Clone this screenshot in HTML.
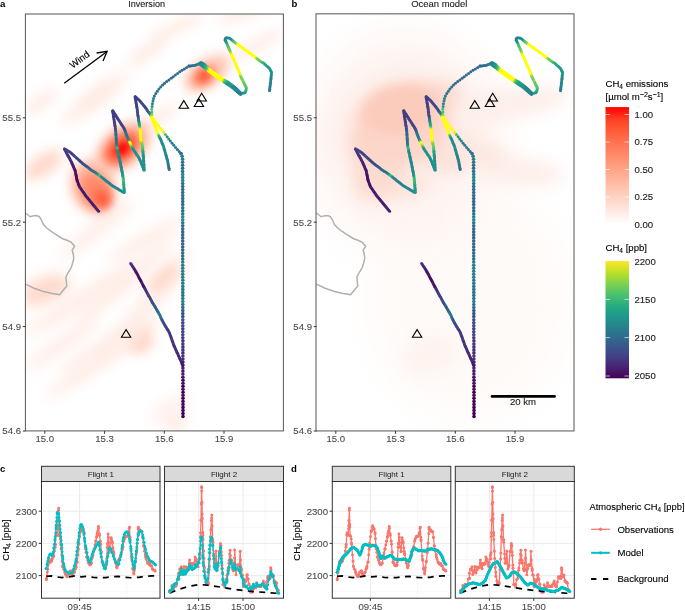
<!DOCTYPE html>
<html><head><meta charset="utf-8"><style>
html,body{margin:0;padding:0;background:#fff;width:685px;height:610px;overflow:hidden}
svg{display:block;will-change:transform}
text{font-family:"Liberation Sans",sans-serif}
</style></head><body>
<svg width="685" height="610" viewBox="0 0 685 610" font-family="Liberation Sans, sans-serif">
<defs><filter id="bl3" x="-100%" y="-100%" width="300%" height="300%"><feGaussianBlur stdDeviation="3"/></filter><filter id="bl4" x="-100%" y="-100%" width="300%" height="300%"><feGaussianBlur stdDeviation="4"/></filter><filter id="bl5" x="-100%" y="-100%" width="300%" height="300%"><feGaussianBlur stdDeviation="5"/></filter><filter id="bl6" x="-100%" y="-100%" width="300%" height="300%"><feGaussianBlur stdDeviation="6"/></filter><filter id="bl7" x="-100%" y="-100%" width="300%" height="300%"><feGaussianBlur stdDeviation="7"/></filter><filter id="bl8" x="-100%" y="-100%" width="300%" height="300%"><feGaussianBlur stdDeviation="8"/></filter><filter id="bl10" x="-100%" y="-100%" width="300%" height="300%"><feGaussianBlur stdDeviation="10"/></filter><filter id="bl12" x="-100%" y="-100%" width="300%" height="300%"><feGaussianBlur stdDeviation="12"/></filter><filter id="bl18" x="-100%" y="-100%" width="300%" height="300%"><feGaussianBlur stdDeviation="18"/></filter><filter id="bl20" x="-100%" y="-100%" width="300%" height="300%"><feGaussianBlur stdDeviation="20"/></filter></defs>
<defs>
<clipPath id="cpa"><rect x="25.5" y="14.5" width="258" height="416"/></clipPath>
<clipPath id="cpb"><rect x="316.5" y="14.5" width="258" height="416"/></clipPath>
<g id="trk"><circle cx="98.6" cy="211.3" r="1.50" fill="#481c6e"/><circle cx="97.8" cy="210.3" r="1.50" fill="#482979"/><circle cx="96.9" cy="209.3" r="1.50" fill="#482173"/><circle cx="96.1" cy="208.3" r="1.50" fill="#482878"/><circle cx="95.3" cy="207.3" r="1.50" fill="#472c7a"/><circle cx="94.5" cy="206.3" r="1.50" fill="#482374"/><circle cx="93.6" cy="205.3" r="1.50" fill="#482173"/><circle cx="92.8" cy="204.3" r="1.50" fill="#48186a"/><circle cx="92.0" cy="203.3" r="1.50" fill="#481c6e"/><circle cx="91.2" cy="202.3" r="1.50" fill="#482071"/><circle cx="90.3" cy="201.3" r="1.50" fill="#482374"/><circle cx="89.5" cy="200.3" r="1.50" fill="#482576"/><circle cx="88.7" cy="199.3" r="1.50" fill="#481c6e"/><circle cx="87.9" cy="198.2" r="1.50" fill="#481668"/><circle cx="87.0" cy="197.2" r="1.50" fill="#481a6c"/><circle cx="86.2" cy="196.2" r="1.50" fill="#482576"/><circle cx="85.4" cy="195.2" r="1.50" fill="#481769"/><circle cx="84.7" cy="194.1" r="1.50" fill="#481b6d"/><circle cx="83.9" cy="193.1" r="1.50" fill="#482475"/><circle cx="83.2" cy="192.0" r="1.50" fill="#471063"/><circle cx="82.5" cy="190.9" r="1.50" fill="#481c6e"/><circle cx="81.7" cy="189.9" r="1.50" fill="#482374"/><circle cx="81.0" cy="188.8" r="1.50" fill="#471365"/><circle cx="80.2" cy="187.7" r="1.50" fill="#48186a"/><circle cx="79.5" cy="186.7" r="1.50" fill="#481f70"/><circle cx="79.0" cy="185.4" r="1.50" fill="#470d60"/><circle cx="78.5" cy="184.2" r="1.50" fill="#471365"/><circle cx="78.1" cy="183.0" r="1.50" fill="#481668"/><circle cx="77.6" cy="181.8" r="1.50" fill="#471164"/><circle cx="77.1" cy="180.6" r="1.50" fill="#460b5e"/><circle cx="76.9" cy="179.3" r="1.50" fill="#46075a"/><circle cx="76.6" cy="178.1" r="1.50" fill="#470e61"/><circle cx="76.4" cy="176.8" r="1.50" fill="#470d60"/><circle cx="76.1" cy="175.5" r="1.50" fill="#471164"/><circle cx="75.9" cy="174.2" r="1.50" fill="#471063"/><circle cx="75.6" cy="172.9" r="1.50" fill="#481b6d"/><circle cx="75.4" cy="171.7" r="1.50" fill="#481b6d"/><circle cx="75.1" cy="170.4" r="1.50" fill="#471365"/><circle cx="74.6" cy="169.2" r="1.50" fill="#481b6d"/><circle cx="74.0" cy="168.0" r="1.50" fill="#481769"/><circle cx="73.5" cy="166.8" r="1.50" fill="#481c6e"/><circle cx="73.0" cy="165.6" r="1.50" fill="#481c6e"/><circle cx="72.5" cy="164.4" r="1.50" fill="#482475"/><circle cx="72.0" cy="163.2" r="1.50" fill="#482071"/><circle cx="71.5" cy="162.0" r="1.50" fill="#482475"/><circle cx="70.9" cy="160.9" r="1.50" fill="#472a7a"/><circle cx="70.2" cy="159.8" r="1.50" fill="#482677"/><circle cx="69.6" cy="158.6" r="1.50" fill="#46337f"/><circle cx="69.0" cy="157.5" r="1.50" fill="#482677"/><circle cx="68.4" cy="156.3" r="1.50" fill="#463480"/><circle cx="67.8" cy="155.2" r="1.50" fill="#472f7d"/><circle cx="67.1" cy="154.0" r="1.50" fill="#46327e"/><circle cx="66.5" cy="152.9" r="1.50" fill="#453882"/><circle cx="65.9" cy="151.8" r="1.50" fill="#453882"/><circle cx="65.3" cy="150.6" r="1.50" fill="#453882"/><circle cx="64.7" cy="149.5" r="1.50" fill="#46337f"/><circle cx="64.5" cy="148.8" r="1.50" fill="#453781"/><circle cx="65.6" cy="149.4" r="1.50" fill="#414287"/><circle cx="66.7" cy="150.1" r="1.50" fill="#424086"/><circle cx="67.8" cy="150.8" r="1.50" fill="#404588"/><circle cx="68.9" cy="151.5" r="1.50" fill="#3e4a89"/><circle cx="70.0" cy="152.1" r="1.50" fill="#404688"/><circle cx="71.0" cy="153.0" r="1.50" fill="#443b84"/><circle cx="72.0" cy="153.8" r="1.50" fill="#424086"/><circle cx="73.0" cy="154.7" r="1.50" fill="#404688"/><circle cx="73.9" cy="155.6" r="1.50" fill="#424086"/><circle cx="74.9" cy="156.4" r="1.50" fill="#3d4e8a"/><circle cx="75.9" cy="157.3" r="1.50" fill="#3d4e8a"/><circle cx="76.8" cy="158.2" r="1.50" fill="#3d4d8a"/><circle cx="77.8" cy="159.1" r="1.50" fill="#404688"/><circle cx="78.8" cy="159.9" r="1.50" fill="#3d4d8a"/><circle cx="79.7" cy="160.8" r="1.50" fill="#424186"/><circle cx="80.7" cy="161.7" r="1.50" fill="#404588"/><circle cx="81.7" cy="162.5" r="1.50" fill="#3f4889"/><circle cx="82.6" cy="163.4" r="1.50" fill="#3d4e8a"/><circle cx="83.7" cy="164.2" r="1.50" fill="#3d4d8a"/><circle cx="84.7" cy="165.0" r="1.50" fill="#3e4a89"/><circle cx="85.7" cy="165.8" r="1.50" fill="#3b528b"/><circle cx="86.8" cy="166.5" r="1.50" fill="#39558c"/><circle cx="87.8" cy="167.3" r="1.50" fill="#38598c"/><circle cx="88.8" cy="168.1" r="1.50" fill="#375b8d"/><circle cx="89.9" cy="168.9" r="1.50" fill="#33628d"/><circle cx="90.9" cy="169.7" r="1.50" fill="#31668e"/><circle cx="92.0" cy="170.5" r="1.50" fill="#2e6f8e"/><circle cx="93.0" cy="171.2" r="1.50" fill="#2c718e"/><circle cx="94.2" cy="171.8" r="1.50" fill="#2d718e"/><circle cx="95.3" cy="172.5" r="1.50" fill="#2c738e"/><circle cx="96.4" cy="173.2" r="1.50" fill="#297b8e"/><circle cx="97.5" cy="173.9" r="1.50" fill="#238a8d"/><circle cx="98.5" cy="174.7" r="1.50" fill="#1fa187"/><circle cx="99.5" cy="175.5" r="1.50" fill="#3fbc73"/><circle cx="100.5" cy="176.3" r="1.50" fill="#2db27d"/><circle cx="101.5" cy="177.1" r="1.50" fill="#238a8d"/><circle cx="102.6" cy="177.9" r="1.50" fill="#23898e"/><circle cx="103.6" cy="178.8" r="1.50" fill="#26818e"/><circle cx="104.6" cy="179.6" r="1.50" fill="#25838e"/><circle cx="105.6" cy="180.4" r="1.50" fill="#23888e"/><circle cx="106.6" cy="181.2" r="1.50" fill="#24878e"/><circle cx="107.7" cy="182.0" r="1.50" fill="#277f8e"/><circle cx="108.7" cy="182.8" r="1.50" fill="#24868e"/><circle cx="109.7" cy="183.6" r="1.50" fill="#277e8e"/><circle cx="110.7" cy="184.4" r="1.50" fill="#26828e"/><circle cx="111.7" cy="185.2" r="1.50" fill="#23898e"/><circle cx="112.8" cy="185.9" r="1.50" fill="#25838e"/><circle cx="113.9" cy="186.6" r="1.50" fill="#24878e"/><circle cx="115.0" cy="187.3" r="1.50" fill="#238a8d"/><circle cx="116.2" cy="187.9" r="1.50" fill="#228d8d"/><circle cx="117.3" cy="188.6" r="1.50" fill="#228d8d"/><circle cx="118.4" cy="189.3" r="1.50" fill="#25838e"/><circle cx="119.5" cy="190.0" r="1.50" fill="#238a8d"/><circle cx="120.6" cy="190.6" r="1.50" fill="#228c8d"/><circle cx="121.7" cy="191.3" r="1.50" fill="#24878e"/><circle cx="122.8" cy="192.0" r="1.50" fill="#21908d"/><circle cx="124.0" cy="192.6" r="1.50" fill="#20928c"/><circle cx="124.3" cy="192.1" r="1.50" fill="#1f978b"/><circle cx="124.2" cy="190.8" r="1.50" fill="#1e9d89"/><circle cx="124.1" cy="189.5" r="1.50" fill="#1f958b"/><circle cx="124.0" cy="188.2" r="1.50" fill="#1e9c89"/><circle cx="123.9" cy="186.9" r="1.50" fill="#21a685"/><circle cx="123.8" cy="185.6" r="1.50" fill="#1fa287"/><circle cx="123.7" cy="184.3" r="1.50" fill="#22a884"/><circle cx="123.6" cy="183.0" r="1.50" fill="#2cb17e"/><circle cx="123.5" cy="181.7" r="1.50" fill="#29af7f"/><circle cx="123.4" cy="180.5" r="1.50" fill="#3dbc74"/><circle cx="123.3" cy="179.2" r="1.50" fill="#48c16e"/><circle cx="123.2" cy="177.9" r="1.50" fill="#34b679"/><circle cx="122.9" cy="176.6" r="1.50" fill="#28ae80"/><circle cx="122.7" cy="175.3" r="1.50" fill="#20a386"/><circle cx="122.5" cy="174.0" r="1.50" fill="#1f978b"/><circle cx="122.3" cy="172.7" r="1.50" fill="#228b8d"/><circle cx="122.0" cy="171.5" r="1.50" fill="#23888e"/><circle cx="121.8" cy="170.2" r="1.50" fill="#21918c"/><circle cx="121.5" cy="168.9" r="1.50" fill="#21908d"/><circle cx="121.3" cy="167.6" r="1.50" fill="#25838e"/><circle cx="121.0" cy="166.4" r="1.50" fill="#25858e"/><circle cx="120.8" cy="165.1" r="1.50" fill="#23888e"/><circle cx="120.5" cy="163.8" r="1.50" fill="#238a8d"/><circle cx="120.2" cy="162.5" r="1.50" fill="#26818e"/><circle cx="120.0" cy="161.3" r="1.50" fill="#23898e"/><circle cx="119.7" cy="160.0" r="1.50" fill="#228c8d"/><circle cx="119.4" cy="158.7" r="1.50" fill="#238a8d"/><circle cx="119.1" cy="157.4" r="1.50" fill="#25858e"/><circle cx="118.9" cy="156.2" r="1.50" fill="#25848e"/><circle cx="118.6" cy="154.9" r="1.50" fill="#23898e"/><circle cx="118.3" cy="153.6" r="1.50" fill="#20928c"/><circle cx="118.0" cy="152.4" r="1.50" fill="#24878e"/><circle cx="117.7" cy="151.1" r="1.50" fill="#23888e"/><circle cx="117.5" cy="149.8" r="1.50" fill="#20928c"/><circle cx="117.2" cy="148.6" r="1.50" fill="#23a983"/><circle cx="116.9" cy="147.3" r="1.50" fill="#4ec36b"/><circle cx="116.7" cy="146.0" r="1.50" fill="#21a585"/><circle cx="116.6" cy="144.7" r="1.50" fill="#228b8d"/><circle cx="116.5" cy="143.4" r="1.50" fill="#297a8e"/><circle cx="116.4" cy="142.1" r="1.50" fill="#2b758e"/><circle cx="116.3" cy="140.8" r="1.50" fill="#2d708e"/><circle cx="116.2" cy="139.5" r="1.50" fill="#2c718e"/><circle cx="116.2" cy="138.2" r="1.50" fill="#2c738e"/><circle cx="116.1" cy="136.9" r="1.50" fill="#2a778e"/><circle cx="116.0" cy="135.6" r="1.50" fill="#2a778e"/><circle cx="115.9" cy="134.3" r="1.50" fill="#2f6b8e"/><circle cx="115.9" cy="133.0" r="1.50" fill="#31668e"/><circle cx="115.8" cy="131.7" r="1.50" fill="#2e6f8e"/><circle cx="115.6" cy="130.4" r="1.50" fill="#32648e"/><circle cx="115.4" cy="129.1" r="1.50" fill="#3c4f8a"/><circle cx="115.3" cy="127.9" r="1.50" fill="#3f4889"/><circle cx="115.1" cy="126.6" r="1.50" fill="#3e4989"/><circle cx="114.9" cy="125.3" r="1.50" fill="#404588"/><circle cx="114.7" cy="124.0" r="1.50" fill="#3f4889"/><circle cx="114.5" cy="122.7" r="1.50" fill="#443983"/><circle cx="114.3" cy="121.4" r="1.50" fill="#433d84"/><circle cx="114.1" cy="120.1" r="1.50" fill="#433d84"/><circle cx="113.9" cy="118.9" r="1.50" fill="#443983"/><circle cx="113.7" cy="117.6" r="1.50" fill="#3f4788"/><circle cx="113.5" cy="116.3" r="1.50" fill="#453781"/><circle cx="113.3" cy="115.0" r="1.50" fill="#414287"/><circle cx="113.1" cy="113.7" r="1.50" fill="#453781"/><circle cx="112.9" cy="112.4" r="1.50" fill="#443b84"/><circle cx="112.7" cy="111.1" r="1.50" fill="#433d84"/><circle cx="112.8" cy="110.7" r="1.50" fill="#453882"/><circle cx="113.5" cy="111.8" r="1.50" fill="#423f85"/><circle cx="114.2" cy="112.9" r="1.50" fill="#424086"/><circle cx="114.9" cy="114.0" r="1.50" fill="#433d84"/><circle cx="115.6" cy="115.1" r="1.50" fill="#404588"/><circle cx="116.3" cy="116.2" r="1.50" fill="#443b84"/><circle cx="117.0" cy="117.3" r="1.50" fill="#433d84"/><circle cx="117.6" cy="118.4" r="1.50" fill="#424086"/><circle cx="118.3" cy="119.5" r="1.50" fill="#424186"/><circle cx="119.0" cy="120.6" r="1.50" fill="#423f85"/><circle cx="119.8" cy="121.7" r="1.50" fill="#3d4d8a"/><circle cx="120.5" cy="122.8" r="1.50" fill="#3e4c8a"/><circle cx="121.2" cy="123.9" r="1.50" fill="#423f85"/><circle cx="121.9" cy="125.0" r="1.50" fill="#404588"/><circle cx="122.6" cy="126.1" r="1.50" fill="#414287"/><circle cx="123.3" cy="127.1" r="1.50" fill="#3f4788"/><circle cx="124.0" cy="128.2" r="1.50" fill="#404588"/><circle cx="124.6" cy="129.4" r="1.50" fill="#3d4d8a"/><circle cx="125.0" cy="130.6" r="1.50" fill="#355e8d"/><circle cx="125.4" cy="131.8" r="1.50" fill="#355f8d"/><circle cx="125.9" cy="133.1" r="1.50" fill="#2f6c8e"/><circle cx="126.3" cy="134.3" r="1.50" fill="#2b748e"/><circle cx="126.7" cy="135.5" r="1.50" fill="#287c8e"/><circle cx="127.2" cy="136.7" r="1.50" fill="#2c718e"/><circle cx="127.7" cy="137.9" r="1.50" fill="#287c8e"/><circle cx="128.2" cy="139.1" r="1.50" fill="#277f8e"/><circle cx="128.7" cy="140.3" r="1.50" fill="#228d8d"/><circle cx="129.3" cy="141.5" r="1.50" fill="#54c568"/><circle cx="129.9" cy="142.6" r="1.50" fill="#ffff00"/><circle cx="130.5" cy="143.8" r="1.50" fill="#ffff00"/><circle cx="131.0" cy="145.0" r="1.50" fill="#c5e021"/><circle cx="131.6" cy="146.2" r="1.50" fill="#7ad151"/><circle cx="132.2" cy="147.3" r="1.50" fill="#3aba76"/><circle cx="132.7" cy="148.5" r="1.50" fill="#1f978b"/><circle cx="133.4" cy="149.6" r="1.50" fill="#1f978b"/><circle cx="134.1" cy="150.7" r="1.50" fill="#1f968b"/><circle cx="134.9" cy="151.8" r="1.50" fill="#218f8d"/><circle cx="135.6" cy="152.8" r="1.50" fill="#20928c"/><circle cx="136.3" cy="153.9" r="1.50" fill="#23898e"/><circle cx="137.0" cy="155.0" r="1.50" fill="#1f978b"/><circle cx="137.8" cy="156.1" r="1.50" fill="#1f948c"/><circle cx="138.5" cy="157.1" r="1.50" fill="#20928c"/><circle cx="139.2" cy="158.2" r="1.50" fill="#1f948c"/><circle cx="139.7" cy="159.4" r="1.50" fill="#228c8d"/><circle cx="140.2" cy="160.6" r="1.50" fill="#218f8d"/><circle cx="140.7" cy="161.8" r="1.50" fill="#218e8d"/><circle cx="141.2" cy="163.0" r="1.50" fill="#20938c"/><circle cx="141.7" cy="164.3" r="1.50" fill="#228d8d"/><circle cx="142.2" cy="165.5" r="1.50" fill="#1f998a"/><circle cx="142.6" cy="166.7" r="1.50" fill="#20928c"/><circle cx="143.1" cy="167.9" r="1.50" fill="#20938c"/><circle cx="143.6" cy="169.1" r="1.50" fill="#218f8d"/><circle cx="144.1" cy="170.3" r="1.50" fill="#1f978b"/><circle cx="144.1" cy="169.4" r="1.50" fill="#1f998a"/><circle cx="144.1" cy="168.1" r="1.50" fill="#1f958b"/><circle cx="144.0" cy="166.8" r="1.50" fill="#218f8d"/><circle cx="143.9" cy="165.5" r="1.50" fill="#1f968b"/><circle cx="143.9" cy="164.2" r="1.50" fill="#228c8d"/><circle cx="143.8" cy="162.9" r="1.50" fill="#1f958b"/><circle cx="143.7" cy="161.6" r="1.50" fill="#20928c"/><circle cx="143.6" cy="160.4" r="1.50" fill="#228d8d"/><circle cx="143.5" cy="159.1" r="1.50" fill="#21918c"/><circle cx="143.5" cy="157.8" r="1.50" fill="#20928c"/><circle cx="143.3" cy="156.5" r="1.50" fill="#218e8d"/><circle cx="143.2" cy="155.2" r="1.50" fill="#1f9a8a"/><circle cx="143.1" cy="153.9" r="1.50" fill="#1f968b"/><circle cx="143.0" cy="152.6" r="1.50" fill="#1fa188"/><circle cx="142.9" cy="151.3" r="1.50" fill="#22a884"/><circle cx="142.8" cy="150.0" r="1.50" fill="#24aa83"/><circle cx="142.7" cy="148.7" r="1.50" fill="#3fbc73"/><circle cx="142.6" cy="147.4" r="1.50" fill="#50c46a"/><circle cx="142.4" cy="146.1" r="1.50" fill="#6ccd5a"/><circle cx="142.1" cy="144.8" r="1.50" fill="#6ccd5a"/><circle cx="141.8" cy="143.6" r="1.50" fill="#70cf57"/><circle cx="141.6" cy="142.3" r="1.50" fill="#89d548"/><circle cx="141.3" cy="141.0" r="1.50" fill="#cae11f"/><circle cx="141.0" cy="139.8" r="1.50" fill="#ffff00"/><circle cx="140.9" cy="138.5" r="1.50" fill="#ffff00"/><circle cx="140.8" cy="137.2" r="1.50" fill="#ffff00"/><circle cx="140.7" cy="135.9" r="1.50" fill="#ffff00"/><circle cx="140.6" cy="134.6" r="1.50" fill="#ffff00"/><circle cx="140.5" cy="133.3" r="1.50" fill="#ffff00"/><circle cx="140.4" cy="132.0" r="1.50" fill="#ffff00"/><circle cx="140.3" cy="130.7" r="1.50" fill="#ffff00"/><circle cx="140.2" cy="129.4" r="1.50" fill="#ffff00"/><circle cx="140.0" cy="128.1" r="1.50" fill="#f6e620"/><circle cx="139.8" cy="126.8" r="1.50" fill="#7cd250"/><circle cx="139.5" cy="125.6" r="1.50" fill="#2fb47c"/><circle cx="139.3" cy="124.3" r="1.50" fill="#28ae80"/><circle cx="139.1" cy="123.0" r="1.50" fill="#1e9d89"/><circle cx="138.9" cy="121.7" r="1.50" fill="#20928c"/><circle cx="138.7" cy="120.4" r="1.50" fill="#27808e"/><circle cx="138.5" cy="119.1" r="1.50" fill="#2d708e"/><circle cx="138.3" cy="117.9" r="1.50" fill="#2e6d8e"/><circle cx="138.1" cy="116.6" r="1.50" fill="#3b518b"/><circle cx="137.9" cy="115.3" r="1.50" fill="#3f4889"/><circle cx="137.7" cy="114.0" r="1.50" fill="#3b528b"/><circle cx="137.6" cy="112.7" r="1.50" fill="#3e4989"/><circle cx="137.4" cy="111.4" r="1.50" fill="#3f4788"/><circle cx="137.3" cy="110.1" r="1.50" fill="#3d4e8a"/><circle cx="137.1" cy="108.8" r="1.50" fill="#424186"/><circle cx="136.9" cy="107.5" r="1.50" fill="#3e4989"/><circle cx="136.7" cy="106.3" r="1.50" fill="#404588"/><circle cx="136.5" cy="105.0" r="1.50" fill="#423f85"/><circle cx="136.3" cy="103.7" r="1.50" fill="#443983"/><circle cx="136.0" cy="102.4" r="1.50" fill="#443b84"/><circle cx="135.8" cy="101.1" r="1.50" fill="#3f4889"/><circle cx="135.6" cy="99.8" r="1.50" fill="#433e85"/><circle cx="135.4" cy="98.6" r="1.50" fill="#453882"/><circle cx="135.2" cy="97.3" r="1.50" fill="#443a83"/><circle cx="135.2" cy="96.5" r="1.50" fill="#404588"/><circle cx="136.2" cy="97.4" r="1.50" fill="#443983"/><circle cx="137.1" cy="98.3" r="1.50" fill="#404588"/><circle cx="138.1" cy="99.2" r="1.50" fill="#443a83"/><circle cx="139.0" cy="100.1" r="1.50" fill="#3e4a89"/><circle cx="140.0" cy="101.0" r="1.50" fill="#414487"/><circle cx="140.8" cy="102.0" r="1.50" fill="#443b84"/><circle cx="141.6" cy="103.0" r="1.50" fill="#3d4d8a"/><circle cx="142.5" cy="104.0" r="1.50" fill="#414487"/><circle cx="143.3" cy="105.0" r="1.50" fill="#3e4c8a"/><circle cx="144.1" cy="106.0" r="1.50" fill="#3f4889"/><circle cx="145.0" cy="107.0" r="1.50" fill="#414287"/><circle cx="145.7" cy="108.0" r="1.50" fill="#3f4788"/><circle cx="146.5" cy="109.1" r="1.50" fill="#3d4d8a"/><circle cx="147.2" cy="110.1" r="1.50" fill="#3b518b"/><circle cx="147.9" cy="111.2" r="1.50" fill="#3a548c"/><circle cx="148.7" cy="112.3" r="1.50" fill="#375b8d"/><circle cx="149.5" cy="113.3" r="1.50" fill="#2c738e"/><circle cx="150.3" cy="114.3" r="1.50" fill="#2c718e"/><circle cx="150.8" cy="115.5" r="1.50" fill="#44bf70"/><circle cx="151.4" cy="116.7" r="1.50" fill="#ffff00"/><circle cx="151.8" cy="117.9" r="1.50" fill="#ffff00"/><circle cx="152.3" cy="119.1" r="1.50" fill="#ffff00"/><circle cx="152.8" cy="120.3" r="1.50" fill="#ffff00"/><circle cx="153.2" cy="121.6" r="1.50" fill="#ffff00"/><circle cx="153.7" cy="122.8" r="1.50" fill="#ffff00"/><circle cx="154.2" cy="124.0" r="1.50" fill="#ffff00"/><circle cx="154.6" cy="125.2" r="1.50" fill="#ffff00"/><circle cx="155.1" cy="126.4" r="1.50" fill="#ffff00"/><circle cx="155.6" cy="127.6" r="1.50" fill="#ffff00"/><circle cx="156.0" cy="128.8" r="1.50" fill="#ffff00"/><circle cx="156.5" cy="130.1" r="1.50" fill="#ffff00"/><circle cx="157.0" cy="131.3" r="1.50" fill="#ffff00"/><circle cx="157.4" cy="132.5" r="1.50" fill="#ffff00"/><circle cx="157.9" cy="133.7" r="1.50" fill="#ffff00"/><circle cx="158.4" cy="134.9" r="1.50" fill="#a8db34"/><circle cx="159.0" cy="136.1" r="1.50" fill="#3aba76"/><circle cx="159.6" cy="137.2" r="1.50" fill="#22a785"/><circle cx="160.2" cy="138.4" r="1.50" fill="#1f968b"/><circle cx="160.7" cy="139.6" r="1.50" fill="#21908d"/><circle cx="161.2" cy="140.8" r="1.50" fill="#23898e"/><circle cx="161.7" cy="142.0" r="1.50" fill="#1f978b"/><circle cx="162.2" cy="143.2" r="1.50" fill="#238a8d"/><circle cx="162.7" cy="144.4" r="1.50" fill="#218f8d"/><circle cx="163.2" cy="145.6" r="1.50" fill="#21918c"/><circle cx="163.6" cy="146.8" r="1.50" fill="#1f958b"/><circle cx="164.0" cy="148.0" r="1.50" fill="#20938c"/><circle cx="164.3" cy="149.3" r="1.50" fill="#218f8d"/><circle cx="164.7" cy="150.5" r="1.50" fill="#228b8d"/><circle cx="165.0" cy="151.8" r="1.50" fill="#21918c"/><circle cx="165.4" cy="153.0" r="1.50" fill="#21908d"/><circle cx="165.7" cy="154.3" r="1.50" fill="#218f8d"/><circle cx="166.1" cy="155.6" r="1.50" fill="#228c8d"/><circle cx="166.4" cy="156.8" r="1.50" fill="#26828e"/><circle cx="166.8" cy="158.1" r="1.50" fill="#25838e"/><circle cx="167.2" cy="159.3" r="1.50" fill="#25858e"/><circle cx="167.5" cy="160.6" r="1.50" fill="#25848e"/><circle cx="167.8" cy="161.8" r="1.50" fill="#24878e"/><circle cx="168.0" cy="163.1" r="1.50" fill="#287c8e"/><circle cx="168.2" cy="164.4" r="1.50" fill="#27808e"/><circle cx="168.5" cy="165.7" r="1.50" fill="#29798e"/><circle cx="168.7" cy="166.9" r="1.50" fill="#287c8e"/><circle cx="169.0" cy="168.2" r="1.50" fill="#2c718e"/><circle cx="169.2" cy="169.5" r="1.50" fill="#2c728e"/><circle cx="183.0" cy="416.5" r="1.80" fill="#440154"/><circle cx="183.0" cy="413.5" r="1.80" fill="#440154"/><circle cx="183.0" cy="410.4" r="1.80" fill="#460b5e"/><circle cx="183.0" cy="407.4" r="1.80" fill="#440154"/><circle cx="183.0" cy="404.4" r="1.80" fill="#470d60"/><circle cx="183.0" cy="401.4" r="1.80" fill="#450559"/><circle cx="183.0" cy="398.3" r="1.80" fill="#440154"/><circle cx="183.0" cy="395.3" r="1.80" fill="#470d60"/><circle cx="183.0" cy="392.3" r="1.80" fill="#440154"/><circle cx="183.0" cy="389.3" r="1.80" fill="#471063"/><circle cx="183.0" cy="386.2" r="1.80" fill="#440154"/><circle cx="183.0" cy="383.2" r="1.80" fill="#471365"/><circle cx="183.0" cy="380.2" r="1.80" fill="#460a5d"/><circle cx="182.9" cy="377.2" r="1.80" fill="#471164"/><circle cx="182.9" cy="374.1" r="1.80" fill="#482071"/><circle cx="182.9" cy="371.1" r="1.80" fill="#481a6c"/><circle cx="182.9" cy="368.1" r="1.80" fill="#482071"/><circle cx="182.9" cy="365.0" r="1.80" fill="#482576"/><circle cx="182.9" cy="362.0" r="1.80" fill="#481c6e"/><circle cx="182.9" cy="359.0" r="1.80" fill="#472f7d"/><circle cx="182.9" cy="356.0" r="1.80" fill="#463480"/><circle cx="182.9" cy="352.9" r="1.80" fill="#472a7a"/><circle cx="182.9" cy="349.9" r="1.80" fill="#453581"/><circle cx="182.9" cy="346.9" r="1.80" fill="#46337f"/><circle cx="182.9" cy="343.9" r="1.80" fill="#433e85"/><circle cx="182.9" cy="340.8" r="1.80" fill="#46337f"/><circle cx="182.8" cy="337.8" r="1.80" fill="#433e85"/><circle cx="182.8" cy="334.8" r="1.80" fill="#404588"/><circle cx="182.8" cy="331.8" r="1.80" fill="#404688"/><circle cx="182.8" cy="328.7" r="1.80" fill="#433e85"/><circle cx="182.8" cy="325.7" r="1.80" fill="#3c4f8a"/><circle cx="182.8" cy="322.7" r="1.80" fill="#3e4989"/><circle cx="182.8" cy="319.7" r="1.80" fill="#38588c"/><circle cx="182.8" cy="316.6" r="1.80" fill="#39568c"/><circle cx="182.8" cy="313.6" r="1.80" fill="#3a548c"/><circle cx="182.8" cy="310.6" r="1.80" fill="#33628d"/><circle cx="182.8" cy="307.5" r="1.80" fill="#2e6d8e"/><circle cx="182.8" cy="304.5" r="1.80" fill="#2a768e"/><circle cx="182.8" cy="301.5" r="1.80" fill="#25838e"/><circle cx="182.8" cy="298.5" r="1.80" fill="#29798e"/><circle cx="182.8" cy="295.4" r="1.80" fill="#29798e"/><circle cx="182.8" cy="292.4" r="1.80" fill="#2a788e"/><circle cx="182.8" cy="289.4" r="1.80" fill="#277e8e"/><circle cx="182.8" cy="286.4" r="1.80" fill="#297b8e"/><circle cx="182.8" cy="283.3" r="1.80" fill="#287c8e"/><circle cx="182.8" cy="280.3" r="1.80" fill="#277f8e"/><circle cx="182.7" cy="277.3" r="1.80" fill="#277e8e"/><circle cx="182.7" cy="274.3" r="1.80" fill="#297b8e"/><circle cx="182.7" cy="271.2" r="1.80" fill="#25838e"/><circle cx="182.7" cy="268.2" r="1.80" fill="#277f8e"/><circle cx="182.7" cy="265.2" r="1.80" fill="#277e8e"/><circle cx="182.7" cy="262.1" r="1.80" fill="#26818e"/><circle cx="182.7" cy="259.1" r="1.80" fill="#2c718e"/><circle cx="182.7" cy="256.1" r="1.80" fill="#2c738e"/><circle cx="182.7" cy="253.1" r="1.80" fill="#2e6f8e"/><circle cx="182.7" cy="250.0" r="1.80" fill="#32658e"/><circle cx="182.7" cy="247.0" r="1.80" fill="#33628d"/><circle cx="182.7" cy="244.0" r="1.80" fill="#31678e"/><circle cx="182.7" cy="241.0" r="1.80" fill="#355f8d"/><circle cx="182.7" cy="237.9" r="1.80" fill="#31678e"/><circle cx="182.7" cy="234.9" r="1.80" fill="#2f6b8e"/><circle cx="182.7" cy="231.9" r="1.80" fill="#31668e"/><circle cx="182.7" cy="228.9" r="1.80" fill="#2d718e"/><circle cx="182.7" cy="225.8" r="1.80" fill="#2e6e8e"/><circle cx="182.7" cy="222.8" r="1.80" fill="#2a778e"/><circle cx="182.7" cy="219.8" r="1.80" fill="#238a8d"/><circle cx="182.7" cy="216.7" r="1.80" fill="#24878e"/><circle cx="182.7" cy="213.7" r="1.80" fill="#29798e"/><circle cx="182.7" cy="210.7" r="1.80" fill="#30698e"/><circle cx="182.7" cy="207.7" r="1.80" fill="#2c728e"/><circle cx="182.7" cy="204.6" r="1.80" fill="#2e6d8e"/><circle cx="182.7" cy="201.6" r="1.80" fill="#31688e"/><circle cx="182.7" cy="198.6" r="1.80" fill="#2f6b8e"/><circle cx="182.7" cy="195.6" r="1.80" fill="#2c718e"/><circle cx="182.7" cy="192.5" r="1.80" fill="#2d718e"/><circle cx="182.7" cy="189.5" r="1.80" fill="#2f6c8e"/><circle cx="182.7" cy="186.5" r="1.80" fill="#306a8e"/><circle cx="182.7" cy="183.5" r="1.80" fill="#2c718e"/><circle cx="182.7" cy="180.4" r="1.80" fill="#24878e"/><circle cx="182.7" cy="177.4" r="1.80" fill="#23898e"/><circle cx="182.7" cy="174.4" r="1.80" fill="#23888e"/><circle cx="182.6" cy="171.4" r="1.80" fill="#2a788e"/><circle cx="182.6" cy="168.3" r="1.80" fill="#306a8e"/><circle cx="182.6" cy="165.3" r="1.80" fill="#2d708e"/><circle cx="182.6" cy="162.3" r="1.80" fill="#2a768e"/><circle cx="182.6" cy="159.2" r="1.80" fill="#297b8e"/><circle cx="182.1" cy="156.3" r="1.80" fill="#297a8e"/><circle cx="181.0" cy="153.5" r="1.80" fill="#297a8e"/><circle cx="181.0" cy="153.5" r="1.50" fill="#2d708e"/><circle cx="179.2" cy="151.5" r="1.50" fill="#2d718e"/><circle cx="177.4" cy="149.4" r="1.50" fill="#2a778e"/><circle cx="175.6" cy="147.4" r="1.50" fill="#287c8e"/><circle cx="173.8" cy="145.3" r="1.50" fill="#26818e"/><circle cx="172.1" cy="143.2" r="1.50" fill="#287c8e"/><circle cx="170.4" cy="141.1" r="1.50" fill="#24878e"/><circle cx="168.7" cy="138.9" r="1.50" fill="#21908d"/><circle cx="167.1" cy="136.8" r="1.50" fill="#1f948c"/><circle cx="165.4" cy="134.6" r="1.50" fill="#40bd72"/><circle cx="163.7" cy="132.5" r="1.50" fill="#f1e51d"/><circle cx="162.1" cy="130.3" r="1.50" fill="#ffff00"/><circle cx="160.4" cy="128.2" r="1.50" fill="#ffff00"/><circle cx="158.7" cy="126.0" r="1.50" fill="#ffff00"/><circle cx="157.1" cy="123.9" r="1.50" fill="#ffff00"/><circle cx="155.4" cy="121.7" r="1.50" fill="#ffff00"/><circle cx="153.7" cy="119.6" r="1.50" fill="#ffff00"/><circle cx="152.3" cy="117.3" r="1.50" fill="#ffff00"/><circle cx="152.0" cy="114.6" r="1.50" fill="#8ed645"/><circle cx="151.8" cy="111.9" r="1.50" fill="#44bf70"/><circle cx="151.7" cy="109.2" r="1.50" fill="#48c16e"/><circle cx="152.1" cy="106.5" r="1.50" fill="#1e9c89"/><circle cx="152.4" cy="103.8" r="1.50" fill="#26828e"/><circle cx="153.0" cy="101.1" r="1.50" fill="#277f8e"/><circle cx="153.5" cy="98.4" r="1.50" fill="#26828e"/><circle cx="154.4" cy="95.9" r="1.50" fill="#29798e"/><circle cx="155.8" cy="93.6" r="1.50" fill="#2c738e"/><circle cx="157.3" cy="91.2" r="1.50" fill="#2c728e"/><circle cx="158.9" cy="89.1" r="1.50" fill="#2a788e"/><circle cx="160.7" cy="87.1" r="1.50" fill="#2b758e"/><circle cx="162.5" cy="85.1" r="1.50" fill="#306a8e"/><circle cx="164.5" cy="83.2" r="1.50" fill="#306a8e"/><circle cx="166.7" cy="81.6" r="1.50" fill="#2f6c8e"/><circle cx="168.9" cy="80.0" r="1.50" fill="#30698e"/><circle cx="171.1" cy="78.3" r="1.50" fill="#2e6d8e"/><circle cx="173.2" cy="76.7" r="1.50" fill="#31688e"/><circle cx="175.4" cy="75.0" r="1.50" fill="#2e6d8e"/><circle cx="177.6" cy="73.4" r="1.50" fill="#2c728e"/><circle cx="179.8" cy="71.8" r="1.50" fill="#2d718e"/><circle cx="182.0" cy="70.3" r="1.50" fill="#31668e"/><circle cx="184.4" cy="68.9" r="1.50" fill="#31688e"/><circle cx="186.7" cy="67.4" r="1.50" fill="#2f6b8e"/><circle cx="189.0" cy="66.0" r="1.50" fill="#2e6e8e"/><circle cx="189.0" cy="66.0" r="1.50" fill="#306a8e"/><circle cx="190.4" cy="65.9" r="1.50" fill="#306a8e"/><circle cx="191.8" cy="65.7" r="1.50" fill="#2e6d8e"/><circle cx="193.2" cy="65.6" r="1.50" fill="#2e6d8e"/><circle cx="194.6" cy="65.5" r="1.50" fill="#2a778e"/><circle cx="195.9" cy="65.1" r="1.50" fill="#2a778e"/><circle cx="197.2" cy="64.5" r="1.50" fill="#2a778e"/><circle cx="198.4" cy="63.9" r="1.50" fill="#277f8e"/><circle cx="199.7" cy="63.3" r="1.50" fill="#27808e"/><circle cx="200.9" cy="62.6" r="1.50" fill="#25838e"/><circle cx="202.2" cy="63.1" r="1.50" fill="#25858e"/><circle cx="203.4" cy="63.8" r="1.50" fill="#228c8d"/><circle cx="204.6" cy="64.5" r="1.50" fill="#1f988b"/><circle cx="205.5" cy="65.5" r="1.50" fill="#22a884"/><circle cx="206.5" cy="66.5" r="1.50" fill="#3bbb75"/><circle cx="207.5" cy="67.5" r="1.50" fill="#5ec962"/><circle cx="208.5" cy="68.5" r="1.50" fill="#cae11f"/><circle cx="209.5" cy="69.5" r="1.50" fill="#ffff00"/><circle cx="210.6" cy="70.3" r="1.50" fill="#ffff00"/><circle cx="211.7" cy="71.1" r="1.50" fill="#ffff00"/><circle cx="212.9" cy="71.9" r="1.50" fill="#ffff00"/><circle cx="214.0" cy="72.7" r="1.50" fill="#ffff00"/><circle cx="215.2" cy="73.5" r="1.50" fill="#ffff00"/><circle cx="216.3" cy="74.3" r="1.50" fill="#ffff00"/><circle cx="217.5" cy="75.1" r="1.50" fill="#ffff00"/><circle cx="218.6" cy="75.9" r="1.50" fill="#ffff00"/><circle cx="219.8" cy="76.7" r="1.50" fill="#ffff00"/><circle cx="220.9" cy="77.5" r="1.50" fill="#ffff00"/><circle cx="222.1" cy="78.3" r="1.50" fill="#ffff00"/><circle cx="223.2" cy="79.2" r="1.50" fill="#ffff00"/><circle cx="224.3" cy="80.0" r="1.50" fill="#9bd93c"/><circle cx="225.5" cy="80.8" r="1.50" fill="#44bf70"/><circle cx="226.7" cy="81.5" r="1.50" fill="#32b67a"/><circle cx="228.0" cy="82.1" r="1.50" fill="#20a386"/><circle cx="229.1" cy="82.9" r="1.50" fill="#1fa088"/><circle cx="230.2" cy="83.8" r="1.50" fill="#1fa287"/><circle cx="231.4" cy="84.6" r="1.50" fill="#1e9c89"/><circle cx="232.5" cy="85.4" r="1.50" fill="#1f978b"/><circle cx="233.6" cy="86.3" r="1.50" fill="#238a8d"/><circle cx="234.7" cy="87.2" r="1.50" fill="#23888e"/><circle cx="235.7" cy="88.1" r="1.50" fill="#25838e"/><circle cx="236.8" cy="89.1" r="1.50" fill="#26828e"/><circle cx="237.8" cy="90.0" r="1.50" fill="#26818e"/><circle cx="238.8" cy="90.9" r="1.50" fill="#228b8d"/><circle cx="239.8" cy="91.9" r="1.50" fill="#238a8d"/><circle cx="240.8" cy="92.9" r="1.50" fill="#27808e"/><circle cx="242.1" cy="93.2" r="1.50" fill="#25858e"/><circle cx="243.5" cy="93.0" r="1.50" fill="#1f988b"/><circle cx="244.8" cy="92.8" r="1.50" fill="#1e9b8a"/><circle cx="245.5" cy="91.7" r="1.50" fill="#1fa287"/><circle cx="245.9" cy="90.4" r="1.50" fill="#27ad81"/><circle cx="246.2" cy="89.0" r="1.50" fill="#32b67a"/><circle cx="246.3" cy="87.7" r="1.50" fill="#48c16e"/><circle cx="245.7" cy="86.4" r="1.50" fill="#52c569"/><circle cx="245.1" cy="85.2" r="1.50" fill="#52c569"/><circle cx="244.4" cy="83.9" r="1.50" fill="#63cb5f"/><circle cx="243.8" cy="82.6" r="1.50" fill="#54c568"/><circle cx="243.2" cy="81.4" r="1.50" fill="#70cf57"/><circle cx="242.6" cy="80.1" r="1.50" fill="#8ed645"/><circle cx="241.9" cy="78.9" r="1.50" fill="#6ece58"/><circle cx="241.3" cy="77.6" r="1.50" fill="#7ad151"/><circle cx="240.7" cy="76.4" r="1.50" fill="#7fd34e"/><circle cx="240.2" cy="75.1" r="1.50" fill="#a5db36"/><circle cx="239.8" cy="73.7" r="1.50" fill="#fde725"/><circle cx="239.3" cy="72.4" r="1.50" fill="#ffff00"/><circle cx="238.8" cy="71.1" r="1.50" fill="#ffff00"/><circle cx="238.2" cy="69.8" r="1.50" fill="#ffff00"/><circle cx="237.7" cy="68.5" r="1.50" fill="#ffff00"/><circle cx="237.1" cy="67.3" r="1.50" fill="#ffff00"/><circle cx="236.5" cy="66.0" r="1.50" fill="#ffff00"/><circle cx="236.0" cy="64.7" r="1.50" fill="#ffff00"/><circle cx="235.4" cy="63.4" r="1.50" fill="#ffff00"/><circle cx="234.8" cy="62.1" r="1.50" fill="#ffff00"/><circle cx="234.3" cy="60.8" r="1.50" fill="#ffff00"/><circle cx="233.7" cy="59.6" r="1.50" fill="#ffff00"/><circle cx="233.2" cy="58.3" r="1.50" fill="#ffff00"/><circle cx="232.6" cy="57.0" r="1.50" fill="#ffff00"/><circle cx="232.0" cy="55.7" r="1.50" fill="#ffff00"/><circle cx="231.5" cy="54.4" r="1.50" fill="#ffff00"/><circle cx="230.9" cy="53.1" r="1.50" fill="#f4e61e"/><circle cx="230.4" cy="51.8" r="1.50" fill="#aadc32"/><circle cx="229.8" cy="50.6" r="1.50" fill="#86d549"/><circle cx="229.3" cy="49.3" r="1.50" fill="#58c765"/><circle cx="228.8" cy="47.9" r="1.50" fill="#69cd5b"/><circle cx="228.2" cy="46.7" r="1.50" fill="#4ac16d"/><circle cx="227.6" cy="45.4" r="1.50" fill="#48c16e"/><circle cx="227.1" cy="44.1" r="1.50" fill="#44bf70"/><circle cx="226.5" cy="42.8" r="1.50" fill="#24aa83"/><circle cx="225.8" cy="41.6" r="1.50" fill="#21918c"/><circle cx="225.2" cy="40.3" r="1.50" fill="#23898e"/><circle cx="225.1" cy="39.1" r="1.50" fill="#26818e"/><circle cx="225.8" cy="37.9" r="1.50" fill="#25858e"/><circle cx="227.0" cy="37.7" r="1.50" fill="#25848e"/><circle cx="228.4" cy="37.9" r="1.50" fill="#25838e"/><circle cx="229.7" cy="38.3" r="1.50" fill="#228d8d"/><circle cx="230.8" cy="39.1" r="1.50" fill="#1f968b"/><circle cx="231.9" cy="40.0" r="1.50" fill="#1f9a8a"/><circle cx="233.0" cy="40.9" r="1.50" fill="#25ab82"/><circle cx="234.0" cy="41.8" r="1.50" fill="#52c569"/><circle cx="235.1" cy="42.7" r="1.50" fill="#60ca60"/><circle cx="236.2" cy="43.6" r="1.50" fill="#7ad151"/><circle cx="237.4" cy="44.3" r="1.50" fill="#fde725"/><circle cx="238.6" cy="45.1" r="1.50" fill="#ffff00"/><circle cx="239.7" cy="45.9" r="1.50" fill="#ffff00"/><circle cx="240.9" cy="46.7" r="1.50" fill="#ffff00"/><circle cx="242.0" cy="47.5" r="1.50" fill="#ffff00"/><circle cx="243.2" cy="48.3" r="1.50" fill="#ffff00"/><circle cx="244.3" cy="49.2" r="1.50" fill="#ffff00"/><circle cx="245.4" cy="50.0" r="1.50" fill="#ffff00"/><circle cx="246.6" cy="50.8" r="1.50" fill="#ffff00"/><circle cx="247.7" cy="51.6" r="1.50" fill="#ffff00"/><circle cx="248.8" cy="52.4" r="1.50" fill="#ffff00"/><circle cx="250.0" cy="53.3" r="1.50" fill="#ffff00"/><circle cx="251.1" cy="54.1" r="1.50" fill="#ffff00"/><circle cx="252.2" cy="54.9" r="1.50" fill="#ffff00"/><circle cx="253.3" cy="55.8" r="1.50" fill="#ffff00"/><circle cx="254.5" cy="56.6" r="1.50" fill="#ffff00"/><circle cx="255.6" cy="57.4" r="1.50" fill="#ffff00"/><circle cx="256.7" cy="58.3" r="1.50" fill="#a8db34"/><circle cx="257.8" cy="59.2" r="1.50" fill="#73d056"/><circle cx="258.9" cy="60.1" r="1.50" fill="#6ccd5a"/><circle cx="260.0" cy="61.0" r="1.50" fill="#63cb5f"/><circle cx="261.2" cy="61.7" r="1.50" fill="#5ac864"/><circle cx="262.4" cy="62.4" r="1.50" fill="#3bbb75"/><circle cx="263.6" cy="63.1" r="1.50" fill="#31b57b"/><circle cx="264.6" cy="64.0" r="1.50" fill="#25ac82"/><circle cx="265.7" cy="65.0" r="1.50" fill="#22a884"/><circle cx="266.7" cy="65.9" r="1.50" fill="#22a884"/><circle cx="267.8" cy="66.8" r="1.50" fill="#1fa088"/><circle cx="268.8" cy="67.8" r="1.50" fill="#1f988b"/><circle cx="269.7" cy="68.8" r="1.50" fill="#1f998a"/><circle cx="270.4" cy="70.1" r="1.50" fill="#1e9b8a"/><circle cx="271.0" cy="71.3" r="1.50" fill="#21908d"/><circle cx="271.5" cy="72.6" r="1.50" fill="#1f958b"/><circle cx="271.4" cy="74.0" r="1.50" fill="#21918c"/><circle cx="271.2" cy="75.4" r="1.50" fill="#218e8d"/><circle cx="271.1" cy="76.8" r="1.50" fill="#218f8d"/><circle cx="271.0" cy="78.2" r="1.50" fill="#26818e"/><circle cx="270.9" cy="79.6" r="1.50" fill="#26818e"/><circle cx="270.7" cy="81.0" r="1.50" fill="#238a8d"/><circle cx="270.5" cy="82.4" r="1.50" fill="#238a8d"/><circle cx="270.4" cy="83.7" r="1.50" fill="#277e8e"/><circle cx="270.2" cy="85.1" r="1.50" fill="#23888e"/><circle cx="270.0" cy="86.5" r="1.50" fill="#287d8e"/><circle cx="269.8" cy="87.9" r="1.50" fill="#277f8e"/><circle cx="269.7" cy="89.3" r="1.50" fill="#277f8e"/><circle cx="269.5" cy="90.7" r="1.50" fill="#26828e"/><circle cx="200.5" cy="64.8" r="1.50" fill="#26828e"/><circle cx="201.7" cy="65.6" r="1.50" fill="#218f8d"/><circle cx="202.9" cy="66.4" r="1.50" fill="#228d8d"/><circle cx="204.0" cy="67.2" r="1.50" fill="#20938c"/><circle cx="205.2" cy="68.1" r="1.50" fill="#23a983"/><circle cx="206.3" cy="69.0" r="1.50" fill="#37b878"/><circle cx="207.4" cy="69.9" r="1.50" fill="#73d056"/><circle cx="208.4" cy="70.9" r="1.50" fill="#f6e620"/><circle cx="209.5" cy="71.8" r="1.50" fill="#ffff00"/><circle cx="210.6" cy="72.6" r="1.50" fill="#ffff00"/><circle cx="211.8" cy="73.4" r="1.50" fill="#ffff00"/><circle cx="213.0" cy="74.3" r="1.50" fill="#ffff00"/><circle cx="214.1" cy="75.1" r="1.50" fill="#ffff00"/><circle cx="215.3" cy="75.9" r="1.50" fill="#ffff00"/><circle cx="216.5" cy="76.7" r="1.50" fill="#ffff00"/><circle cx="217.7" cy="77.5" r="1.50" fill="#ffff00"/><circle cx="218.8" cy="78.3" r="1.50" fill="#ffff00"/><circle cx="220.0" cy="79.1" r="1.50" fill="#ffff00"/><circle cx="221.2" cy="79.9" r="1.50" fill="#ffff00"/><circle cx="222.3" cy="80.8" r="1.50" fill="#ffff00"/><circle cx="223.5" cy="81.6" r="1.50" fill="#a2da37"/><circle cx="224.7" cy="82.4" r="1.50" fill="#3aba76"/><circle cx="225.9" cy="83.2" r="1.50" fill="#27ad81"/><circle cx="227.1" cy="83.9" r="1.50" fill="#1e9c89"/><circle cx="228.3" cy="84.7" r="1.50" fill="#1e9d89"/><circle cx="229.4" cy="85.5" r="1.50" fill="#1f968b"/><circle cx="230.6" cy="86.3" r="1.50" fill="#21918c"/><circle cx="231.8" cy="87.2" r="1.50" fill="#20928c"/><circle cx="233.0" cy="88.0" r="1.50" fill="#228c8d"/><circle cx="234.0" cy="88.9" r="1.50" fill="#228b8d"/><circle cx="235.1" cy="89.9" r="1.50" fill="#25858e"/><circle cx="236.1" cy="90.8" r="1.50" fill="#228d8d"/><circle cx="237.2" cy="91.8" r="1.50" fill="#26828e"/><circle cx="238.3" cy="92.7" r="1.50" fill="#228b8d"/><circle cx="239.4" cy="93.6" r="1.50" fill="#26828e"/><circle cx="240.5" cy="94.5" r="1.50" fill="#277f8e"/><circle cx="130.7" cy="263.5" r="1.50" fill="#453882"/><circle cx="131.4" cy="264.6" r="1.50" fill="#463480"/><circle cx="132.1" cy="265.7" r="1.50" fill="#463480"/><circle cx="132.9" cy="266.8" r="1.50" fill="#482173"/><circle cx="133.6" cy="267.9" r="1.50" fill="#472a7a"/><circle cx="134.3" cy="268.9" r="1.50" fill="#482878"/><circle cx="135.0" cy="270.0" r="1.50" fill="#481a6c"/><circle cx="135.6" cy="271.2" r="1.50" fill="#481b6d"/><circle cx="136.3" cy="272.3" r="1.50" fill="#481c6e"/><circle cx="136.9" cy="273.5" r="1.50" fill="#471164"/><circle cx="137.5" cy="274.6" r="1.50" fill="#481c6e"/><circle cx="138.1" cy="275.8" r="1.50" fill="#481769"/><circle cx="138.7" cy="276.9" r="1.50" fill="#48186a"/><circle cx="139.3" cy="278.1" r="1.50" fill="#470d60"/><circle cx="140.0" cy="279.2" r="1.50" fill="#470d60"/><circle cx="140.6" cy="280.4" r="1.50" fill="#46075a"/><circle cx="141.2" cy="281.5" r="1.50" fill="#470d60"/><circle cx="141.8" cy="282.7" r="1.50" fill="#48186a"/><circle cx="142.4" cy="283.9" r="1.50" fill="#482071"/><circle cx="143.0" cy="285.0" r="1.50" fill="#471164"/><circle cx="143.6" cy="286.2" r="1.50" fill="#471365"/><circle cx="144.2" cy="287.3" r="1.50" fill="#481769"/><circle cx="144.8" cy="288.5" r="1.50" fill="#482475"/><circle cx="145.4" cy="289.6" r="1.50" fill="#472f7d"/><circle cx="146.0" cy="290.8" r="1.50" fill="#472a7a"/><circle cx="146.6" cy="291.9" r="1.50" fill="#463480"/><circle cx="147.3" cy="293.1" r="1.50" fill="#443a83"/><circle cx="147.9" cy="294.2" r="1.50" fill="#404588"/><circle cx="148.5" cy="295.4" r="1.50" fill="#443a83"/><circle cx="149.1" cy="296.5" r="1.50" fill="#443a83"/><circle cx="149.8" cy="297.6" r="1.50" fill="#404688"/><circle cx="150.4" cy="298.8" r="1.50" fill="#404588"/><circle cx="151.0" cy="299.9" r="1.50" fill="#404688"/><circle cx="151.7" cy="301.1" r="1.50" fill="#3b518b"/><circle cx="152.3" cy="302.2" r="1.50" fill="#3b518b"/><circle cx="152.9" cy="303.3" r="1.50" fill="#3e4989"/><circle cx="153.6" cy="304.5" r="1.50" fill="#3a538b"/><circle cx="154.3" cy="305.6" r="1.50" fill="#375a8c"/><circle cx="155.0" cy="306.7" r="1.50" fill="#355f8d"/><circle cx="155.6" cy="307.8" r="1.50" fill="#3b528b"/><circle cx="156.3" cy="308.9" r="1.50" fill="#33628d"/><circle cx="157.0" cy="310.0" r="1.50" fill="#38588c"/><circle cx="157.6" cy="311.2" r="1.50" fill="#30698e"/><circle cx="158.3" cy="312.3" r="1.50" fill="#2e6e8e"/><circle cx="158.9" cy="313.5" r="1.50" fill="#29798e"/><circle cx="159.5" cy="314.6" r="1.50" fill="#297b8e"/><circle cx="160.1" cy="315.8" r="1.50" fill="#2b748e"/><circle cx="160.6" cy="317.0" r="1.50" fill="#2b758e"/><circle cx="161.2" cy="318.2" r="1.50" fill="#31688e"/><circle cx="161.7" cy="319.4" r="1.50" fill="#30698e"/><circle cx="162.3" cy="320.5" r="1.50" fill="#3a548c"/><circle cx="162.9" cy="321.7" r="1.50" fill="#3a538b"/><circle cx="163.5" cy="322.8" r="1.50" fill="#3b528b"/><circle cx="164.1" cy="324.0" r="1.50" fill="#414287"/><circle cx="164.8" cy="325.1" r="1.50" fill="#404688"/><circle cx="165.5" cy="326.2" r="1.50" fill="#404688"/><circle cx="166.2" cy="327.3" r="1.50" fill="#404688"/><circle cx="166.8" cy="328.4" r="1.50" fill="#3f4788"/><circle cx="167.5" cy="329.5" r="1.50" fill="#433e85"/><circle cx="168.2" cy="330.6" r="1.50" fill="#453882"/><circle cx="168.9" cy="331.8" r="1.50" fill="#443983"/><circle cx="169.5" cy="332.9" r="1.50" fill="#443b84"/><circle cx="169.9" cy="334.1" r="1.50" fill="#463480"/><circle cx="170.4" cy="335.4" r="1.50" fill="#423f85"/><circle cx="170.8" cy="336.6" r="1.50" fill="#46327e"/><circle cx="171.2" cy="337.8" r="1.50" fill="#46327e"/><circle cx="171.7" cy="339.1" r="1.50" fill="#424086"/><circle cx="172.1" cy="340.3" r="1.50" fill="#433e85"/><circle cx="172.5" cy="341.5" r="1.50" fill="#46327e"/><circle cx="173.0" cy="342.7" r="1.50" fill="#46337f"/><circle cx="173.4" cy="344.0" r="1.50" fill="#443b84"/><circle cx="173.9" cy="345.2" r="1.50" fill="#453781"/><circle cx="174.4" cy="346.4" r="1.50" fill="#472f7d"/><circle cx="174.9" cy="347.6" r="1.50" fill="#46327e"/><circle cx="175.4" cy="348.8" r="1.50" fill="#453882"/><circle cx="176.0" cy="350.0" r="1.50" fill="#482677"/><circle cx="176.5" cy="351.2" r="1.50" fill="#453882"/><circle cx="177.0" cy="352.4" r="1.50" fill="#472f7d"/><circle cx="177.6" cy="353.5" r="1.50" fill="#482677"/><circle cx="178.1" cy="354.7" r="1.50" fill="#46327e"/><circle cx="178.6" cy="355.9" r="1.50" fill="#482374"/><circle cx="179.2" cy="357.1" r="1.50" fill="#482878"/><circle cx="179.7" cy="358.3" r="1.50" fill="#482979"/><circle cx="180.2" cy="359.5" r="1.50" fill="#482173"/><circle cx="180.8" cy="360.7" r="1.50" fill="#472d7b"/><circle cx="181.3" cy="361.9" r="1.50" fill="#482979"/><circle cx="181.8" cy="363.1" r="1.50" fill="#481c6e"/><circle cx="182.3" cy="364.3" r="1.50" fill="#481a6c"/><circle cx="182.8" cy="365.5" r="1.50" fill="#481467"/></g>
</defs>
<g clip-path="url(#cpa)">
<g><ellipse cx="95.0" cy="98.0" rx="42.0" ry="9.0" transform="rotate(-38.2 95.0 98.0)" fill="#ffece5" fill-opacity="1.00" filter="url(#bl7)"/><ellipse cx="97.0" cy="97.0" rx="18.6" ry="6.0" transform="rotate(-36.3 97.0 97.0)" fill="#ffece5" fill-opacity="1.00" filter="url(#bl5)"/><ellipse cx="148.0" cy="51.0" rx="25.0" ry="7.0" transform="rotate(-36.9 148.0 51.0)" fill="#ffece5" fill-opacity="1.00" filter="url(#bl6)"/><ellipse cx="41.5" cy="101.5" rx="20.1" ry="7.0" transform="rotate(-34.9 41.5 101.5)" fill="#ffece5" fill-opacity="1.00" filter="url(#bl6)"/><ellipse cx="177.5" cy="27.0" rx="30.4" ry="6.0" transform="rotate(-25.3 177.5 27.0)" fill="#ffece5" fill-opacity="1.00" filter="url(#bl6)"/><ellipse cx="249.5" cy="11.0" rx="36.2" ry="6.0" transform="rotate(-17.7 249.5 11.0)" fill="#ffece5" fill-opacity="1.00" filter="url(#bl6)"/><ellipse cx="43.5" cy="165.0" rx="22.6" ry="10.0" transform="rotate(-35.1 43.5 165.0)" fill="#ffd9cb" fill-opacity="1.00" filter="url(#bl6)"/><ellipse cx="45.0" cy="290.0" rx="26.9" ry="13.0" transform="rotate(-21.8 45.0 290.0)" fill="#ffd9cb" fill-opacity="1.00" filter="url(#bl7)"/><ellipse cx="82.0" cy="299.0" rx="68.0" ry="8.0" transform="rotate(-33.0 82.0 299.0)" fill="#ffece5" fill-opacity="1.00" filter="url(#bl7)"/><ellipse cx="139.5" cy="315.0" rx="67.6" ry="8.0" transform="rotate(-47.7 139.5 315.0)" fill="#ffece5" fill-opacity="1.00" filter="url(#bl7)"/><ellipse cx="139.0" cy="334.0" rx="24.8" ry="7.0" transform="rotate(-40.1 139.0 334.0)" fill="#ffece5" fill-opacity="1.00" filter="url(#bl6)"/><ellipse cx="141.0" cy="342.0" rx="14.0" ry="12.0" transform="rotate(-45.0 141.0 342.0)" fill="#ffd9cb" fill-opacity="1.00" filter="url(#bl6)"/><ellipse cx="176.0" cy="422.0" rx="12.0" ry="10.0" transform="rotate(-30.0 176.0 422.0)" fill="#ffece5" fill-opacity="1.00" filter="url(#bl6)"/><ellipse cx="202.0" cy="300.0" rx="18.0" ry="26.0" transform="rotate(-30.0 202.0 300.0)" fill="#ffffff" fill-opacity="1.00" filter="url(#bl8)"/><ellipse cx="165.0" cy="276.0" rx="33.2" ry="8.0" transform="rotate(-46.2 165.0 276.0)" fill="#ffece5" fill-opacity="1.00" filter="url(#bl7)"/><ellipse cx="164.0" cy="278.0" rx="18.4" ry="7.5" transform="rotate(-40.6 164.0 278.0)" fill="#ffd9cb" fill-opacity="1.00" filter="url(#bl6)"/><ellipse cx="88.0" cy="370.0" rx="50.5" ry="7.0" transform="rotate(-33.7 88.0 370.0)" fill="#ffece5" fill-opacity="1.00" filter="url(#bl7)"/><ellipse cx="146.5" cy="240.0" rx="44.3" ry="7.0" transform="rotate(-29.7 146.5 240.0)" fill="#ffece5" fill-opacity="1.00" filter="url(#bl7)"/><ellipse cx="62.5" cy="344.0" rx="45.6" ry="7.0" transform="rotate(-34.7 62.5 344.0)" fill="#ffece5" fill-opacity="1.00" filter="url(#bl7)"/><ellipse cx="112.5" cy="386.0" rx="60.5" ry="7.0" transform="rotate(-29.7 112.5 386.0)" fill="#ffffff" fill-opacity="1.00" filter="url(#bl7)"/><ellipse cx="97.5" cy="229.0" rx="47.4" ry="7.0" transform="rotate(-37.7 97.5 229.0)" fill="#ffece5" fill-opacity="1.00" filter="url(#bl7)"/><ellipse cx="157.5" cy="118.5" rx="25.1" ry="6.0" transform="rotate(-35.3 157.5 118.5)" fill="#ffece5" fill-opacity="1.00" filter="url(#bl6)"/><ellipse cx="234.0" cy="145.0" rx="59.9" ry="6.0" transform="rotate(-33.4 234.0 145.0)" fill="#ffffff" fill-opacity="1.00" filter="url(#bl7)"/><ellipse cx="239.5" cy="270.0" rx="53.7" ry="6.0" transform="rotate(-34.0 239.5 270.0)" fill="#ffffff" fill-opacity="1.00" filter="url(#bl7)"/><ellipse cx="257.0" cy="45.0" rx="30.9" ry="6.0" transform="rotate(-29.1 257.0 45.0)" fill="#ffece5" fill-opacity="1.00" filter="url(#bl6)"/><ellipse cx="125.0" cy="281.5" rx="67.0" ry="8.0" transform="rotate(-40.5 125.0 281.5)" fill="#ffece5" fill-opacity="1.00" filter="url(#bl7)"/><ellipse cx="104.0" cy="347.5" rx="53.6" ry="7.0" transform="rotate(-30.9 104.0 347.5)" fill="#ffece5" fill-opacity="1.00" filter="url(#bl7)"/><ellipse cx="170.0" cy="407.5" rx="23.6" ry="6.0" transform="rotate(-32.0 170.0 407.5)" fill="#ffece5" fill-opacity="1.00" filter="url(#bl7)"/><ellipse cx="237.0" cy="265.0" rx="58.6" ry="7.0" transform="rotate(-36.7 237.0 265.0)" fill="#ffffff" fill-opacity="1.00" filter="url(#bl7)"/><ellipse cx="237.0" cy="205.0" rx="58.6" ry="7.0" transform="rotate(-36.7 237.0 205.0)" fill="#ffffff" fill-opacity="1.00" filter="url(#bl7)"/><ellipse cx="93.0" cy="187.0" rx="27.0" ry="21.0" transform="rotate(70.0 93.0 187.0)" fill="#ffb299" fill-opacity="1.00" filter="url(#bl6)"/><ellipse cx="96.0" cy="191.0" rx="18.0" ry="14.0" transform="rotate(60.0 96.0 191.0)" fill="#ff8969" fill-opacity="1.00" filter="url(#bl5)"/><ellipse cx="102.0" cy="199.0" rx="9.0" ry="7.0" transform="rotate(55.0 102.0 199.0)" fill="#ff5b3a" fill-opacity="1.00" filter="url(#bl4)"/><ellipse cx="123.0" cy="147.0" rx="31.0" ry="19.0" transform="rotate(-40.0 123.0 147.0)" fill="#ffb299" fill-opacity="1.00" filter="url(#bl6)"/><ellipse cx="122.0" cy="148.0" rx="19.0" ry="12.0" transform="rotate(-40.0 122.0 148.0)" fill="#ff5b3a" fill-opacity="1.00" filter="url(#bl4)"/><ellipse cx="122.3" cy="148.7" rx="8.0" ry="5.0" transform="rotate(-40.0 122.3 148.7)" fill="#ff0000" fill-opacity="1.00" filter="url(#bl3)"/><ellipse cx="207.0" cy="73.0" rx="26.0" ry="13.0" transform="rotate(-35.0 207.0 73.0)" fill="#ffc6b2" fill-opacity="1.00" filter="url(#bl6)"/><ellipse cx="204.0" cy="76.0" rx="13.0" ry="9.0" transform="rotate(-35.0 204.0 76.0)" fill="#ff8969" fill-opacity="1.00" filter="url(#bl4)"/><ellipse cx="204.0" cy="76.0" rx="6.0" ry="5.0" transform="rotate(-35.0 204.0 76.0)" fill="#ff5b3a" fill-opacity="1.00" filter="url(#bl3)"/></g>
<polyline points="25.0,212.8 27.5,214.5 30.1,216.7 33.0,215.9 35.6,215.6 38.0,216.0 39.5,216.9 41.5,220.0 43.4,224.5 47.0,228.3 51.2,231.5 56.0,234.6 62.1,238.5 67.0,240.3 71.4,242.4 74.6,246.3 72.2,250.2 73.2,254.0 73.8,258.0 72.8,262.5 71.4,267.3 68.5,272.0 66.0,276.7 66.2,281.0 66.8,286.0 63.0,290.5 59.7,294.6 52.0,293.4 43.4,291.5 34.0,288.2 26.2,284.4 25.0,283.8" fill="none" stroke="#b0b0b0" stroke-width="1.5"/>
<use href="#trk"/>
<path d="M183.8 100.6L179.1 108.3L188.5 108.3Z" fill="none" stroke="#000" stroke-width="1.1" stroke-linejoin="miter"/><path d="M198.9 98.8L194.2 106.5L203.6 106.5Z" fill="none" stroke="#000" stroke-width="1.1" stroke-linejoin="miter"/><path d="M201.7 93.3L197.0 101.0L206.4 101.0Z" fill="none" stroke="#000" stroke-width="1.1" stroke-linejoin="miter"/><path d="M126.1 329.6L121.4 337.3L130.8 337.3Z" fill="none" stroke="#000" stroke-width="1.1" stroke-linejoin="miter"/>
<line x1="64.2" y1="83.3" x2="107.1" y2="51.4" stroke="#000" stroke-width="1.3"/>
<polyline points="96.6,53 107.1,51.4 103,61" fill="none" stroke="#000" stroke-width="1.3"/>
<text x="0" y="0" transform="translate(81.6,62.2) rotate(-36.6)" text-anchor="middle" font-size="9.6" fill="#000" stroke="#000" stroke-width="0.12">Wind</text>
</g>
<rect x="25.4" y="14.0" width="258" height="416.9" fill="none" stroke="#555" stroke-width="1"/>
<line x1="22.8" y1="117.8" x2="25.5" y2="117.8" stroke="#333" stroke-width="1"/><text x="21.0" y="121.1" text-anchor="end" font-size="9.6" fill="#4d4d4d" stroke="#4d4d4d" stroke-width="0.12">55.5</text><line x1="22.8" y1="222.2" x2="25.5" y2="222.2" stroke="#333" stroke-width="1"/><text x="21.0" y="225.5" text-anchor="end" font-size="9.6" fill="#4d4d4d" stroke="#4d4d4d" stroke-width="0.12">55.2</text><line x1="22.8" y1="326.6" x2="25.5" y2="326.6" stroke="#333" stroke-width="1"/><text x="21.0" y="329.9" text-anchor="end" font-size="9.6" fill="#4d4d4d" stroke="#4d4d4d" stroke-width="0.12">54.9</text><line x1="22.8" y1="431.0" x2="25.5" y2="431.0" stroke="#333" stroke-width="1"/><text x="21.0" y="434.3" text-anchor="end" font-size="9.6" fill="#4d4d4d" stroke="#4d4d4d" stroke-width="0.12">54.6</text><line x1="44.8" y1="431" x2="44.8" y2="433.7" stroke="#333" stroke-width="1"/><text x="44.8" y="442.3" text-anchor="middle" font-size="9.6" fill="#4d4d4d" stroke="#4d4d4d" stroke-width="0.12">15.0</text><line x1="104.6" y1="431" x2="104.6" y2="433.7" stroke="#333" stroke-width="1"/><text x="104.6" y="442.3" text-anchor="middle" font-size="9.6" fill="#4d4d4d" stroke="#4d4d4d" stroke-width="0.12">15.3</text><line x1="164.3" y1="431" x2="164.3" y2="433.7" stroke="#333" stroke-width="1"/><text x="164.3" y="442.3" text-anchor="middle" font-size="9.6" fill="#4d4d4d" stroke="#4d4d4d" stroke-width="0.12">15.6</text><line x1="224.0" y1="431" x2="224.0" y2="433.7" stroke="#333" stroke-width="1"/><text x="224.0" y="442.3" text-anchor="middle" font-size="9.6" fill="#4d4d4d" stroke="#4d4d4d" stroke-width="0.12">15.9</text>
<g clip-path="url(#cpb)">
<g><ellipse cx="470.0" cy="300.0" rx="100.0" ry="120.0" transform="rotate(0.0 470.0 300.0)" fill="#fefaf8" fill-opacity="1.00" filter="url(#bl20)"/><ellipse cx="405.0" cy="140.0" rx="100.0" ry="110.0" transform="rotate(0.0 405.0 140.0)" fill="#fef5f2" fill-opacity="1.00" filter="url(#bl18)"/><ellipse cx="405.0" cy="130.0" rx="72.0" ry="62.0" transform="rotate(-15.0 405.0 130.0)" fill="#fdede8" fill-opacity="1.00" filter="url(#bl12)"/><ellipse cx="500.0" cy="105.0" rx="70.0" ry="16.0" transform="rotate(-8.0 500.0 105.0)" fill="#fdefea" fill-opacity="1.00" filter="url(#bl8)"/><ellipse cx="520.0" cy="172.0" rx="45.0" ry="14.0" transform="rotate(5.0 520.0 172.0)" fill="#fdefea" fill-opacity="1.00" filter="url(#bl8)"/><ellipse cx="470.0" cy="150.0" rx="40.0" ry="14.0" transform="rotate(15.0 470.0 150.0)" fill="#fde8e1" fill-opacity="1.00" filter="url(#bl8)"/><ellipse cx="392.0" cy="188.0" rx="38.0" ry="14.0" transform="rotate(-10.0 392.0 188.0)" fill="#fde5dd" fill-opacity="1.00" filter="url(#bl8)"/><ellipse cx="378.0" cy="172.0" rx="26.0" ry="22.0" transform="rotate(-30.0 378.0 172.0)" fill="#fcdcd0" fill-opacity="1.00" filter="url(#bl7)"/><ellipse cx="430.0" cy="355.0" rx="30.0" ry="20.0" transform="rotate(-20.0 430.0 355.0)" fill="#fef3ef" fill-opacity="1.00" filter="url(#bl10)"/><ellipse cx="368.0" cy="150.0" rx="18.0" ry="20.0" transform="rotate(-30.0 368.0 150.0)" fill="#fcdcd0" fill-opacity="1.00" filter="url(#bl7)"/><ellipse cx="440.0" cy="155.0" rx="28.0" ry="14.0" transform="rotate(30.0 440.0 155.0)" fill="#fde3da" fill-opacity="1.00" filter="url(#bl7)"/><ellipse cx="430.0" cy="100.0" rx="32.0" ry="17.0" transform="rotate(-15.0 430.0 100.0)" fill="#fcdcd1" fill-opacity="1.00" filter="url(#bl7)"/><ellipse cx="402.0" cy="125.0" rx="50.0" ry="40.0" transform="rotate(-20.0 402.0 125.0)" fill="#fcd6c9" fill-opacity="1.00" filter="url(#bl7)"/><ellipse cx="400.0" cy="110.0" rx="38.0" ry="24.0" transform="rotate(-10.0 400.0 110.0)" fill="#fbcbbb" fill-opacity="1.00" filter="url(#bl6)"/></g>
<g transform="translate(291,0)">
<polyline points="25.0,212.8 27.5,214.5 30.1,216.7 33.0,215.9 35.6,215.6 38.0,216.0 39.5,216.9 41.5,220.0 43.4,224.5 47.0,228.3 51.2,231.5 56.0,234.6 62.1,238.5 67.0,240.3 71.4,242.4 74.6,246.3 72.2,250.2 73.2,254.0 73.8,258.0 72.8,262.5 71.4,267.3 68.5,272.0 66.0,276.7 66.2,281.0 66.8,286.0 63.0,290.5 59.7,294.6 52.0,293.4 43.4,291.5 34.0,288.2 26.2,284.4 25.0,283.8" fill="none" stroke="#b0b0b0" stroke-width="1.5"/>
<use href="#trk"/>
<path d="M183.8 100.6L179.1 108.3L188.5 108.3Z" fill="none" stroke="#000" stroke-width="1.1" stroke-linejoin="miter"/><path d="M198.9 98.8L194.2 106.5L203.6 106.5Z" fill="none" stroke="#000" stroke-width="1.1" stroke-linejoin="miter"/><path d="M201.7 93.3L197.0 101.0L206.4 101.0Z" fill="none" stroke="#000" stroke-width="1.1" stroke-linejoin="miter"/><path d="M126.1 329.6L121.4 337.3L130.8 337.3Z" fill="none" stroke="#000" stroke-width="1.1" stroke-linejoin="miter"/>
</g>
<line x1="492" y1="396.4" x2="554.6" y2="396.4" stroke="#000" stroke-width="2.6" stroke-linecap="round"/>
<text x="523" y="405" text-anchor="middle" font-size="9.6" fill="#1a1a1a" stroke="#1a1a1a" stroke-width="0.12">20 km</text>
</g>
<rect x="316.0" y="13.85" width="258" height="417.1" fill="none" stroke="#555" stroke-width="1"/>
<line x1="313.8" y1="117.8" x2="316.5" y2="117.8" stroke="#333" stroke-width="1"/><text x="312.0" y="121.1" text-anchor="end" font-size="9.6" fill="#4d4d4d" stroke="#4d4d4d" stroke-width="0.12">55.5</text><line x1="313.8" y1="222.2" x2="316.5" y2="222.2" stroke="#333" stroke-width="1"/><text x="312.0" y="225.5" text-anchor="end" font-size="9.6" fill="#4d4d4d" stroke="#4d4d4d" stroke-width="0.12">55.2</text><line x1="313.8" y1="326.6" x2="316.5" y2="326.6" stroke="#333" stroke-width="1"/><text x="312.0" y="329.9" text-anchor="end" font-size="9.6" fill="#4d4d4d" stroke="#4d4d4d" stroke-width="0.12">54.9</text><line x1="313.8" y1="431.0" x2="316.5" y2="431.0" stroke="#333" stroke-width="1"/><text x="312.0" y="434.3" text-anchor="end" font-size="9.6" fill="#4d4d4d" stroke="#4d4d4d" stroke-width="0.12">54.6</text><line x1="335.8" y1="431" x2="335.8" y2="433.7" stroke="#333" stroke-width="1"/><text x="335.8" y="442.3" text-anchor="middle" font-size="9.6" fill="#4d4d4d" stroke="#4d4d4d" stroke-width="0.12">15.0</text><line x1="395.6" y1="431" x2="395.6" y2="433.7" stroke="#333" stroke-width="1"/><text x="395.6" y="442.3" text-anchor="middle" font-size="9.6" fill="#4d4d4d" stroke="#4d4d4d" stroke-width="0.12">15.3</text><line x1="455.3" y1="431" x2="455.3" y2="433.7" stroke="#333" stroke-width="1"/><text x="455.3" y="442.3" text-anchor="middle" font-size="9.6" fill="#4d4d4d" stroke="#4d4d4d" stroke-width="0.12">15.6</text><line x1="515.0" y1="431" x2="515.0" y2="433.7" stroke="#333" stroke-width="1"/><text x="515.0" y="442.3" text-anchor="middle" font-size="9.6" fill="#4d4d4d" stroke="#4d4d4d" stroke-width="0.12">15.9</text>
<text x="146.6" y="7.2" text-anchor="middle" font-size="9.8" fill="#1a1a1a" textLength="36.8" lengthAdjust="spacingAndGlyphs" stroke="#1a1a1a" stroke-width="0.12">Inversion</text>
<text x="439.3" y="7.2" text-anchor="middle" font-size="9.8" fill="#1a1a1a" textLength="56.2" lengthAdjust="spacingAndGlyphs" stroke="#1a1a1a" stroke-width="0.12">Ocean model</text>
<text x="0" y="7" font-size="9.6" font-weight="bold">a</text>
<text x="291.5" y="7" font-size="9.6" font-weight="bold">b</text>
<text x="0" y="472" font-size="9.6" font-weight="bold">c</text>
<text x="291" y="471.5" font-size="9.6" font-weight="bold">d</text>
<defs><linearGradient id="gred" x1="0" y1="1" x2="0" y2="0">
<stop offset="0.00" stop-color="#ffffff"/>
<stop offset="0.10" stop-color="#ffece5"/>
<stop offset="0.20" stop-color="#ffd9cb"/>
<stop offset="0.30" stop-color="#ffc6b2"/>
<stop offset="0.40" stop-color="#ffb299"/>
<stop offset="0.50" stop-color="#ff9e81"/>
<stop offset="0.60" stop-color="#ff8969"/>
<stop offset="0.70" stop-color="#ff7352"/>
<stop offset="0.80" stop-color="#ff5b3a"/>
<stop offset="0.90" stop-color="#ff3e22"/>
<stop offset="1.00" stop-color="#ff0000"/>
</linearGradient><linearGradient id="gvir" x1="0" y1="1" x2="0" y2="0">
<stop offset="0.00" stop-color="#440154"/>
<stop offset="0.10" stop-color="#482475"/>
<stop offset="0.20" stop-color="#414487"/>
<stop offset="0.30" stop-color="#355f8d"/>
<stop offset="0.40" stop-color="#2a788e"/>
<stop offset="0.50" stop-color="#21918c"/>
<stop offset="0.60" stop-color="#22a884"/>
<stop offset="0.70" stop-color="#44bf70"/>
<stop offset="0.80" stop-color="#7ad151"/>
<stop offset="0.90" stop-color="#bddf26"/>
<stop offset="1.00" stop-color="#fde725"/>
</linearGradient></defs>
<text x="605.5" y="86.9" font-size="9.6" fill="#000" stroke="#000" stroke-width="0.12">CH<tspan font-size="6.5" dy="2">4</tspan><tspan dy="-2"> emissions</tspan></text>
<text x="605.5" y="99.8" font-size="9.6" fill="#000" stroke="#000" stroke-width="0.12">[µmol m<tspan font-size="7" dy="-2.8">−2</tspan><tspan dy="2.8">s</tspan><tspan font-size="7" dy="-2.8">−1</tspan><tspan dy="2.8">]</tspan></text>
<rect x="605.5" y="107.1" width="23.5" height="117.4" fill="url(#gred)"/>
<line x1="605.5" y1="114.5" x2="610" y2="114.5" stroke="#fff" stroke-opacity="0.8" stroke-width="0.8"/>
<line x1="624.5" y1="114.5" x2="629" y2="114.5" stroke="#fff" stroke-opacity="0.8" stroke-width="0.8"/>
<text x="634.4" y="117.8" font-size="9.6" fill="#1a1a1a" stroke="#1a1a1a" stroke-width="0.12">1.00</text>
<line x1="605.5" y1="142.0" x2="610" y2="142.0" stroke="#fff" stroke-opacity="0.8" stroke-width="0.8"/>
<line x1="624.5" y1="142.0" x2="629" y2="142.0" stroke="#fff" stroke-opacity="0.8" stroke-width="0.8"/>
<text x="634.4" y="145.3" font-size="9.6" fill="#1a1a1a" stroke="#1a1a1a" stroke-width="0.12">0.75</text>
<line x1="605.5" y1="169.5" x2="610" y2="169.5" stroke="#fff" stroke-opacity="0.8" stroke-width="0.8"/>
<line x1="624.5" y1="169.5" x2="629" y2="169.5" stroke="#fff" stroke-opacity="0.8" stroke-width="0.8"/>
<text x="634.4" y="172.8" font-size="9.6" fill="#1a1a1a" stroke="#1a1a1a" stroke-width="0.12">0.50</text>
<line x1="605.5" y1="197.0" x2="610" y2="197.0" stroke="#fff" stroke-opacity="0.8" stroke-width="0.8"/>
<line x1="624.5" y1="197.0" x2="629" y2="197.0" stroke="#fff" stroke-opacity="0.8" stroke-width="0.8"/>
<text x="634.4" y="200.3" font-size="9.6" fill="#1a1a1a" stroke="#1a1a1a" stroke-width="0.12">0.25</text>
<line x1="605.5" y1="224.5" x2="610" y2="224.5" stroke="#fff" stroke-opacity="0.8" stroke-width="0.8"/>
<line x1="624.5" y1="224.5" x2="629" y2="224.5" stroke="#fff" stroke-opacity="0.8" stroke-width="0.8"/>
<text x="634.4" y="227.8" font-size="9.6" fill="#1a1a1a" stroke="#1a1a1a" stroke-width="0.12">0.00</text>
<text x="605.5" y="251" font-size="9.6" fill="#000" stroke="#000" stroke-width="0.12">CH<tspan font-size="6.5" dy="2">4</tspan><tspan dy="-2"> [ppb]</tspan></text>
<rect x="605.5" y="261" width="23.5" height="117.3" fill="url(#gvir)"/>
<text x="634.4" y="264.5" font-size="9.6" fill="#1a1a1a" stroke="#1a1a1a" stroke-width="0.12">2200</text>
<line x1="605.5" y1="299.4" x2="610" y2="299.4" stroke="#fff" stroke-opacity="0.8" stroke-width="0.8"/>
<line x1="624.5" y1="299.4" x2="629" y2="299.4" stroke="#fff" stroke-opacity="0.8" stroke-width="0.8"/>
<text x="634.4" y="302.7" font-size="9.6" fill="#1a1a1a" stroke="#1a1a1a" stroke-width="0.12">2150</text>
<line x1="605.5" y1="337.6" x2="610" y2="337.6" stroke="#fff" stroke-opacity="0.8" stroke-width="0.8"/>
<line x1="624.5" y1="337.6" x2="629" y2="337.6" stroke="#fff" stroke-opacity="0.8" stroke-width="0.8"/>
<text x="634.4" y="340.9" font-size="9.6" fill="#1a1a1a" stroke="#1a1a1a" stroke-width="0.12">2100</text>
<line x1="605.5" y1="376.0" x2="610" y2="376.0" stroke="#fff" stroke-opacity="0.8" stroke-width="0.8"/>
<line x1="624.5" y1="376.0" x2="629" y2="376.0" stroke="#fff" stroke-opacity="0.8" stroke-width="0.8"/>
<text x="634.4" y="379.3" font-size="9.6" fill="#1a1a1a" stroke="#1a1a1a" stroke-width="0.12">2050</text>
<rect x="41.5" y="481.5" width="118.5" height="116.7" fill="#fff"/><line x1="41.5" x2="160.0" y1="591.7" y2="591.7" stroke="#f2f2f2" stroke-width="0.6"/><line x1="41.5" x2="160.0" y1="559.5" y2="559.5" stroke="#f2f2f2" stroke-width="0.6"/><line x1="41.5" x2="160.0" y1="527.3" y2="527.3" stroke="#f2f2f2" stroke-width="0.6"/><line x1="41.5" x2="160.0" y1="495.1" y2="495.1" stroke="#f2f2f2" stroke-width="0.6"/><line x1="126.8" x2="126.8" y1="481.5" y2="598.2" stroke="#f2f2f2" stroke-width="0.6"/><line x1="41.5" x2="160.0" y1="575.6" y2="575.6" stroke="#ebebeb" stroke-width="1"/><line x1="41.5" x2="160.0" y1="543.4" y2="543.4" stroke="#ebebeb" stroke-width="1"/><line x1="41.5" x2="160.0" y1="511.2" y2="511.2" stroke="#ebebeb" stroke-width="1"/><line x1="79.6" x2="79.6" y1="481.5" y2="598.2" stroke="#ebebeb" stroke-width="1"/><rect x="164.5" y="481.5" width="119.0" height="116.7" fill="#fff"/><line x1="164.5" x2="283.5" y1="591.7" y2="591.7" stroke="#f2f2f2" stroke-width="0.6"/><line x1="164.5" x2="283.5" y1="559.5" y2="559.5" stroke="#f2f2f2" stroke-width="0.6"/><line x1="164.5" x2="283.5" y1="527.3" y2="527.3" stroke="#f2f2f2" stroke-width="0.6"/><line x1="164.5" x2="283.5" y1="495.1" y2="495.1" stroke="#f2f2f2" stroke-width="0.6"/><line x1="176.4" x2="176.4" y1="481.5" y2="598.2" stroke="#f2f2f2" stroke-width="0.6"/><line x1="220.8" x2="220.8" y1="481.5" y2="598.2" stroke="#f2f2f2" stroke-width="0.6"/><line x1="265.2" x2="265.2" y1="481.5" y2="598.2" stroke="#f2f2f2" stroke-width="0.6"/><line x1="164.5" x2="283.5" y1="575.6" y2="575.6" stroke="#ebebeb" stroke-width="1"/><line x1="164.5" x2="283.5" y1="543.4" y2="543.4" stroke="#ebebeb" stroke-width="1"/><line x1="164.5" x2="283.5" y1="511.2" y2="511.2" stroke="#ebebeb" stroke-width="1"/><line x1="198.6" x2="198.6" y1="481.5" y2="598.2" stroke="#ebebeb" stroke-width="1"/><line x1="243.0" x2="243.0" y1="481.5" y2="598.2" stroke="#ebebeb" stroke-width="1"/><clipPath id="cl0"><rect x="41.5" y="481.5" width="242.0" height="116.7"/></clipPath><g clip-path="url(#cl0)"><polyline points="46.4,579.7 46.4,578.9 47.3,572.1 47.8,569.3 48.2,565.1 48.6,562.0 49.1,560.9 50.0,562.4 50.8,562.0 50.9,559.6 51.8,560.9 52.3,559.0 52.7,557.4 53.6,556.4 53.7,556.0 54.5,551.1 55.2,547.2 55.4,544.4 55.9,534.7 56.3,532.8 57.2,535.0 57.4,535.4 57.9,525.8 58.1,520.4 58.6,508.1 59.0,526.9 59.2,535.4 59.9,536.4 60.4,539.0 60.8,544.4 61.1,548.7 61.7,554.9 62.6,566.4 62.6,566.4 63.5,569.1 64.4,570.1 64.8,572.3 65.3,573.9 66.2,575.6 67.0,576.7 67.1,576.8 68.0,575.2 68.9,572.2 69.2,572.3 69.8,571.9 70.7,570.6 70.7,571.5 71.6,573.9 72.2,576.0 72.5,575.8 73.4,573.3 74.3,572.1 74.4,572.3 75.2,569.2 75.9,567.8 76.1,566.1 77.0,562.6 77.3,562.0 77.9,554.9 78.8,543.1 78.8,544.2 79.7,536.8 80.3,531.7 80.6,531.3 81.5,527.4 81.8,525.8 82.4,527.2 83.2,529.5 83.3,529.0 84.2,532.8 84.3,534.0 85.1,545.5 85.4,548.7 86.0,552.2 86.9,556.9 86.9,557.5 87.8,560.3 88.4,562.0 88.7,563.6 89.6,564.4 89.9,564.9 90.5,564.6 91.3,563.4 91.4,563.1 92.3,558.1 92.8,556.0 93.2,552.9 94.1,549.3 94.3,548.7 95.0,545.0 95.8,541.3 95.9,541.0 96.8,535.9 97.2,533.2 97.7,530.9 98.4,526.5 98.6,528.2 99.5,535.5 100.4,541.2 100.7,544.3 101.3,552.0 102.2,562.3 102.2,562.0 103.1,563.2 104.0,565.3 104.4,565.7 104.9,565.4 105.8,565.8 106.3,565.0 106.7,558.7 107.3,547.3 107.6,543.4 108.1,534.0 108.5,537.4 109.2,547.3 109.4,546.7 110.3,551.2 110.3,551.7 111.2,539.2 111.3,537.7 112.1,541.5 112.5,542.8 113.0,547.9 113.7,554.7 113.9,553.5 114.8,559.1 115.4,562.0 115.7,563.6 116.6,566.9 116.9,568.0 117.5,565.4 118.4,560.4 118.4,560.6 119.3,558.6 120.2,557.0 120.6,556.1 121.1,554.3 122.0,550.6 122.8,547.3 122.9,546.8 123.8,541.2 124.3,539.1 124.7,538.5 125.6,536.6 125.8,536.2 126.5,536.5 127.4,536.3 128.0,535.5 128.3,534.0 129.2,528.6 129.5,527.3 130.1,537.5 130.2,539.9 131.0,550.9 131.4,556.1 131.9,560.6 132.8,568.2 132.9,569.4 133.7,573.0 133.9,573.9 134.6,567.7 135.4,562.0 135.5,561.5 136.4,552.7 136.9,548.7 137.3,543.2 138.2,529.0 138.3,527.3 139.1,529.6 139.8,531.0 140.0,530.0 140.9,531.5 141.8,532.1 142.0,531.8 142.7,537.4 143.5,545.8 143.6,546.1 144.5,551.2 145.4,554.6 145.7,557.6 146.3,559.4 147.2,562.0 147.9,563.5 148.1,562.8 149.0,564.4 149.9,563.5 150.2,565.0 150.8,566.0 151.7,565.9 152.4,568.7 152.6,569.4 153.5,569.9 154.4,570.4 155.0,571.0" fill="none" stroke="#F8766D" stroke-width="1.30" stroke-linejoin="round"/><circle cx="46.4" cy="579.7" r="1.45" fill="#F8766D"/><circle cx="46.4" cy="578.9" r="1.45" fill="#F8766D"/><circle cx="47.3" cy="572.1" r="1.45" fill="#F8766D"/><circle cx="47.8" cy="569.3" r="1.45" fill="#F8766D"/><circle cx="48.2" cy="565.1" r="1.45" fill="#F8766D"/><circle cx="48.6" cy="562.0" r="1.45" fill="#F8766D"/><circle cx="49.1" cy="560.9" r="1.45" fill="#F8766D"/><circle cx="50.0" cy="562.4" r="1.45" fill="#F8766D"/><circle cx="50.8" cy="562.0" r="1.45" fill="#F8766D"/><circle cx="50.9" cy="559.6" r="1.45" fill="#F8766D"/><circle cx="51.8" cy="560.9" r="1.45" fill="#F8766D"/><circle cx="52.3" cy="559.0" r="1.45" fill="#F8766D"/><circle cx="52.7" cy="557.4" r="1.45" fill="#F8766D"/><circle cx="53.6" cy="556.4" r="1.45" fill="#F8766D"/><circle cx="53.7" cy="556.0" r="1.45" fill="#F8766D"/><circle cx="54.5" cy="551.1" r="1.45" fill="#F8766D"/><circle cx="55.2" cy="547.2" r="1.45" fill="#F8766D"/><circle cx="55.4" cy="544.4" r="1.45" fill="#F8766D"/><circle cx="55.9" cy="534.7" r="1.45" fill="#F8766D"/><circle cx="56.3" cy="532.8" r="1.45" fill="#F8766D"/><circle cx="57.2" cy="535.0" r="1.45" fill="#F8766D"/><circle cx="57.4" cy="535.4" r="1.45" fill="#F8766D"/><circle cx="57.9" cy="525.8" r="1.45" fill="#F8766D"/><circle cx="58.1" cy="520.4" r="1.45" fill="#F8766D"/><circle cx="58.6" cy="508.1" r="1.45" fill="#F8766D"/><circle cx="59.0" cy="526.9" r="1.45" fill="#F8766D"/><circle cx="59.2" cy="535.4" r="1.45" fill="#F8766D"/><circle cx="59.9" cy="536.4" r="1.45" fill="#F8766D"/><circle cx="60.4" cy="539.0" r="1.45" fill="#F8766D"/><circle cx="60.8" cy="544.4" r="1.45" fill="#F8766D"/><circle cx="61.1" cy="548.7" r="1.45" fill="#F8766D"/><circle cx="61.7" cy="554.9" r="1.45" fill="#F8766D"/><circle cx="62.6" cy="566.4" r="1.45" fill="#F8766D"/><circle cx="62.6" cy="566.4" r="1.45" fill="#F8766D"/><circle cx="63.5" cy="569.1" r="1.45" fill="#F8766D"/><circle cx="64.4" cy="570.1" r="1.45" fill="#F8766D"/><circle cx="64.8" cy="572.3" r="1.45" fill="#F8766D"/><circle cx="65.3" cy="573.9" r="1.45" fill="#F8766D"/><circle cx="66.2" cy="575.6" r="1.45" fill="#F8766D"/><circle cx="67.0" cy="576.7" r="1.45" fill="#F8766D"/><circle cx="67.1" cy="576.8" r="1.45" fill="#F8766D"/><circle cx="68.0" cy="575.2" r="1.45" fill="#F8766D"/><circle cx="68.9" cy="572.2" r="1.45" fill="#F8766D"/><circle cx="69.2" cy="572.3" r="1.45" fill="#F8766D"/><circle cx="69.8" cy="571.9" r="1.45" fill="#F8766D"/><circle cx="70.7" cy="570.6" r="1.45" fill="#F8766D"/><circle cx="70.7" cy="571.5" r="1.45" fill="#F8766D"/><circle cx="71.6" cy="573.9" r="1.45" fill="#F8766D"/><circle cx="72.2" cy="576.0" r="1.45" fill="#F8766D"/><circle cx="72.5" cy="575.8" r="1.45" fill="#F8766D"/><circle cx="73.4" cy="573.3" r="1.45" fill="#F8766D"/><circle cx="74.3" cy="572.1" r="1.45" fill="#F8766D"/><circle cx="74.4" cy="572.3" r="1.45" fill="#F8766D"/><circle cx="75.2" cy="569.2" r="1.45" fill="#F8766D"/><circle cx="75.9" cy="567.8" r="1.45" fill="#F8766D"/><circle cx="76.1" cy="566.1" r="1.45" fill="#F8766D"/><circle cx="77.0" cy="562.6" r="1.45" fill="#F8766D"/><circle cx="77.3" cy="562.0" r="1.45" fill="#F8766D"/><circle cx="77.9" cy="554.9" r="1.45" fill="#F8766D"/><circle cx="78.8" cy="543.1" r="1.45" fill="#F8766D"/><circle cx="78.8" cy="544.2" r="1.45" fill="#F8766D"/><circle cx="79.7" cy="536.8" r="1.45" fill="#F8766D"/><circle cx="80.3" cy="531.7" r="1.45" fill="#F8766D"/><circle cx="80.6" cy="531.3" r="1.45" fill="#F8766D"/><circle cx="81.5" cy="527.4" r="1.45" fill="#F8766D"/><circle cx="81.8" cy="525.8" r="1.45" fill="#F8766D"/><circle cx="82.4" cy="527.2" r="1.45" fill="#F8766D"/><circle cx="83.2" cy="529.5" r="1.45" fill="#F8766D"/><circle cx="83.3" cy="529.0" r="1.45" fill="#F8766D"/><circle cx="84.2" cy="532.8" r="1.45" fill="#F8766D"/><circle cx="84.3" cy="534.0" r="1.45" fill="#F8766D"/><circle cx="85.1" cy="545.5" r="1.45" fill="#F8766D"/><circle cx="85.4" cy="548.7" r="1.45" fill="#F8766D"/><circle cx="86.0" cy="552.2" r="1.45" fill="#F8766D"/><circle cx="86.9" cy="556.9" r="1.45" fill="#F8766D"/><circle cx="86.9" cy="557.5" r="1.45" fill="#F8766D"/><circle cx="87.8" cy="560.3" r="1.45" fill="#F8766D"/><circle cx="88.4" cy="562.0" r="1.45" fill="#F8766D"/><circle cx="88.7" cy="563.6" r="1.45" fill="#F8766D"/><circle cx="89.6" cy="564.4" r="1.45" fill="#F8766D"/><circle cx="89.9" cy="564.9" r="1.45" fill="#F8766D"/><circle cx="90.5" cy="564.6" r="1.45" fill="#F8766D"/><circle cx="91.3" cy="563.4" r="1.45" fill="#F8766D"/><circle cx="91.4" cy="563.1" r="1.45" fill="#F8766D"/><circle cx="92.3" cy="558.1" r="1.45" fill="#F8766D"/><circle cx="92.8" cy="556.0" r="1.45" fill="#F8766D"/><circle cx="93.2" cy="552.9" r="1.45" fill="#F8766D"/><circle cx="94.1" cy="549.3" r="1.45" fill="#F8766D"/><circle cx="94.3" cy="548.7" r="1.45" fill="#F8766D"/><circle cx="95.0" cy="545.0" r="1.45" fill="#F8766D"/><circle cx="95.8" cy="541.3" r="1.45" fill="#F8766D"/><circle cx="95.9" cy="541.0" r="1.45" fill="#F8766D"/><circle cx="96.8" cy="535.9" r="1.45" fill="#F8766D"/><circle cx="97.2" cy="533.2" r="1.45" fill="#F8766D"/><circle cx="97.7" cy="530.9" r="1.45" fill="#F8766D"/><circle cx="98.4" cy="526.5" r="1.45" fill="#F8766D"/><circle cx="98.6" cy="528.2" r="1.45" fill="#F8766D"/><circle cx="99.5" cy="535.5" r="1.45" fill="#F8766D"/><circle cx="100.4" cy="541.2" r="1.45" fill="#F8766D"/><circle cx="100.7" cy="544.3" r="1.45" fill="#F8766D"/><circle cx="101.3" cy="552.0" r="1.45" fill="#F8766D"/><circle cx="102.2" cy="562.3" r="1.45" fill="#F8766D"/><circle cx="102.2" cy="562.0" r="1.45" fill="#F8766D"/><circle cx="103.1" cy="563.2" r="1.45" fill="#F8766D"/><circle cx="104.0" cy="565.3" r="1.45" fill="#F8766D"/><circle cx="104.4" cy="565.7" r="1.45" fill="#F8766D"/><circle cx="104.9" cy="565.4" r="1.45" fill="#F8766D"/><circle cx="105.8" cy="565.8" r="1.45" fill="#F8766D"/><circle cx="106.3" cy="565.0" r="1.45" fill="#F8766D"/><circle cx="106.7" cy="558.7" r="1.45" fill="#F8766D"/><circle cx="107.3" cy="547.3" r="1.45" fill="#F8766D"/><circle cx="107.6" cy="543.4" r="1.45" fill="#F8766D"/><circle cx="108.1" cy="534.0" r="1.45" fill="#F8766D"/><circle cx="108.5" cy="537.4" r="1.45" fill="#F8766D"/><circle cx="109.2" cy="547.3" r="1.45" fill="#F8766D"/><circle cx="109.4" cy="546.7" r="1.45" fill="#F8766D"/><circle cx="110.3" cy="551.2" r="1.45" fill="#F8766D"/><circle cx="110.3" cy="551.7" r="1.45" fill="#F8766D"/><circle cx="111.2" cy="539.2" r="1.45" fill="#F8766D"/><circle cx="111.3" cy="537.7" r="1.45" fill="#F8766D"/><circle cx="112.1" cy="541.5" r="1.45" fill="#F8766D"/><circle cx="112.5" cy="542.8" r="1.45" fill="#F8766D"/><circle cx="113.0" cy="547.9" r="1.45" fill="#F8766D"/><circle cx="113.7" cy="554.7" r="1.45" fill="#F8766D"/><circle cx="113.9" cy="553.5" r="1.45" fill="#F8766D"/><circle cx="114.8" cy="559.1" r="1.45" fill="#F8766D"/><circle cx="115.4" cy="562.0" r="1.45" fill="#F8766D"/><circle cx="115.7" cy="563.6" r="1.45" fill="#F8766D"/><circle cx="116.6" cy="566.9" r="1.45" fill="#F8766D"/><circle cx="116.9" cy="568.0" r="1.45" fill="#F8766D"/><circle cx="117.5" cy="565.4" r="1.45" fill="#F8766D"/><circle cx="118.4" cy="560.4" r="1.45" fill="#F8766D"/><circle cx="118.4" cy="560.6" r="1.45" fill="#F8766D"/><circle cx="119.3" cy="558.6" r="1.45" fill="#F8766D"/><circle cx="120.2" cy="557.0" r="1.45" fill="#F8766D"/><circle cx="120.6" cy="556.1" r="1.45" fill="#F8766D"/><circle cx="121.1" cy="554.3" r="1.45" fill="#F8766D"/><circle cx="122.0" cy="550.6" r="1.45" fill="#F8766D"/><circle cx="122.8" cy="547.3" r="1.45" fill="#F8766D"/><circle cx="122.9" cy="546.8" r="1.45" fill="#F8766D"/><circle cx="123.8" cy="541.2" r="1.45" fill="#F8766D"/><circle cx="124.3" cy="539.1" r="1.45" fill="#F8766D"/><circle cx="124.7" cy="538.5" r="1.45" fill="#F8766D"/><circle cx="125.6" cy="536.6" r="1.45" fill="#F8766D"/><circle cx="125.8" cy="536.2" r="1.45" fill="#F8766D"/><circle cx="126.5" cy="536.5" r="1.45" fill="#F8766D"/><circle cx="127.4" cy="536.3" r="1.45" fill="#F8766D"/><circle cx="128.0" cy="535.5" r="1.45" fill="#F8766D"/><circle cx="128.3" cy="534.0" r="1.45" fill="#F8766D"/><circle cx="129.2" cy="528.6" r="1.45" fill="#F8766D"/><circle cx="129.5" cy="527.3" r="1.45" fill="#F8766D"/><circle cx="130.1" cy="537.5" r="1.45" fill="#F8766D"/><circle cx="130.2" cy="539.9" r="1.45" fill="#F8766D"/><circle cx="131.0" cy="550.9" r="1.45" fill="#F8766D"/><circle cx="131.4" cy="556.1" r="1.45" fill="#F8766D"/><circle cx="131.9" cy="560.6" r="1.45" fill="#F8766D"/><circle cx="132.8" cy="568.2" r="1.45" fill="#F8766D"/><circle cx="132.9" cy="569.4" r="1.45" fill="#F8766D"/><circle cx="133.7" cy="573.0" r="1.45" fill="#F8766D"/><circle cx="133.9" cy="573.9" r="1.45" fill="#F8766D"/><circle cx="134.6" cy="567.7" r="1.45" fill="#F8766D"/><circle cx="135.4" cy="562.0" r="1.45" fill="#F8766D"/><circle cx="135.5" cy="561.5" r="1.45" fill="#F8766D"/><circle cx="136.4" cy="552.7" r="1.45" fill="#F8766D"/><circle cx="136.9" cy="548.7" r="1.45" fill="#F8766D"/><circle cx="137.3" cy="543.2" r="1.45" fill="#F8766D"/><circle cx="138.2" cy="529.0" r="1.45" fill="#F8766D"/><circle cx="138.3" cy="527.3" r="1.45" fill="#F8766D"/><circle cx="139.1" cy="529.6" r="1.45" fill="#F8766D"/><circle cx="139.8" cy="531.0" r="1.45" fill="#F8766D"/><circle cx="140.0" cy="530.0" r="1.45" fill="#F8766D"/><circle cx="140.9" cy="531.5" r="1.45" fill="#F8766D"/><circle cx="141.8" cy="532.1" r="1.45" fill="#F8766D"/><circle cx="142.0" cy="531.8" r="1.45" fill="#F8766D"/><circle cx="142.7" cy="537.4" r="1.45" fill="#F8766D"/><circle cx="143.5" cy="545.8" r="1.45" fill="#F8766D"/><circle cx="143.6" cy="546.1" r="1.45" fill="#F8766D"/><circle cx="144.5" cy="551.2" r="1.45" fill="#F8766D"/><circle cx="145.4" cy="554.6" r="1.45" fill="#F8766D"/><circle cx="145.7" cy="557.6" r="1.45" fill="#F8766D"/><circle cx="146.3" cy="559.4" r="1.45" fill="#F8766D"/><circle cx="147.2" cy="562.0" r="1.45" fill="#F8766D"/><circle cx="147.9" cy="563.5" r="1.45" fill="#F8766D"/><circle cx="148.1" cy="562.8" r="1.45" fill="#F8766D"/><circle cx="149.0" cy="564.4" r="1.45" fill="#F8766D"/><circle cx="149.9" cy="563.5" r="1.45" fill="#F8766D"/><circle cx="150.2" cy="565.0" r="1.45" fill="#F8766D"/><circle cx="150.8" cy="566.0" r="1.45" fill="#F8766D"/><circle cx="151.7" cy="565.9" r="1.45" fill="#F8766D"/><circle cx="152.4" cy="568.7" r="1.45" fill="#F8766D"/><circle cx="152.6" cy="569.4" r="1.45" fill="#F8766D"/><circle cx="153.5" cy="569.9" r="1.45" fill="#F8766D"/><circle cx="154.4" cy="570.4" r="1.45" fill="#F8766D"/><circle cx="155.0" cy="571.0" r="1.45" fill="#F8766D"/><circle cx="46.4" cy="578.9" r="1.45" fill="#F8766D"/><circle cx="50.1" cy="562.0" r="1.45" fill="#F8766D"/><circle cx="55.3" cy="545.0" r="1.45" fill="#F8766D"/><circle cx="57.7" cy="528.8" r="1.45" fill="#F8766D"/><circle cx="58.5" cy="510.3" r="1.45" fill="#F8766D"/><circle cx="59.0" cy="524.4" r="1.45" fill="#F8766D"/><circle cx="60.7" cy="542.8" r="1.45" fill="#F8766D"/><circle cx="62.2" cy="561.2" r="1.45" fill="#F8766D"/><circle cx="68.0" cy="574.8" r="1.45" fill="#F8766D"/><circle cx="76.0" cy="567.6" r="1.45" fill="#F8766D"/><circle cx="78.4" cy="549.2" r="1.45" fill="#F8766D"/><circle cx="80.5" cy="530.8" r="1.45" fill="#F8766D"/><circle cx="84.7" cy="538.8" r="1.45" fill="#F8766D"/><circle cx="86.8" cy="557.1" r="1.45" fill="#F8766D"/><circle cx="92.9" cy="555.5" r="1.45" fill="#F8766D"/><circle cx="96.5" cy="537.3" r="1.45" fill="#F8766D"/><circle cx="99.4" cy="534.0" r="1.45" fill="#F8766D"/><circle cx="101.4" cy="552.5" r="1.45" fill="#F8766D"/><circle cx="106.4" cy="562.4" r="1.45" fill="#F8766D"/><circle cx="107.5" cy="543.9" r="1.45" fill="#F8766D"/><circle cx="108.8" cy="542.6" r="1.45" fill="#F8766D"/><circle cx="111.0" cy="542.4" r="1.45" fill="#F8766D"/><circle cx="113.4" cy="551.3" r="1.45" fill="#F8766D"/><circle cx="117.2" cy="566.6" r="1.45" fill="#F8766D"/><circle cx="122.4" cy="548.9" r="1.45" fill="#F8766D"/><circle cx="128.5" cy="532.6" r="1.45" fill="#F8766D"/><circle cx="130.2" cy="540.5" r="1.45" fill="#F8766D"/><circle cx="131.7" cy="558.9" r="1.45" fill="#F8766D"/><circle cx="134.3" cy="570.5" r="1.45" fill="#F8766D"/><circle cx="136.5" cy="552.1" r="1.45" fill="#F8766D"/><circle cx="137.9" cy="533.7" r="1.45" fill="#F8766D"/><circle cx="142.6" cy="537.6" r="1.45" fill="#F8766D"/><circle cx="145.4" cy="555.9" r="1.45" fill="#F8766D"/><circle cx="155.0" cy="571.0" r="1.45" fill="#F8766D"/><polyline points="169.8,590.3 169.8,591.1 170.9,590.3 172.0,585.4 172.8,589.2 173.1,590.5 174.2,584.2 175.3,585.0 175.7,586.3 176.4,584.9 177.5,579.0 178.6,573.2 178.6,578.5 179.7,569.0 180.8,570.0 181.2,566.8 181.9,574.4 182.5,570.7 183.0,571.3 184.1,566.6 184.5,572.6 185.2,572.9 186.3,566.9 186.4,569.7 187.4,567.3 188.5,567.7 189.3,562.9 189.6,560.0 190.7,567.0 191.3,568.7 191.8,563.3 192.9,564.7 194.0,563.9 194.2,562.9 195.1,557.1 196.2,559.3 196.2,561.0 197.3,563.2 198.1,566.8 198.4,562.4 199.5,555.1 200.0,559.0 200.6,532.8 201.0,520.0 201.6,486.8 201.7,491.0 202.2,514.1 202.8,532.6 203.0,539.5 203.9,558.3 205.0,572.1 205.0,576.5 206.1,581.1 206.9,584.3 207.2,584.3 208.3,583.9 208.4,582.4 209.4,566.2 209.8,559.0 210.5,536.8 210.8,529.7 211.6,518.0 211.8,515.1 212.7,540.0 212.7,539.5 213.8,554.0 214.3,562.9 214.9,563.2 215.7,559.0 216.0,550.9 217.1,569.1 217.6,566.8 218.2,565.6 219.3,551.4 220.4,545.7 220.5,543.4 221.0,545.4 221.5,555.3 222.0,565.0 222.6,572.5 223.0,584.4 223.7,584.6 224.8,586.9 224.9,584.4 225.9,579.4 226.8,578.6 227.0,575.2 228.1,568.1 228.8,563.0 229.2,560.2 230.1,550.3 230.3,555.6 231.3,563.0 231.4,560.2 232.5,569.0 233.3,570.8 233.6,568.4 234.6,558.0 234.7,549.9 235.8,570.2 236.0,574.7 236.9,568.6 237.6,565.0 238.0,564.8 239.1,565.8 239.5,565.0 240.2,551.3 240.5,560.0 241.3,568.5 241.9,574.7 242.4,575.2 243.4,586.4 243.5,578.9 244.6,584.2 245.4,580.5 245.7,581.4 246.8,574.9 247.3,574.7 247.9,579.2 248.9,584.4 249.0,584.0 250.1,589.4 250.8,592.2 251.2,589.5 252.3,592.0 253.2,589.3 253.4,584.7 254.5,587.7 255.1,587.3 255.6,587.8 256.7,582.7 257.8,586.1 258.0,586.4 258.9,585.9 260.0,586.6 261.0,585.4 261.1,586.6 262.2,583.8 263.3,581.0 263.9,583.4 264.4,585.5 265.5,587.0 265.9,586.4 266.6,581.9 267.7,577.5 267.8,576.6 268.8,578.0 269.8,578.6 269.9,578.0 270.7,567.8 271.0,569.7 272.1,576.9 272.3,576.6 273.2,575.0 274.2,580.5 274.3,581.6 275.4,582.1 276.2,582.5 276.5,583.3 277.6,589.4 278.1,590.3" fill="none" stroke="#F8766D" stroke-width="1.35" stroke-linejoin="round"/><circle cx="169.8" cy="590.3" r="1.50" fill="#F8766D"/><circle cx="169.8" cy="591.1" r="1.50" fill="#F8766D"/><circle cx="170.9" cy="590.3" r="1.50" fill="#F8766D"/><circle cx="172.0" cy="585.4" r="1.50" fill="#F8766D"/><circle cx="172.8" cy="589.2" r="1.50" fill="#F8766D"/><circle cx="173.1" cy="590.5" r="1.50" fill="#F8766D"/><circle cx="174.2" cy="584.2" r="1.50" fill="#F8766D"/><circle cx="175.3" cy="585.0" r="1.50" fill="#F8766D"/><circle cx="175.7" cy="586.3" r="1.50" fill="#F8766D"/><circle cx="176.4" cy="584.9" r="1.50" fill="#F8766D"/><circle cx="177.5" cy="579.0" r="1.50" fill="#F8766D"/><circle cx="178.6" cy="573.2" r="1.50" fill="#F8766D"/><circle cx="178.6" cy="578.5" r="1.50" fill="#F8766D"/><circle cx="179.7" cy="569.0" r="1.50" fill="#F8766D"/><circle cx="180.8" cy="570.0" r="1.50" fill="#F8766D"/><circle cx="181.2" cy="566.8" r="1.50" fill="#F8766D"/><circle cx="181.9" cy="574.4" r="1.50" fill="#F8766D"/><circle cx="182.5" cy="570.7" r="1.50" fill="#F8766D"/><circle cx="183.0" cy="571.3" r="1.50" fill="#F8766D"/><circle cx="184.1" cy="566.6" r="1.50" fill="#F8766D"/><circle cx="184.5" cy="572.6" r="1.50" fill="#F8766D"/><circle cx="185.2" cy="572.9" r="1.50" fill="#F8766D"/><circle cx="186.3" cy="566.9" r="1.50" fill="#F8766D"/><circle cx="186.4" cy="569.7" r="1.50" fill="#F8766D"/><circle cx="187.4" cy="567.3" r="1.50" fill="#F8766D"/><circle cx="188.5" cy="567.7" r="1.50" fill="#F8766D"/><circle cx="189.3" cy="562.9" r="1.50" fill="#F8766D"/><circle cx="189.6" cy="560.0" r="1.50" fill="#F8766D"/><circle cx="190.7" cy="567.0" r="1.50" fill="#F8766D"/><circle cx="191.3" cy="568.7" r="1.50" fill="#F8766D"/><circle cx="191.8" cy="563.3" r="1.50" fill="#F8766D"/><circle cx="192.9" cy="564.7" r="1.50" fill="#F8766D"/><circle cx="194.0" cy="563.9" r="1.50" fill="#F8766D"/><circle cx="194.2" cy="562.9" r="1.50" fill="#F8766D"/><circle cx="195.1" cy="557.1" r="1.50" fill="#F8766D"/><circle cx="196.2" cy="559.3" r="1.50" fill="#F8766D"/><circle cx="196.2" cy="561.0" r="1.50" fill="#F8766D"/><circle cx="197.3" cy="563.2" r="1.50" fill="#F8766D"/><circle cx="198.1" cy="566.8" r="1.50" fill="#F8766D"/><circle cx="198.4" cy="562.4" r="1.50" fill="#F8766D"/><circle cx="199.5" cy="555.1" r="1.50" fill="#F8766D"/><circle cx="200.0" cy="559.0" r="1.50" fill="#F8766D"/><circle cx="200.6" cy="532.8" r="1.50" fill="#F8766D"/><circle cx="201.0" cy="520.0" r="1.50" fill="#F8766D"/><circle cx="201.6" cy="486.8" r="1.50" fill="#F8766D"/><circle cx="201.7" cy="491.0" r="1.50" fill="#F8766D"/><circle cx="202.2" cy="514.1" r="1.50" fill="#F8766D"/><circle cx="202.8" cy="532.6" r="1.50" fill="#F8766D"/><circle cx="203.0" cy="539.5" r="1.50" fill="#F8766D"/><circle cx="203.9" cy="558.3" r="1.50" fill="#F8766D"/><circle cx="205.0" cy="572.1" r="1.50" fill="#F8766D"/><circle cx="205.0" cy="576.5" r="1.50" fill="#F8766D"/><circle cx="206.1" cy="581.1" r="1.50" fill="#F8766D"/><circle cx="206.9" cy="584.3" r="1.50" fill="#F8766D"/><circle cx="207.2" cy="584.3" r="1.50" fill="#F8766D"/><circle cx="208.3" cy="583.9" r="1.50" fill="#F8766D"/><circle cx="208.4" cy="582.4" r="1.50" fill="#F8766D"/><circle cx="209.4" cy="566.2" r="1.50" fill="#F8766D"/><circle cx="209.8" cy="559.0" r="1.50" fill="#F8766D"/><circle cx="210.5" cy="536.8" r="1.50" fill="#F8766D"/><circle cx="210.8" cy="529.7" r="1.50" fill="#F8766D"/><circle cx="211.6" cy="518.0" r="1.50" fill="#F8766D"/><circle cx="211.8" cy="515.1" r="1.50" fill="#F8766D"/><circle cx="212.7" cy="540.0" r="1.50" fill="#F8766D"/><circle cx="212.7" cy="539.5" r="1.50" fill="#F8766D"/><circle cx="213.8" cy="554.0" r="1.50" fill="#F8766D"/><circle cx="214.3" cy="562.9" r="1.50" fill="#F8766D"/><circle cx="214.9" cy="563.2" r="1.50" fill="#F8766D"/><circle cx="215.7" cy="559.0" r="1.50" fill="#F8766D"/><circle cx="216.0" cy="550.9" r="1.50" fill="#F8766D"/><circle cx="217.1" cy="569.1" r="1.50" fill="#F8766D"/><circle cx="217.6" cy="566.8" r="1.50" fill="#F8766D"/><circle cx="218.2" cy="565.6" r="1.50" fill="#F8766D"/><circle cx="219.3" cy="551.4" r="1.50" fill="#F8766D"/><circle cx="220.4" cy="545.7" r="1.50" fill="#F8766D"/><circle cx="220.5" cy="543.4" r="1.50" fill="#F8766D"/><circle cx="221.0" cy="545.4" r="1.50" fill="#F8766D"/><circle cx="221.5" cy="555.3" r="1.50" fill="#F8766D"/><circle cx="222.0" cy="565.0" r="1.50" fill="#F8766D"/><circle cx="222.6" cy="572.5" r="1.50" fill="#F8766D"/><circle cx="223.0" cy="584.4" r="1.50" fill="#F8766D"/><circle cx="223.7" cy="584.6" r="1.50" fill="#F8766D"/><circle cx="224.8" cy="586.9" r="1.50" fill="#F8766D"/><circle cx="224.9" cy="584.4" r="1.50" fill="#F8766D"/><circle cx="225.9" cy="579.4" r="1.50" fill="#F8766D"/><circle cx="226.8" cy="578.6" r="1.50" fill="#F8766D"/><circle cx="227.0" cy="575.2" r="1.50" fill="#F8766D"/><circle cx="228.1" cy="568.1" r="1.50" fill="#F8766D"/><circle cx="228.8" cy="563.0" r="1.50" fill="#F8766D"/><circle cx="229.2" cy="560.2" r="1.50" fill="#F8766D"/><circle cx="230.1" cy="550.3" r="1.50" fill="#F8766D"/><circle cx="230.3" cy="555.6" r="1.50" fill="#F8766D"/><circle cx="231.3" cy="563.0" r="1.50" fill="#F8766D"/><circle cx="231.4" cy="560.2" r="1.50" fill="#F8766D"/><circle cx="232.5" cy="569.0" r="1.50" fill="#F8766D"/><circle cx="233.3" cy="570.8" r="1.50" fill="#F8766D"/><circle cx="233.6" cy="568.4" r="1.50" fill="#F8766D"/><circle cx="234.6" cy="558.0" r="1.50" fill="#F8766D"/><circle cx="234.7" cy="549.9" r="1.50" fill="#F8766D"/><circle cx="235.8" cy="570.2" r="1.50" fill="#F8766D"/><circle cx="236.0" cy="574.7" r="1.50" fill="#F8766D"/><circle cx="236.9" cy="568.6" r="1.50" fill="#F8766D"/><circle cx="237.6" cy="565.0" r="1.50" fill="#F8766D"/><circle cx="238.0" cy="564.8" r="1.50" fill="#F8766D"/><circle cx="239.1" cy="565.8" r="1.50" fill="#F8766D"/><circle cx="239.5" cy="565.0" r="1.50" fill="#F8766D"/><circle cx="240.2" cy="551.3" r="1.50" fill="#F8766D"/><circle cx="240.5" cy="560.0" r="1.50" fill="#F8766D"/><circle cx="241.3" cy="568.5" r="1.50" fill="#F8766D"/><circle cx="241.9" cy="574.7" r="1.50" fill="#F8766D"/><circle cx="242.4" cy="575.2" r="1.50" fill="#F8766D"/><circle cx="243.4" cy="586.4" r="1.50" fill="#F8766D"/><circle cx="243.5" cy="578.9" r="1.50" fill="#F8766D"/><circle cx="244.6" cy="584.2" r="1.50" fill="#F8766D"/><circle cx="245.4" cy="580.5" r="1.50" fill="#F8766D"/><circle cx="245.7" cy="581.4" r="1.50" fill="#F8766D"/><circle cx="246.8" cy="574.9" r="1.50" fill="#F8766D"/><circle cx="247.3" cy="574.7" r="1.50" fill="#F8766D"/><circle cx="247.9" cy="579.2" r="1.50" fill="#F8766D"/><circle cx="248.9" cy="584.4" r="1.50" fill="#F8766D"/><circle cx="249.0" cy="584.0" r="1.50" fill="#F8766D"/><circle cx="250.1" cy="589.4" r="1.50" fill="#F8766D"/><circle cx="250.8" cy="592.2" r="1.50" fill="#F8766D"/><circle cx="251.2" cy="589.5" r="1.50" fill="#F8766D"/><circle cx="252.3" cy="592.0" r="1.50" fill="#F8766D"/><circle cx="253.2" cy="589.3" r="1.50" fill="#F8766D"/><circle cx="253.4" cy="584.7" r="1.50" fill="#F8766D"/><circle cx="254.5" cy="587.7" r="1.50" fill="#F8766D"/><circle cx="255.1" cy="587.3" r="1.50" fill="#F8766D"/><circle cx="255.6" cy="587.8" r="1.50" fill="#F8766D"/><circle cx="256.7" cy="582.7" r="1.50" fill="#F8766D"/><circle cx="257.8" cy="586.1" r="1.50" fill="#F8766D"/><circle cx="258.0" cy="586.4" r="1.50" fill="#F8766D"/><circle cx="258.9" cy="585.9" r="1.50" fill="#F8766D"/><circle cx="260.0" cy="586.6" r="1.50" fill="#F8766D"/><circle cx="261.0" cy="585.4" r="1.50" fill="#F8766D"/><circle cx="261.1" cy="586.6" r="1.50" fill="#F8766D"/><circle cx="262.2" cy="583.8" r="1.50" fill="#F8766D"/><circle cx="263.3" cy="581.0" r="1.50" fill="#F8766D"/><circle cx="263.9" cy="583.4" r="1.50" fill="#F8766D"/><circle cx="264.4" cy="585.5" r="1.50" fill="#F8766D"/><circle cx="265.5" cy="587.0" r="1.50" fill="#F8766D"/><circle cx="265.9" cy="586.4" r="1.50" fill="#F8766D"/><circle cx="266.6" cy="581.9" r="1.50" fill="#F8766D"/><circle cx="267.7" cy="577.5" r="1.50" fill="#F8766D"/><circle cx="267.8" cy="576.6" r="1.50" fill="#F8766D"/><circle cx="268.8" cy="578.0" r="1.50" fill="#F8766D"/><circle cx="269.8" cy="578.6" r="1.50" fill="#F8766D"/><circle cx="269.9" cy="578.0" r="1.50" fill="#F8766D"/><circle cx="270.7" cy="567.8" r="1.50" fill="#F8766D"/><circle cx="271.0" cy="569.7" r="1.50" fill="#F8766D"/><circle cx="272.1" cy="576.9" r="1.50" fill="#F8766D"/><circle cx="272.3" cy="576.6" r="1.50" fill="#F8766D"/><circle cx="273.2" cy="575.0" r="1.50" fill="#F8766D"/><circle cx="274.2" cy="580.5" r="1.50" fill="#F8766D"/><circle cx="274.3" cy="581.6" r="1.50" fill="#F8766D"/><circle cx="275.4" cy="582.1" r="1.50" fill="#F8766D"/><circle cx="276.2" cy="582.5" r="1.50" fill="#F8766D"/><circle cx="276.5" cy="583.3" r="1.50" fill="#F8766D"/><circle cx="277.6" cy="589.4" r="1.50" fill="#F8766D"/><circle cx="278.1" cy="590.3" r="1.50" fill="#F8766D"/><circle cx="169.8" cy="591.1" r="1.50" fill="#F8766D"/><circle cx="178.7" cy="578.2" r="1.50" fill="#F8766D"/><circle cx="182.9" cy="571.1" r="1.50" fill="#F8766D"/><circle cx="190.3" cy="565.9" r="1.50" fill="#F8766D"/><circle cx="197.5" cy="564.9" r="1.50" fill="#F8766D"/><circle cx="200.2" cy="552.7" r="1.50" fill="#F8766D"/><circle cx="200.6" cy="536.5" r="1.50" fill="#F8766D"/><circle cx="201.0" cy="520.2" r="1.50" fill="#F8766D"/><circle cx="201.3" cy="503.9" r="1.50" fill="#F8766D"/><circle cx="201.6" cy="487.6" r="1.50" fill="#F8766D"/><circle cx="201.9" cy="502.3" r="1.50" fill="#F8766D"/><circle cx="202.3" cy="518.6" r="1.50" fill="#F8766D"/><circle cx="202.9" cy="534.9" r="1.50" fill="#F8766D"/><circle cx="203.6" cy="551.1" r="1.50" fill="#F8766D"/><circle cx="204.5" cy="567.4" r="1.50" fill="#F8766D"/><circle cx="206.7" cy="583.5" r="1.50" fill="#F8766D"/><circle cx="209.2" cy="569.4" r="1.50" fill="#F8766D"/><circle cx="210.0" cy="553.1" r="1.50" fill="#F8766D"/><circle cx="210.6" cy="536.9" r="1.50" fill="#F8766D"/><circle cx="211.4" cy="520.6" r="1.50" fill="#F8766D"/><circle cx="212.2" cy="525.9" r="1.50" fill="#F8766D"/><circle cx="212.9" cy="542.2" r="1.50" fill="#F8766D"/><circle cx="214.0" cy="558.4" r="1.50" fill="#F8766D"/><circle cx="217.5" cy="566.4" r="1.50" fill="#F8766D"/><circle cx="219.6" cy="551.0" r="1.50" fill="#F8766D"/><circle cx="221.3" cy="551.9" r="1.50" fill="#F8766D"/><circle cx="222.2" cy="568.2" r="1.50" fill="#F8766D"/><circle cx="223.1" cy="584.4" r="1.50" fill="#F8766D"/><circle cx="227.9" cy="570.3" r="1.50" fill="#F8766D"/><circle cx="229.7" cy="554.1" r="1.50" fill="#F8766D"/><circle cx="231.3" cy="562.7" r="1.50" fill="#F8766D"/><circle cx="234.1" cy="562.9" r="1.50" fill="#F8766D"/><circle cx="235.5" cy="569.3" r="1.50" fill="#F8766D"/><circle cx="238.7" cy="565.0" r="1.50" fill="#F8766D"/><circle cx="241.5" cy="570.3" r="1.50" fill="#F8766D"/><circle cx="243.4" cy="586.3" r="1.50" fill="#F8766D"/><circle cx="248.0" cy="578.7" r="1.50" fill="#F8766D"/><circle cx="252.4" cy="590.3" r="1.50" fill="#F8766D"/><circle cx="265.3" cy="585.5" r="1.50" fill="#F8766D"/><circle cx="270.0" cy="576.2" r="1.50" fill="#F8766D"/><circle cx="272.1" cy="575.5" r="1.50" fill="#F8766D"/><circle cx="278.1" cy="590.3" r="1.50" fill="#F8766D"/><polyline points="46.3,576.4 51.5,575.9 56.8,576.9 62.0,577.6 69.0,576.9 75.2,575.9 81.3,576.9 86.5,576.4 93.5,577.3 98.8,577.8 105.8,577.6 112.8,576.6 118.0,576.4 125.0,577.3 132.0,577.8 139.0,577.3 146.0,576.2 152.2,575.9 155.5,575.9" fill="none" stroke="#000" stroke-width="1.7" stroke-dasharray="6 5.4"/><polyline points="169.8,593.0 180.0,589.0 190.0,586.0 200.0,584.5 210.0,585.5 222.0,587.3 236.0,589.6 256.0,591.8 278.5,593.4" fill="none" stroke="#000" stroke-width="1.7" stroke-dasharray="6 5.4"/><polyline points="46.2,568.6 49.1,555.3 50.6,553.8 52.0,556.0 53.5,551.6 55.5,535.0 57.2,512.5 58.7,513.0 60.9,536.9 63.1,562.0 65.3,570.8 69.0,573.7 72.7,572.3 75.7,562.0 77.9,544.2 80.1,525.8 81.6,524.3 83.0,528.0 85.2,544.2 88.2,559.0 89.7,563.4 92.6,553.0 97.9,542.8 98.7,542.0 101.6,559.0 103.9,567.8 105.3,570.0 106.8,562.0 109.0,548.7 110.5,548.0 112.7,554.6 115.7,562.0 118.6,565.0 120.8,556.0 123.8,535.4 126.0,531.7 128.2,532.4 130.4,544.2 132.6,562.0 134.1,569.3 135.6,559.0 137.8,536.9 140.0,530.2 142.2,532.4 144.4,544.2 146.6,554.6 149.6,560.5 152.5,562.0 155.5,565.0" fill="none" stroke="#00BFC4" stroke-width="1.20" stroke-linejoin="round"/><circle cx="46.2" cy="568.6" r="1.40" fill="#00BFC4"/><circle cx="47.3" cy="563.6" r="1.40" fill="#00BFC4"/><circle cx="48.4" cy="558.5" r="1.40" fill="#00BFC4"/><circle cx="49.5" cy="554.9" r="1.40" fill="#00BFC4"/><circle cx="50.6" cy="553.8" r="1.40" fill="#00BFC4"/><circle cx="51.7" cy="555.5" r="1.40" fill="#00BFC4"/><circle cx="52.8" cy="553.7" r="1.40" fill="#00BFC4"/><circle cx="53.9" cy="548.3" r="1.40" fill="#00BFC4"/><circle cx="55.0" cy="539.1" r="1.40" fill="#00BFC4"/><circle cx="56.1" cy="527.1" r="1.40" fill="#00BFC4"/><circle cx="57.2" cy="512.5" r="1.40" fill="#00BFC4"/><circle cx="58.3" cy="512.9" r="1.40" fill="#00BFC4"/><circle cx="59.4" cy="520.6" r="1.40" fill="#00BFC4"/><circle cx="60.5" cy="532.6" r="1.40" fill="#00BFC4"/><circle cx="61.6" cy="544.9" r="1.40" fill="#00BFC4"/><circle cx="62.7" cy="557.4" r="1.40" fill="#00BFC4"/><circle cx="63.8" cy="564.8" r="1.40" fill="#00BFC4"/><circle cx="64.9" cy="569.2" r="1.40" fill="#00BFC4"/><circle cx="66.0" cy="571.3" r="1.40" fill="#00BFC4"/><circle cx="67.1" cy="572.2" r="1.40" fill="#00BFC4"/><circle cx="68.2" cy="573.1" r="1.40" fill="#00BFC4"/><circle cx="69.3" cy="573.6" r="1.40" fill="#00BFC4"/><circle cx="70.4" cy="573.2" r="1.40" fill="#00BFC4"/><circle cx="71.5" cy="572.8" r="1.40" fill="#00BFC4"/><circle cx="72.6" cy="572.3" r="1.40" fill="#00BFC4"/><circle cx="73.7" cy="568.9" r="1.40" fill="#00BFC4"/><circle cx="74.8" cy="565.1" r="1.40" fill="#00BFC4"/><circle cx="75.9" cy="560.4" r="1.40" fill="#00BFC4"/><circle cx="77.0" cy="551.5" r="1.40" fill="#00BFC4"/><circle cx="78.1" cy="542.5" r="1.40" fill="#00BFC4"/><circle cx="79.2" cy="533.3" r="1.40" fill="#00BFC4"/><circle cx="80.3" cy="525.6" r="1.40" fill="#00BFC4"/><circle cx="81.4" cy="524.5" r="1.40" fill="#00BFC4"/><circle cx="82.5" cy="526.7" r="1.40" fill="#00BFC4"/><circle cx="83.6" cy="532.4" r="1.40" fill="#00BFC4"/><circle cx="84.7" cy="540.5" r="1.40" fill="#00BFC4"/><circle cx="85.8" cy="547.2" r="1.40" fill="#00BFC4"/><circle cx="86.9" cy="552.6" r="1.40" fill="#00BFC4"/><circle cx="88.0" cy="558.0" r="1.40" fill="#00BFC4"/><circle cx="89.1" cy="561.6" r="1.40" fill="#00BFC4"/><circle cx="90.2" cy="561.6" r="1.40" fill="#00BFC4"/><circle cx="91.3" cy="557.7" r="1.40" fill="#00BFC4"/><circle cx="92.4" cy="553.7" r="1.40" fill="#00BFC4"/><circle cx="93.5" cy="551.3" r="1.40" fill="#00BFC4"/><circle cx="94.6" cy="549.2" r="1.40" fill="#00BFC4"/><circle cx="95.7" cy="547.0" r="1.40" fill="#00BFC4"/><circle cx="96.8" cy="544.9" r="1.40" fill="#00BFC4"/><circle cx="97.9" cy="542.8" r="1.40" fill="#00BFC4"/><circle cx="99.0" cy="543.8" r="1.40" fill="#00BFC4"/><circle cx="100.1" cy="550.2" r="1.40" fill="#00BFC4"/><circle cx="101.2" cy="556.7" r="1.40" fill="#00BFC4"/><circle cx="102.3" cy="561.7" r="1.40" fill="#00BFC4"/><circle cx="103.4" cy="565.9" r="1.40" fill="#00BFC4"/><circle cx="104.5" cy="568.7" r="1.40" fill="#00BFC4"/><circle cx="105.6" cy="568.4" r="1.40" fill="#00BFC4"/><circle cx="106.7" cy="562.5" r="1.40" fill="#00BFC4"/><circle cx="107.8" cy="556.0" r="1.40" fill="#00BFC4"/><circle cx="108.9" cy="549.3" r="1.40" fill="#00BFC4"/><circle cx="110.0" cy="548.2" r="1.40" fill="#00BFC4"/><circle cx="111.1" cy="549.8" r="1.40" fill="#00BFC4"/><circle cx="112.2" cy="553.1" r="1.40" fill="#00BFC4"/><circle cx="113.3" cy="556.1" r="1.40" fill="#00BFC4"/><circle cx="114.4" cy="558.8" r="1.40" fill="#00BFC4"/><circle cx="115.5" cy="561.5" r="1.40" fill="#00BFC4"/><circle cx="116.6" cy="562.9" r="1.40" fill="#00BFC4"/><circle cx="117.7" cy="564.1" r="1.40" fill="#00BFC4"/><circle cx="118.8" cy="564.2" r="1.40" fill="#00BFC4"/><circle cx="119.9" cy="559.7" r="1.40" fill="#00BFC4"/><circle cx="121.0" cy="554.6" r="1.40" fill="#00BFC4"/><circle cx="122.1" cy="547.1" r="1.40" fill="#00BFC4"/><circle cx="123.2" cy="539.5" r="1.40" fill="#00BFC4"/><circle cx="124.3" cy="534.6" r="1.40" fill="#00BFC4"/><circle cx="125.4" cy="532.7" r="1.40" fill="#00BFC4"/><circle cx="126.5" cy="531.9" r="1.40" fill="#00BFC4"/><circle cx="127.6" cy="532.2" r="1.40" fill="#00BFC4"/><circle cx="128.7" cy="535.1" r="1.40" fill="#00BFC4"/><circle cx="129.8" cy="541.0" r="1.40" fill="#00BFC4"/><circle cx="130.9" cy="548.2" r="1.40" fill="#00BFC4"/><circle cx="132.0" cy="557.1" r="1.40" fill="#00BFC4"/><circle cx="133.1" cy="564.4" r="1.40" fill="#00BFC4"/><circle cx="134.2" cy="568.6" r="1.40" fill="#00BFC4"/><circle cx="135.3" cy="561.1" r="1.40" fill="#00BFC4"/><circle cx="136.4" cy="551.0" r="1.40" fill="#00BFC4"/><circle cx="137.5" cy="539.9" r="1.40" fill="#00BFC4"/><circle cx="138.6" cy="534.5" r="1.40" fill="#00BFC4"/><circle cx="139.7" cy="531.1" r="1.40" fill="#00BFC4"/><circle cx="140.8" cy="531.0" r="1.40" fill="#00BFC4"/><circle cx="141.9" cy="532.1" r="1.40" fill="#00BFC4"/><circle cx="143.0" cy="536.7" r="1.40" fill="#00BFC4"/><circle cx="144.1" cy="542.6" r="1.40" fill="#00BFC4"/><circle cx="145.2" cy="548.0" r="1.40" fill="#00BFC4"/><circle cx="146.3" cy="553.2" r="1.40" fill="#00BFC4"/><circle cx="147.4" cy="556.2" r="1.40" fill="#00BFC4"/><circle cx="148.5" cy="558.3" r="1.40" fill="#00BFC4"/><circle cx="149.6" cy="560.5" r="1.40" fill="#00BFC4"/><circle cx="150.7" cy="561.1" r="1.40" fill="#00BFC4"/><circle cx="151.8" cy="561.6" r="1.40" fill="#00BFC4"/><circle cx="152.9" cy="562.4" r="1.40" fill="#00BFC4"/><circle cx="154.0" cy="563.5" r="1.40" fill="#00BFC4"/><circle cx="155.1" cy="564.6" r="1.40" fill="#00BFC4"/><circle cx="46.2" cy="568.6" r="1.40" fill="#00BFC4"/><circle cx="47.0" cy="564.9" r="1.40" fill="#00BFC4"/><circle cx="47.8" cy="561.2" r="1.40" fill="#00BFC4"/><circle cx="48.6" cy="557.4" r="1.40" fill="#00BFC4"/><circle cx="50.2" cy="554.2" r="1.40" fill="#00BFC4"/><circle cx="52.2" cy="555.3" r="1.40" fill="#00BFC4"/><circle cx="53.5" cy="551.7" r="1.40" fill="#00BFC4"/><circle cx="53.9" cy="548.0" r="1.40" fill="#00BFC4"/><circle cx="54.4" cy="544.2" r="1.40" fill="#00BFC4"/><circle cx="54.9" cy="540.4" r="1.40" fill="#00BFC4"/><circle cx="55.3" cy="536.6" r="1.40" fill="#00BFC4"/><circle cx="55.7" cy="532.8" r="1.40" fill="#00BFC4"/><circle cx="56.0" cy="529.0" r="1.40" fill="#00BFC4"/><circle cx="56.2" cy="525.2" r="1.40" fill="#00BFC4"/><circle cx="56.5" cy="521.4" r="1.40" fill="#00BFC4"/><circle cx="56.8" cy="517.6" r="1.40" fill="#00BFC4"/><circle cx="57.1" cy="513.8" r="1.40" fill="#00BFC4"/><circle cx="58.8" cy="513.9" r="1.40" fill="#00BFC4"/><circle cx="59.1" cy="517.7" r="1.40" fill="#00BFC4"/><circle cx="59.5" cy="521.5" r="1.40" fill="#00BFC4"/><circle cx="59.8" cy="525.3" r="1.40" fill="#00BFC4"/><circle cx="60.2" cy="529.1" r="1.40" fill="#00BFC4"/><circle cx="60.5" cy="532.9" r="1.40" fill="#00BFC4"/><circle cx="60.9" cy="536.7" r="1.40" fill="#00BFC4"/><circle cx="61.2" cy="540.5" r="1.40" fill="#00BFC4"/><circle cx="61.5" cy="544.2" r="1.40" fill="#00BFC4"/><circle cx="61.9" cy="548.0" r="1.40" fill="#00BFC4"/><circle cx="62.2" cy="551.8" r="1.40" fill="#00BFC4"/><circle cx="62.5" cy="555.6" r="1.40" fill="#00BFC4"/><circle cx="62.9" cy="559.4" r="1.40" fill="#00BFC4"/><circle cx="63.4" cy="563.2" r="1.40" fill="#00BFC4"/><circle cx="64.3" cy="566.9" r="1.40" fill="#00BFC4"/><circle cx="65.2" cy="570.6" r="1.40" fill="#00BFC4"/><circle cx="68.1" cy="573.0" r="1.40" fill="#00BFC4"/><circle cx="71.5" cy="572.7" r="1.40" fill="#00BFC4"/><circle cx="73.4" cy="569.9" r="1.40" fill="#00BFC4"/><circle cx="74.5" cy="566.2" r="1.40" fill="#00BFC4"/><circle cx="75.5" cy="562.5" r="1.40" fill="#00BFC4"/><circle cx="76.1" cy="558.8" r="1.40" fill="#00BFC4"/><circle cx="76.6" cy="555.0" r="1.40" fill="#00BFC4"/><circle cx="77.0" cy="551.2" r="1.40" fill="#00BFC4"/><circle cx="77.5" cy="547.4" r="1.40" fill="#00BFC4"/><circle cx="78.0" cy="543.7" r="1.40" fill="#00BFC4"/><circle cx="78.4" cy="539.9" r="1.40" fill="#00BFC4"/><circle cx="78.9" cy="536.1" r="1.40" fill="#00BFC4"/><circle cx="79.3" cy="532.3" r="1.40" fill="#00BFC4"/><circle cx="79.8" cy="528.5" r="1.40" fill="#00BFC4"/><circle cx="80.9" cy="525.0" r="1.40" fill="#00BFC4"/><circle cx="82.6" cy="526.9" r="1.40" fill="#00BFC4"/><circle cx="83.4" cy="530.6" r="1.40" fill="#00BFC4"/><circle cx="83.9" cy="534.4" r="1.40" fill="#00BFC4"/><circle cx="84.4" cy="538.1" r="1.40" fill="#00BFC4"/><circle cx="84.9" cy="541.9" r="1.40" fill="#00BFC4"/><circle cx="85.5" cy="545.7" r="1.40" fill="#00BFC4"/><circle cx="86.3" cy="549.4" r="1.40" fill="#00BFC4"/><circle cx="87.0" cy="553.1" r="1.40" fill="#00BFC4"/><circle cx="87.8" cy="556.9" r="1.40" fill="#00BFC4"/><circle cx="88.7" cy="560.5" r="1.40" fill="#00BFC4"/><circle cx="89.9" cy="562.6" r="1.40" fill="#00BFC4"/><circle cx="90.9" cy="559.0" r="1.40" fill="#00BFC4"/><circle cx="92.0" cy="555.3" r="1.40" fill="#00BFC4"/><circle cx="93.3" cy="551.7" r="1.40" fill="#00BFC4"/><circle cx="95.0" cy="548.4" r="1.40" fill="#00BFC4"/><circle cx="96.8" cy="545.0" r="1.40" fill="#00BFC4"/><circle cx="98.7" cy="542.2" r="1.40" fill="#00BFC4"/><circle cx="99.4" cy="546.0" r="1.40" fill="#00BFC4"/><circle cx="100.0" cy="549.7" r="1.40" fill="#00BFC4"/><circle cx="100.7" cy="553.5" r="1.40" fill="#00BFC4"/><circle cx="101.3" cy="557.2" r="1.40" fill="#00BFC4"/><circle cx="102.1" cy="561.0" r="1.40" fill="#00BFC4"/><circle cx="103.1" cy="564.6" r="1.40" fill="#00BFC4"/><circle cx="104.2" cy="568.3" r="1.40" fill="#00BFC4"/><circle cx="105.6" cy="568.3" r="1.40" fill="#00BFC4"/><circle cx="106.3" cy="564.5" r="1.40" fill="#00BFC4"/><circle cx="107.0" cy="560.8" r="1.40" fill="#00BFC4"/><circle cx="107.6" cy="557.0" r="1.40" fill="#00BFC4"/><circle cx="108.2" cy="553.3" r="1.40" fill="#00BFC4"/><circle cx="108.9" cy="549.5" r="1.40" fill="#00BFC4"/><circle cx="110.9" cy="549.3" r="1.40" fill="#00BFC4"/><circle cx="112.1" cy="552.9" r="1.40" fill="#00BFC4"/><circle cx="113.4" cy="556.4" r="1.40" fill="#00BFC4"/><circle cx="114.9" cy="560.0" r="1.40" fill="#00BFC4"/><circle cx="116.8" cy="563.2" r="1.40" fill="#00BFC4"/><circle cx="118.9" cy="563.8" r="1.40" fill="#00BFC4"/><circle cx="119.8" cy="560.1" r="1.40" fill="#00BFC4"/><circle cx="120.7" cy="556.4" r="1.40" fill="#00BFC4"/><circle cx="121.3" cy="552.6" r="1.40" fill="#00BFC4"/><circle cx="121.8" cy="548.8" r="1.40" fill="#00BFC4"/><circle cx="122.4" cy="545.1" r="1.40" fill="#00BFC4"/><circle cx="122.9" cy="541.3" r="1.40" fill="#00BFC4"/><circle cx="123.5" cy="537.5" r="1.40" fill="#00BFC4"/><circle cx="124.6" cy="534.0" r="1.40" fill="#00BFC4"/><circle cx="127.1" cy="532.0" r="1.40" fill="#00BFC4"/><circle cx="128.7" cy="535.0" r="1.40" fill="#00BFC4"/><circle cx="129.4" cy="538.8" r="1.40" fill="#00BFC4"/><circle cx="130.1" cy="542.5" r="1.40" fill="#00BFC4"/><circle cx="130.7" cy="546.3" r="1.40" fill="#00BFC4"/><circle cx="131.1" cy="550.0" r="1.40" fill="#00BFC4"/><circle cx="131.6" cy="553.8" r="1.40" fill="#00BFC4"/><circle cx="132.1" cy="557.6" r="1.40" fill="#00BFC4"/><circle cx="132.5" cy="561.4" r="1.40" fill="#00BFC4"/><circle cx="133.2" cy="565.1" r="1.40" fill="#00BFC4"/><circle cx="134.0" cy="568.9" r="1.40" fill="#00BFC4"/><circle cx="134.6" cy="566.0" r="1.40" fill="#00BFC4"/><circle cx="135.1" cy="562.2" r="1.40" fill="#00BFC4"/><circle cx="135.7" cy="558.4" r="1.40" fill="#00BFC4"/><circle cx="136.0" cy="554.6" r="1.40" fill="#00BFC4"/><circle cx="136.4" cy="550.9" r="1.40" fill="#00BFC4"/><circle cx="136.8" cy="547.1" r="1.40" fill="#00BFC4"/><circle cx="137.2" cy="543.3" r="1.40" fill="#00BFC4"/><circle cx="137.5" cy="539.5" r="1.40" fill="#00BFC4"/><circle cx="138.2" cy="535.7" r="1.40" fill="#00BFC4"/><circle cx="139.4" cy="532.1" r="1.40" fill="#00BFC4"/><circle cx="141.3" cy="531.5" r="1.40" fill="#00BFC4"/><circle cx="142.7" cy="534.8" r="1.40" fill="#00BFC4"/><circle cx="143.4" cy="538.6" r="1.40" fill="#00BFC4"/><circle cx="144.1" cy="542.3" r="1.40" fill="#00BFC4"/><circle cx="144.8" cy="546.1" r="1.40" fill="#00BFC4"/><circle cx="145.6" cy="549.8" r="1.40" fill="#00BFC4"/><circle cx="146.4" cy="553.5" r="1.40" fill="#00BFC4"/><circle cx="147.8" cy="557.0" r="1.40" fill="#00BFC4"/><circle cx="149.5" cy="560.4" r="1.40" fill="#00BFC4"/><circle cx="152.8" cy="562.3" r="1.40" fill="#00BFC4"/><circle cx="155.5" cy="565.0" r="1.40" fill="#00BFC4"/><polyline points="169.8,591.6 169.8,592.1 170.9,590.7 172.0,586.8 173.1,588.9 173.7,587.2 174.2,584.3 175.3,583.6 176.4,583.2 177.5,579.7 178.6,576.2 178.6,579.4 179.7,572.6 180.8,572.1 181.5,568.7 181.9,573.2 183.0,573.2 183.5,574.6 184.1,570.8 185.2,574.2 186.3,570.9 186.4,572.6 187.4,570.5 188.5,570.2 189.3,566.8 189.6,564.8 190.7,568.2 191.8,566.6 192.3,569.7 192.9,568.8 194.0,568.8 195.1,564.7 196.2,565.8 196.2,566.8 197.3,564.6 198.4,561.9 199.1,562.9 199.5,554.0 200.6,541.1 201.0,537.5 201.7,537.3 202.0,537.5 202.8,557.5 203.0,562.9 203.9,571.2 205.0,575.9 205.0,578.5 205.9,582.4 206.1,582.1 207.2,580.1 207.9,578.5 208.3,572.3 209.4,552.6 209.8,545.3 210.5,540.9 211.4,537.5 211.6,538.7 212.7,545.6 212.7,545.3 213.8,559.1 214.3,566.8 214.9,569.0 216.0,564.1 216.6,570.7 217.1,570.3 218.2,563.3 219.3,553.5 220.4,548.8 220.5,547.3 221.5,561.6 221.6,563.0 222.6,574.0 222.9,580.5 223.7,582.2 224.8,585.7 224.9,584.4 225.9,582.3 226.8,582.5 227.0,580.0 228.1,573.4 228.8,568.8 229.2,567.6 230.3,563.8 230.7,560.0 231.4,560.5 232.5,566.9 232.7,566.8 233.6,568.5 234.6,569.8 234.7,564.2 235.8,568.1 236.9,568.6 237.6,568.8 238.0,569.1 239.1,570.9 239.5,570.8 240.2,566.7 241.3,576.1 241.5,576.6 242.4,578.3 243.4,584.4 243.5,580.2 244.6,586.0 245.7,587.1 246.3,586.4 246.8,586.1 247.9,588.5 249.0,588.6 249.3,589.3 250.1,588.8 251.2,586.7 252.2,587.3 252.3,588.2 253.4,584.3 254.5,586.5 255.1,586.4 255.6,586.7 256.7,583.5 257.8,585.5 258.9,585.3 259.0,585.4 260.0,585.6 261.1,585.4 262.0,584.4 262.2,584.1 263.3,583.6 264.4,586.9 264.9,586.4 265.5,588.0 266.6,588.4 266.8,589.3 267.7,585.1 268.8,579.7 268.8,579.5 269.9,575.3 270.7,571.7 271.0,572.6 272.1,576.0 272.7,576.6 273.2,576.2 274.3,582.6 275.4,586.0 275.6,586.4 276.5,588.2 277.6,591.8 278.5,593.2" fill="none" stroke="#00BFC4" stroke-width="1.20" stroke-linejoin="round"/><circle cx="169.8" cy="591.6" r="1.45" fill="#00BFC4"/><circle cx="169.8" cy="592.1" r="1.45" fill="#00BFC4"/><circle cx="170.9" cy="590.7" r="1.45" fill="#00BFC4"/><circle cx="172.0" cy="586.8" r="1.45" fill="#00BFC4"/><circle cx="173.1" cy="588.9" r="1.45" fill="#00BFC4"/><circle cx="173.7" cy="587.2" r="1.45" fill="#00BFC4"/><circle cx="174.2" cy="584.3" r="1.45" fill="#00BFC4"/><circle cx="175.3" cy="583.6" r="1.45" fill="#00BFC4"/><circle cx="176.4" cy="583.2" r="1.45" fill="#00BFC4"/><circle cx="177.5" cy="579.7" r="1.45" fill="#00BFC4"/><circle cx="178.6" cy="576.2" r="1.45" fill="#00BFC4"/><circle cx="178.6" cy="579.4" r="1.45" fill="#00BFC4"/><circle cx="179.7" cy="572.6" r="1.45" fill="#00BFC4"/><circle cx="180.8" cy="572.1" r="1.45" fill="#00BFC4"/><circle cx="181.5" cy="568.7" r="1.45" fill="#00BFC4"/><circle cx="181.9" cy="573.2" r="1.45" fill="#00BFC4"/><circle cx="183.0" cy="573.2" r="1.45" fill="#00BFC4"/><circle cx="183.5" cy="574.6" r="1.45" fill="#00BFC4"/><circle cx="184.1" cy="570.8" r="1.45" fill="#00BFC4"/><circle cx="185.2" cy="574.2" r="1.45" fill="#00BFC4"/><circle cx="186.3" cy="570.9" r="1.45" fill="#00BFC4"/><circle cx="186.4" cy="572.6" r="1.45" fill="#00BFC4"/><circle cx="187.4" cy="570.5" r="1.45" fill="#00BFC4"/><circle cx="188.5" cy="570.2" r="1.45" fill="#00BFC4"/><circle cx="189.3" cy="566.8" r="1.45" fill="#00BFC4"/><circle cx="189.6" cy="564.8" r="1.45" fill="#00BFC4"/><circle cx="190.7" cy="568.2" r="1.45" fill="#00BFC4"/><circle cx="191.8" cy="566.6" r="1.45" fill="#00BFC4"/><circle cx="192.3" cy="569.7" r="1.45" fill="#00BFC4"/><circle cx="192.9" cy="568.8" r="1.45" fill="#00BFC4"/><circle cx="194.0" cy="568.8" r="1.45" fill="#00BFC4"/><circle cx="195.1" cy="564.7" r="1.45" fill="#00BFC4"/><circle cx="196.2" cy="565.8" r="1.45" fill="#00BFC4"/><circle cx="196.2" cy="566.8" r="1.45" fill="#00BFC4"/><circle cx="197.3" cy="564.6" r="1.45" fill="#00BFC4"/><circle cx="198.4" cy="561.9" r="1.45" fill="#00BFC4"/><circle cx="199.1" cy="562.9" r="1.45" fill="#00BFC4"/><circle cx="199.5" cy="554.0" r="1.45" fill="#00BFC4"/><circle cx="200.6" cy="541.1" r="1.45" fill="#00BFC4"/><circle cx="201.0" cy="537.5" r="1.45" fill="#00BFC4"/><circle cx="201.7" cy="537.3" r="1.45" fill="#00BFC4"/><circle cx="202.0" cy="537.5" r="1.45" fill="#00BFC4"/><circle cx="202.8" cy="557.5" r="1.45" fill="#00BFC4"/><circle cx="203.0" cy="562.9" r="1.45" fill="#00BFC4"/><circle cx="203.9" cy="571.2" r="1.45" fill="#00BFC4"/><circle cx="205.0" cy="575.9" r="1.45" fill="#00BFC4"/><circle cx="205.0" cy="578.5" r="1.45" fill="#00BFC4"/><circle cx="205.9" cy="582.4" r="1.45" fill="#00BFC4"/><circle cx="206.1" cy="582.1" r="1.45" fill="#00BFC4"/><circle cx="207.2" cy="580.1" r="1.45" fill="#00BFC4"/><circle cx="207.9" cy="578.5" r="1.45" fill="#00BFC4"/><circle cx="208.3" cy="572.3" r="1.45" fill="#00BFC4"/><circle cx="209.4" cy="552.6" r="1.45" fill="#00BFC4"/><circle cx="209.8" cy="545.3" r="1.45" fill="#00BFC4"/><circle cx="210.5" cy="540.9" r="1.45" fill="#00BFC4"/><circle cx="211.4" cy="537.5" r="1.45" fill="#00BFC4"/><circle cx="211.6" cy="538.7" r="1.45" fill="#00BFC4"/><circle cx="212.7" cy="545.6" r="1.45" fill="#00BFC4"/><circle cx="212.7" cy="545.3" r="1.45" fill="#00BFC4"/><circle cx="213.8" cy="559.1" r="1.45" fill="#00BFC4"/><circle cx="214.3" cy="566.8" r="1.45" fill="#00BFC4"/><circle cx="214.9" cy="569.0" r="1.45" fill="#00BFC4"/><circle cx="216.0" cy="564.1" r="1.45" fill="#00BFC4"/><circle cx="216.6" cy="570.7" r="1.45" fill="#00BFC4"/><circle cx="217.1" cy="570.3" r="1.45" fill="#00BFC4"/><circle cx="218.2" cy="563.3" r="1.45" fill="#00BFC4"/><circle cx="219.3" cy="553.5" r="1.45" fill="#00BFC4"/><circle cx="220.4" cy="548.8" r="1.45" fill="#00BFC4"/><circle cx="220.5" cy="547.3" r="1.45" fill="#00BFC4"/><circle cx="221.5" cy="561.6" r="1.45" fill="#00BFC4"/><circle cx="221.6" cy="563.0" r="1.45" fill="#00BFC4"/><circle cx="222.6" cy="574.0" r="1.45" fill="#00BFC4"/><circle cx="222.9" cy="580.5" r="1.45" fill="#00BFC4"/><circle cx="223.7" cy="582.2" r="1.45" fill="#00BFC4"/><circle cx="224.8" cy="585.7" r="1.45" fill="#00BFC4"/><circle cx="224.9" cy="584.4" r="1.45" fill="#00BFC4"/><circle cx="225.9" cy="582.3" r="1.45" fill="#00BFC4"/><circle cx="226.8" cy="582.5" r="1.45" fill="#00BFC4"/><circle cx="227.0" cy="580.0" r="1.45" fill="#00BFC4"/><circle cx="228.1" cy="573.4" r="1.45" fill="#00BFC4"/><circle cx="228.8" cy="568.8" r="1.45" fill="#00BFC4"/><circle cx="229.2" cy="567.6" r="1.45" fill="#00BFC4"/><circle cx="230.3" cy="563.8" r="1.45" fill="#00BFC4"/><circle cx="230.7" cy="560.0" r="1.45" fill="#00BFC4"/><circle cx="231.4" cy="560.5" r="1.45" fill="#00BFC4"/><circle cx="232.5" cy="566.9" r="1.45" fill="#00BFC4"/><circle cx="232.7" cy="566.8" r="1.45" fill="#00BFC4"/><circle cx="233.6" cy="568.5" r="1.45" fill="#00BFC4"/><circle cx="234.6" cy="569.8" r="1.45" fill="#00BFC4"/><circle cx="234.7" cy="564.2" r="1.45" fill="#00BFC4"/><circle cx="235.8" cy="568.1" r="1.45" fill="#00BFC4"/><circle cx="236.9" cy="568.6" r="1.45" fill="#00BFC4"/><circle cx="237.6" cy="568.8" r="1.45" fill="#00BFC4"/><circle cx="238.0" cy="569.1" r="1.45" fill="#00BFC4"/><circle cx="239.1" cy="570.9" r="1.45" fill="#00BFC4"/><circle cx="239.5" cy="570.8" r="1.45" fill="#00BFC4"/><circle cx="240.2" cy="566.7" r="1.45" fill="#00BFC4"/><circle cx="241.3" cy="576.1" r="1.45" fill="#00BFC4"/><circle cx="241.5" cy="576.6" r="1.45" fill="#00BFC4"/><circle cx="242.4" cy="578.3" r="1.45" fill="#00BFC4"/><circle cx="243.4" cy="584.4" r="1.45" fill="#00BFC4"/><circle cx="243.5" cy="580.2" r="1.45" fill="#00BFC4"/><circle cx="244.6" cy="586.0" r="1.45" fill="#00BFC4"/><circle cx="245.7" cy="587.1" r="1.45" fill="#00BFC4"/><circle cx="246.3" cy="586.4" r="1.45" fill="#00BFC4"/><circle cx="246.8" cy="586.1" r="1.45" fill="#00BFC4"/><circle cx="247.9" cy="588.5" r="1.45" fill="#00BFC4"/><circle cx="249.0" cy="588.6" r="1.45" fill="#00BFC4"/><circle cx="249.3" cy="589.3" r="1.45" fill="#00BFC4"/><circle cx="250.1" cy="588.8" r="1.45" fill="#00BFC4"/><circle cx="251.2" cy="586.7" r="1.45" fill="#00BFC4"/><circle cx="252.2" cy="587.3" r="1.45" fill="#00BFC4"/><circle cx="252.3" cy="588.2" r="1.45" fill="#00BFC4"/><circle cx="253.4" cy="584.3" r="1.45" fill="#00BFC4"/><circle cx="254.5" cy="586.5" r="1.45" fill="#00BFC4"/><circle cx="255.1" cy="586.4" r="1.45" fill="#00BFC4"/><circle cx="255.6" cy="586.7" r="1.45" fill="#00BFC4"/><circle cx="256.7" cy="583.5" r="1.45" fill="#00BFC4"/><circle cx="257.8" cy="585.5" r="1.45" fill="#00BFC4"/><circle cx="258.9" cy="585.3" r="1.45" fill="#00BFC4"/><circle cx="259.0" cy="585.4" r="1.45" fill="#00BFC4"/><circle cx="260.0" cy="585.6" r="1.45" fill="#00BFC4"/><circle cx="261.1" cy="585.4" r="1.45" fill="#00BFC4"/><circle cx="262.0" cy="584.4" r="1.45" fill="#00BFC4"/><circle cx="262.2" cy="584.1" r="1.45" fill="#00BFC4"/><circle cx="263.3" cy="583.6" r="1.45" fill="#00BFC4"/><circle cx="264.4" cy="586.9" r="1.45" fill="#00BFC4"/><circle cx="264.9" cy="586.4" r="1.45" fill="#00BFC4"/><circle cx="265.5" cy="588.0" r="1.45" fill="#00BFC4"/><circle cx="266.6" cy="588.4" r="1.45" fill="#00BFC4"/><circle cx="266.8" cy="589.3" r="1.45" fill="#00BFC4"/><circle cx="267.7" cy="585.1" r="1.45" fill="#00BFC4"/><circle cx="268.8" cy="579.7" r="1.45" fill="#00BFC4"/><circle cx="268.8" cy="579.5" r="1.45" fill="#00BFC4"/><circle cx="269.9" cy="575.3" r="1.45" fill="#00BFC4"/><circle cx="270.7" cy="571.7" r="1.45" fill="#00BFC4"/><circle cx="271.0" cy="572.6" r="1.45" fill="#00BFC4"/><circle cx="272.1" cy="576.0" r="1.45" fill="#00BFC4"/><circle cx="272.7" cy="576.6" r="1.45" fill="#00BFC4"/><circle cx="273.2" cy="576.2" r="1.45" fill="#00BFC4"/><circle cx="274.3" cy="582.6" r="1.45" fill="#00BFC4"/><circle cx="275.4" cy="586.0" r="1.45" fill="#00BFC4"/><circle cx="275.6" cy="586.4" r="1.45" fill="#00BFC4"/><circle cx="276.5" cy="588.2" r="1.45" fill="#00BFC4"/><circle cx="277.6" cy="591.8" r="1.45" fill="#00BFC4"/><circle cx="278.5" cy="593.2" r="1.45" fill="#00BFC4"/><circle cx="169.8" cy="592.1" r="1.45" fill="#00BFC4"/><circle cx="175.8" cy="583.9" r="1.45" fill="#00BFC4"/><circle cx="179.9" cy="574.8" r="1.45" fill="#00BFC4"/><circle cx="182.7" cy="572.3" r="1.45" fill="#00BFC4"/><circle cx="188.3" cy="568.9" r="1.45" fill="#00BFC4"/><circle cx="195.2" cy="567.5" r="1.45" fill="#00BFC4"/><circle cx="199.4" cy="558.8" r="1.45" fill="#00BFC4"/><circle cx="200.2" cy="548.7" r="1.45" fill="#00BFC4"/><circle cx="200.9" cy="538.6" r="1.45" fill="#00BFC4"/><circle cx="202.3" cy="545.5" r="1.45" fill="#00BFC4"/><circle cx="202.7" cy="555.6" r="1.45" fill="#00BFC4"/><circle cx="203.4" cy="565.7" r="1.45" fill="#00BFC4"/><circle cx="204.6" cy="575.7" r="1.45" fill="#00BFC4"/><circle cx="207.4" cy="579.4" r="1.45" fill="#00BFC4"/><circle cx="208.4" cy="569.4" r="1.45" fill="#00BFC4"/><circle cx="209.0" cy="559.3" r="1.45" fill="#00BFC4"/><circle cx="209.6" cy="549.2" r="1.45" fill="#00BFC4"/><circle cx="211.0" cy="539.2" r="1.45" fill="#00BFC4"/><circle cx="212.7" cy="545.8" r="1.45" fill="#00BFC4"/><circle cx="213.5" cy="555.9" r="1.45" fill="#00BFC4"/><circle cx="214.2" cy="565.9" r="1.45" fill="#00BFC4"/><circle cx="217.4" cy="566.0" r="1.45" fill="#00BFC4"/><circle cx="219.0" cy="556.0" r="1.45" fill="#00BFC4"/><circle cx="220.6" cy="548.6" r="1.45" fill="#00BFC4"/><circle cx="221.3" cy="558.7" r="1.45" fill="#00BFC4"/><circle cx="222.0" cy="568.8" r="1.45" fill="#00BFC4"/><circle cx="222.8" cy="578.9" r="1.45" fill="#00BFC4"/><circle cx="227.0" cy="581.1" r="1.45" fill="#00BFC4"/><circle cx="228.5" cy="571.1" r="1.45" fill="#00BFC4"/><circle cx="230.5" cy="561.1" r="1.45" fill="#00BFC4"/><circle cx="233.7" cy="568.4" r="1.45" fill="#00BFC4"/><circle cx="240.3" cy="573.2" r="1.45" fill="#00BFC4"/><circle cx="243.0" cy="582.9" r="1.45" fill="#00BFC4"/><circle cx="250.1" cy="588.8" r="1.45" fill="#00BFC4"/><circle cx="259.4" cy="585.3" r="1.45" fill="#00BFC4"/><circle cx="266.9" cy="588.9" r="1.45" fill="#00BFC4"/><circle cx="268.9" cy="579.0" r="1.45" fill="#00BFC4"/><circle cx="271.7" cy="574.2" r="1.45" fill="#00BFC4"/><circle cx="274.8" cy="583.8" r="1.45" fill="#00BFC4"/><circle cx="278.5" cy="593.2" r="1.45" fill="#00BFC4"/></g><rect x="41.5" y="466.3" width="118.5" height="15.2" fill="#d9d9d9" stroke="#333" stroke-width="1"/><text x="100.8" y="477.2" text-anchor="middle" font-size="8" fill="#1a1a1a">Flight 1</text><rect x="41.5" y="481.5" width="118.5" height="116.7" fill="none" stroke="#333" stroke-width="1"/><rect x="164.5" y="466.3" width="119.0" height="15.2" fill="#d9d9d9" stroke="#333" stroke-width="1"/><text x="224.0" y="477.2" text-anchor="middle" font-size="8" fill="#1a1a1a">Flight 2</text><rect x="164.5" y="481.5" width="119.0" height="116.7" fill="none" stroke="#333" stroke-width="1"/><line x1="38.8" x2="41.5" y1="511.2" y2="511.2" stroke="#333" stroke-width="1"/><text x="37.2" y="514.5" text-anchor="end" font-size="9.6" fill="#4d4d4d" stroke="#4d4d4d" stroke-width="0.12">2300</text><line x1="38.8" x2="41.5" y1="543.4" y2="543.4" stroke="#333" stroke-width="1"/><text x="37.2" y="546.7" text-anchor="end" font-size="9.6" fill="#4d4d4d" stroke="#4d4d4d" stroke-width="0.12">2200</text><line x1="38.8" x2="41.5" y1="575.6" y2="575.6" stroke="#333" stroke-width="1"/><text x="37.2" y="578.9" text-anchor="end" font-size="9.6" fill="#4d4d4d" stroke="#4d4d4d" stroke-width="0.12">2100</text><line x1="79.6" x2="79.6" y1="598.2" y2="600.9" stroke="#333" stroke-width="1"/><text x="79.6" y="609.6" text-anchor="middle" font-size="9.6" fill="#4d4d4d" stroke="#4d4d4d" stroke-width="0.12">09:45</text><line x1="198.6" x2="198.6" y1="598.2" y2="600.9" stroke="#333" stroke-width="1"/><text x="198.6" y="609.6" text-anchor="middle" font-size="9.6" fill="#4d4d4d" stroke="#4d4d4d" stroke-width="0.12">14:15</text><line x1="243.0" x2="243.0" y1="598.2" y2="600.9" stroke="#333" stroke-width="1"/><text x="243.0" y="609.6" text-anchor="middle" font-size="9.6" fill="#4d4d4d" stroke="#4d4d4d" stroke-width="0.12">15:00</text><text transform="translate(8.8,540) rotate(-90)" text-anchor="middle" font-size="9.6" fill="#000" stroke="#000" stroke-width="0.12">CH<tspan font-size="6.5" dy="2">4</tspan><tspan dy="-2"> [ppb]</tspan></text>
<rect x="332.3" y="481.5" width="118.5" height="116.7" fill="#fff"/><line x1="332.3" x2="450.8" y1="591.7" y2="591.7" stroke="#f2f2f2" stroke-width="0.6"/><line x1="332.3" x2="450.8" y1="559.5" y2="559.5" stroke="#f2f2f2" stroke-width="0.6"/><line x1="332.3" x2="450.8" y1="527.3" y2="527.3" stroke="#f2f2f2" stroke-width="0.6"/><line x1="332.3" x2="450.8" y1="495.1" y2="495.1" stroke="#f2f2f2" stroke-width="0.6"/><line x1="417.6" x2="417.6" y1="481.5" y2="598.2" stroke="#f2f2f2" stroke-width="0.6"/><line x1="332.3" x2="450.8" y1="575.6" y2="575.6" stroke="#ebebeb" stroke-width="1"/><line x1="332.3" x2="450.8" y1="543.4" y2="543.4" stroke="#ebebeb" stroke-width="1"/><line x1="332.3" x2="450.8" y1="511.2" y2="511.2" stroke="#ebebeb" stroke-width="1"/><line x1="370.4" x2="370.4" y1="481.5" y2="598.2" stroke="#ebebeb" stroke-width="1"/><rect x="455.3" y="481.5" width="119.0" height="116.7" fill="#fff"/><line x1="455.3" x2="574.3" y1="591.7" y2="591.7" stroke="#f2f2f2" stroke-width="0.6"/><line x1="455.3" x2="574.3" y1="559.5" y2="559.5" stroke="#f2f2f2" stroke-width="0.6"/><line x1="455.3" x2="574.3" y1="527.3" y2="527.3" stroke="#f2f2f2" stroke-width="0.6"/><line x1="455.3" x2="574.3" y1="495.1" y2="495.1" stroke="#f2f2f2" stroke-width="0.6"/><line x1="467.2" x2="467.2" y1="481.5" y2="598.2" stroke="#f2f2f2" stroke-width="0.6"/><line x1="511.6" x2="511.6" y1="481.5" y2="598.2" stroke="#f2f2f2" stroke-width="0.6"/><line x1="556.0" x2="556.0" y1="481.5" y2="598.2" stroke="#f2f2f2" stroke-width="0.6"/><line x1="455.3" x2="574.3" y1="575.6" y2="575.6" stroke="#ebebeb" stroke-width="1"/><line x1="455.3" x2="574.3" y1="543.4" y2="543.4" stroke="#ebebeb" stroke-width="1"/><line x1="455.3" x2="574.3" y1="511.2" y2="511.2" stroke="#ebebeb" stroke-width="1"/><line x1="489.4" x2="489.4" y1="481.5" y2="598.2" stroke="#ebebeb" stroke-width="1"/><line x1="533.8" x2="533.8" y1="481.5" y2="598.2" stroke="#ebebeb" stroke-width="1"/><clipPath id="cl290"><rect x="332.3" y="481.5" width="242.0" height="116.7"/></clipPath><g clip-path="url(#cl290)"><polyline points="337.2,579.7 337.2,578.9 338.1,572.1 338.6,569.3 339.0,565.1 339.4,562.0 339.9,560.9 340.8,562.4 341.6,562.0 341.7,559.6 342.6,560.9 343.1,559.0 343.5,557.4 344.4,556.4 344.5,556.0 345.3,551.1 346.0,547.2 346.2,544.4 346.7,534.7 347.1,532.8 348.0,535.0 348.2,535.4 348.7,525.8 348.9,520.4 349.4,508.1 349.8,526.9 350.0,535.4 350.7,536.4 351.2,539.0 351.6,544.4 351.9,548.7 352.5,554.9 353.4,566.4 353.4,566.4 354.3,569.1 355.2,570.1 355.6,572.3 356.1,573.9 357.0,575.6 357.8,576.7 357.9,576.8 358.8,575.2 359.7,572.2 360.0,572.3 360.6,571.9 361.5,570.6 361.5,571.5 362.4,573.9 363.0,576.0 363.3,575.8 364.2,573.3 365.1,572.1 365.2,572.3 366.0,569.2 366.7,567.8 366.9,566.1 367.8,562.6 368.1,562.0 368.7,554.9 369.6,543.1 369.6,544.2 370.5,536.8 371.1,531.7 371.4,531.3 372.3,527.4 372.6,525.8 373.2,527.2 374.0,529.5 374.1,529.0 375.0,532.8 375.1,534.0 375.9,545.5 376.2,548.7 376.8,552.2 377.7,556.9 377.7,557.5 378.6,560.3 379.2,562.0 379.5,563.6 380.4,564.4 380.7,564.9 381.3,564.6 382.1,563.4 382.2,563.1 383.1,558.1 383.6,556.0 384.0,552.9 384.9,549.3 385.1,548.7 385.8,545.0 386.6,541.3 386.7,541.0 387.6,535.9 388.0,533.2 388.5,530.9 389.2,526.5 389.4,528.2 390.3,535.5 391.2,541.2 391.5,544.3 392.1,552.0 393.0,562.3 393.0,562.0 393.9,563.2 394.8,565.3 395.2,565.7 395.7,565.4 396.6,565.8 397.1,565.0 397.5,558.7 398.1,547.3 398.4,543.4 398.9,534.0 399.3,537.4 400.0,547.3 400.2,546.7 401.1,551.2 401.1,551.7 402.0,539.2 402.1,537.7 402.9,541.5 403.3,542.8 403.8,547.9 404.5,554.7 404.7,553.5 405.6,559.1 406.2,562.0 406.5,563.6 407.4,566.9 407.7,568.0 408.3,565.4 409.2,560.4 409.2,560.6 410.1,558.6 411.0,557.0 411.4,556.1 411.9,554.3 412.8,550.6 413.6,547.3 413.7,546.8 414.6,541.2 415.1,539.1 415.5,538.5 416.4,536.6 416.6,536.2 417.3,536.5 418.2,536.3 418.8,535.5 419.1,534.0 420.0,528.6 420.3,527.3 420.9,537.5 421.0,539.9 421.8,550.9 422.2,556.1 422.7,560.6 423.6,568.2 423.7,569.4 424.5,573.0 424.7,573.9 425.4,567.7 426.2,562.0 426.3,561.5 427.2,552.7 427.7,548.7 428.1,543.2 429.0,529.0 429.1,527.3 429.9,529.6 430.6,531.0 430.8,530.0 431.7,531.5 432.6,532.1 432.8,531.8 433.5,537.4 434.3,545.8 434.4,546.1 435.3,551.2 436.2,554.6 436.5,557.6 437.1,559.4 438.0,562.0 438.7,563.5 438.9,562.8 439.8,564.4 440.7,563.5 441.0,565.0 441.6,566.0 442.5,565.9 443.2,568.7 443.4,569.4 444.3,569.9 445.2,570.4 445.8,571.0" fill="none" stroke="#F8766D" stroke-width="1.30" stroke-linejoin="round"/><circle cx="337.2" cy="579.7" r="1.45" fill="#F8766D"/><circle cx="337.2" cy="578.9" r="1.45" fill="#F8766D"/><circle cx="338.1" cy="572.1" r="1.45" fill="#F8766D"/><circle cx="338.6" cy="569.3" r="1.45" fill="#F8766D"/><circle cx="339.0" cy="565.1" r="1.45" fill="#F8766D"/><circle cx="339.4" cy="562.0" r="1.45" fill="#F8766D"/><circle cx="339.9" cy="560.9" r="1.45" fill="#F8766D"/><circle cx="340.8" cy="562.4" r="1.45" fill="#F8766D"/><circle cx="341.6" cy="562.0" r="1.45" fill="#F8766D"/><circle cx="341.7" cy="559.6" r="1.45" fill="#F8766D"/><circle cx="342.6" cy="560.9" r="1.45" fill="#F8766D"/><circle cx="343.1" cy="559.0" r="1.45" fill="#F8766D"/><circle cx="343.5" cy="557.4" r="1.45" fill="#F8766D"/><circle cx="344.4" cy="556.4" r="1.45" fill="#F8766D"/><circle cx="344.5" cy="556.0" r="1.45" fill="#F8766D"/><circle cx="345.3" cy="551.1" r="1.45" fill="#F8766D"/><circle cx="346.0" cy="547.2" r="1.45" fill="#F8766D"/><circle cx="346.2" cy="544.4" r="1.45" fill="#F8766D"/><circle cx="346.7" cy="534.7" r="1.45" fill="#F8766D"/><circle cx="347.1" cy="532.8" r="1.45" fill="#F8766D"/><circle cx="348.0" cy="535.0" r="1.45" fill="#F8766D"/><circle cx="348.2" cy="535.4" r="1.45" fill="#F8766D"/><circle cx="348.7" cy="525.8" r="1.45" fill="#F8766D"/><circle cx="348.9" cy="520.4" r="1.45" fill="#F8766D"/><circle cx="349.4" cy="508.1" r="1.45" fill="#F8766D"/><circle cx="349.8" cy="526.9" r="1.45" fill="#F8766D"/><circle cx="350.0" cy="535.4" r="1.45" fill="#F8766D"/><circle cx="350.7" cy="536.4" r="1.45" fill="#F8766D"/><circle cx="351.2" cy="539.0" r="1.45" fill="#F8766D"/><circle cx="351.6" cy="544.4" r="1.45" fill="#F8766D"/><circle cx="351.9" cy="548.7" r="1.45" fill="#F8766D"/><circle cx="352.5" cy="554.9" r="1.45" fill="#F8766D"/><circle cx="353.4" cy="566.4" r="1.45" fill="#F8766D"/><circle cx="353.4" cy="566.4" r="1.45" fill="#F8766D"/><circle cx="354.3" cy="569.1" r="1.45" fill="#F8766D"/><circle cx="355.2" cy="570.1" r="1.45" fill="#F8766D"/><circle cx="355.6" cy="572.3" r="1.45" fill="#F8766D"/><circle cx="356.1" cy="573.9" r="1.45" fill="#F8766D"/><circle cx="357.0" cy="575.6" r="1.45" fill="#F8766D"/><circle cx="357.8" cy="576.7" r="1.45" fill="#F8766D"/><circle cx="357.9" cy="576.8" r="1.45" fill="#F8766D"/><circle cx="358.8" cy="575.2" r="1.45" fill="#F8766D"/><circle cx="359.7" cy="572.2" r="1.45" fill="#F8766D"/><circle cx="360.0" cy="572.3" r="1.45" fill="#F8766D"/><circle cx="360.6" cy="571.9" r="1.45" fill="#F8766D"/><circle cx="361.5" cy="570.6" r="1.45" fill="#F8766D"/><circle cx="361.5" cy="571.5" r="1.45" fill="#F8766D"/><circle cx="362.4" cy="573.9" r="1.45" fill="#F8766D"/><circle cx="363.0" cy="576.0" r="1.45" fill="#F8766D"/><circle cx="363.3" cy="575.8" r="1.45" fill="#F8766D"/><circle cx="364.2" cy="573.3" r="1.45" fill="#F8766D"/><circle cx="365.1" cy="572.1" r="1.45" fill="#F8766D"/><circle cx="365.2" cy="572.3" r="1.45" fill="#F8766D"/><circle cx="366.0" cy="569.2" r="1.45" fill="#F8766D"/><circle cx="366.7" cy="567.8" r="1.45" fill="#F8766D"/><circle cx="366.9" cy="566.1" r="1.45" fill="#F8766D"/><circle cx="367.8" cy="562.6" r="1.45" fill="#F8766D"/><circle cx="368.1" cy="562.0" r="1.45" fill="#F8766D"/><circle cx="368.7" cy="554.9" r="1.45" fill="#F8766D"/><circle cx="369.6" cy="543.1" r="1.45" fill="#F8766D"/><circle cx="369.6" cy="544.2" r="1.45" fill="#F8766D"/><circle cx="370.5" cy="536.8" r="1.45" fill="#F8766D"/><circle cx="371.1" cy="531.7" r="1.45" fill="#F8766D"/><circle cx="371.4" cy="531.3" r="1.45" fill="#F8766D"/><circle cx="372.3" cy="527.4" r="1.45" fill="#F8766D"/><circle cx="372.6" cy="525.8" r="1.45" fill="#F8766D"/><circle cx="373.2" cy="527.2" r="1.45" fill="#F8766D"/><circle cx="374.0" cy="529.5" r="1.45" fill="#F8766D"/><circle cx="374.1" cy="529.0" r="1.45" fill="#F8766D"/><circle cx="375.0" cy="532.8" r="1.45" fill="#F8766D"/><circle cx="375.1" cy="534.0" r="1.45" fill="#F8766D"/><circle cx="375.9" cy="545.5" r="1.45" fill="#F8766D"/><circle cx="376.2" cy="548.7" r="1.45" fill="#F8766D"/><circle cx="376.8" cy="552.2" r="1.45" fill="#F8766D"/><circle cx="377.7" cy="556.9" r="1.45" fill="#F8766D"/><circle cx="377.7" cy="557.5" r="1.45" fill="#F8766D"/><circle cx="378.6" cy="560.3" r="1.45" fill="#F8766D"/><circle cx="379.2" cy="562.0" r="1.45" fill="#F8766D"/><circle cx="379.5" cy="563.6" r="1.45" fill="#F8766D"/><circle cx="380.4" cy="564.4" r="1.45" fill="#F8766D"/><circle cx="380.7" cy="564.9" r="1.45" fill="#F8766D"/><circle cx="381.3" cy="564.6" r="1.45" fill="#F8766D"/><circle cx="382.1" cy="563.4" r="1.45" fill="#F8766D"/><circle cx="382.2" cy="563.1" r="1.45" fill="#F8766D"/><circle cx="383.1" cy="558.1" r="1.45" fill="#F8766D"/><circle cx="383.6" cy="556.0" r="1.45" fill="#F8766D"/><circle cx="384.0" cy="552.9" r="1.45" fill="#F8766D"/><circle cx="384.9" cy="549.3" r="1.45" fill="#F8766D"/><circle cx="385.1" cy="548.7" r="1.45" fill="#F8766D"/><circle cx="385.8" cy="545.0" r="1.45" fill="#F8766D"/><circle cx="386.6" cy="541.3" r="1.45" fill="#F8766D"/><circle cx="386.7" cy="541.0" r="1.45" fill="#F8766D"/><circle cx="387.6" cy="535.9" r="1.45" fill="#F8766D"/><circle cx="388.0" cy="533.2" r="1.45" fill="#F8766D"/><circle cx="388.5" cy="530.9" r="1.45" fill="#F8766D"/><circle cx="389.2" cy="526.5" r="1.45" fill="#F8766D"/><circle cx="389.4" cy="528.2" r="1.45" fill="#F8766D"/><circle cx="390.3" cy="535.5" r="1.45" fill="#F8766D"/><circle cx="391.2" cy="541.2" r="1.45" fill="#F8766D"/><circle cx="391.5" cy="544.3" r="1.45" fill="#F8766D"/><circle cx="392.1" cy="552.0" r="1.45" fill="#F8766D"/><circle cx="393.0" cy="562.3" r="1.45" fill="#F8766D"/><circle cx="393.0" cy="562.0" r="1.45" fill="#F8766D"/><circle cx="393.9" cy="563.2" r="1.45" fill="#F8766D"/><circle cx="394.8" cy="565.3" r="1.45" fill="#F8766D"/><circle cx="395.2" cy="565.7" r="1.45" fill="#F8766D"/><circle cx="395.7" cy="565.4" r="1.45" fill="#F8766D"/><circle cx="396.6" cy="565.8" r="1.45" fill="#F8766D"/><circle cx="397.1" cy="565.0" r="1.45" fill="#F8766D"/><circle cx="397.5" cy="558.7" r="1.45" fill="#F8766D"/><circle cx="398.1" cy="547.3" r="1.45" fill="#F8766D"/><circle cx="398.4" cy="543.4" r="1.45" fill="#F8766D"/><circle cx="398.9" cy="534.0" r="1.45" fill="#F8766D"/><circle cx="399.3" cy="537.4" r="1.45" fill="#F8766D"/><circle cx="400.0" cy="547.3" r="1.45" fill="#F8766D"/><circle cx="400.2" cy="546.7" r="1.45" fill="#F8766D"/><circle cx="401.1" cy="551.2" r="1.45" fill="#F8766D"/><circle cx="401.1" cy="551.7" r="1.45" fill="#F8766D"/><circle cx="402.0" cy="539.2" r="1.45" fill="#F8766D"/><circle cx="402.1" cy="537.7" r="1.45" fill="#F8766D"/><circle cx="402.9" cy="541.5" r="1.45" fill="#F8766D"/><circle cx="403.3" cy="542.8" r="1.45" fill="#F8766D"/><circle cx="403.8" cy="547.9" r="1.45" fill="#F8766D"/><circle cx="404.5" cy="554.7" r="1.45" fill="#F8766D"/><circle cx="404.7" cy="553.5" r="1.45" fill="#F8766D"/><circle cx="405.6" cy="559.1" r="1.45" fill="#F8766D"/><circle cx="406.2" cy="562.0" r="1.45" fill="#F8766D"/><circle cx="406.5" cy="563.6" r="1.45" fill="#F8766D"/><circle cx="407.4" cy="566.9" r="1.45" fill="#F8766D"/><circle cx="407.7" cy="568.0" r="1.45" fill="#F8766D"/><circle cx="408.3" cy="565.4" r="1.45" fill="#F8766D"/><circle cx="409.2" cy="560.4" r="1.45" fill="#F8766D"/><circle cx="409.2" cy="560.6" r="1.45" fill="#F8766D"/><circle cx="410.1" cy="558.6" r="1.45" fill="#F8766D"/><circle cx="411.0" cy="557.0" r="1.45" fill="#F8766D"/><circle cx="411.4" cy="556.1" r="1.45" fill="#F8766D"/><circle cx="411.9" cy="554.3" r="1.45" fill="#F8766D"/><circle cx="412.8" cy="550.6" r="1.45" fill="#F8766D"/><circle cx="413.6" cy="547.3" r="1.45" fill="#F8766D"/><circle cx="413.7" cy="546.8" r="1.45" fill="#F8766D"/><circle cx="414.6" cy="541.2" r="1.45" fill="#F8766D"/><circle cx="415.1" cy="539.1" r="1.45" fill="#F8766D"/><circle cx="415.5" cy="538.5" r="1.45" fill="#F8766D"/><circle cx="416.4" cy="536.6" r="1.45" fill="#F8766D"/><circle cx="416.6" cy="536.2" r="1.45" fill="#F8766D"/><circle cx="417.3" cy="536.5" r="1.45" fill="#F8766D"/><circle cx="418.2" cy="536.3" r="1.45" fill="#F8766D"/><circle cx="418.8" cy="535.5" r="1.45" fill="#F8766D"/><circle cx="419.1" cy="534.0" r="1.45" fill="#F8766D"/><circle cx="420.0" cy="528.6" r="1.45" fill="#F8766D"/><circle cx="420.3" cy="527.3" r="1.45" fill="#F8766D"/><circle cx="420.9" cy="537.5" r="1.45" fill="#F8766D"/><circle cx="421.0" cy="539.9" r="1.45" fill="#F8766D"/><circle cx="421.8" cy="550.9" r="1.45" fill="#F8766D"/><circle cx="422.2" cy="556.1" r="1.45" fill="#F8766D"/><circle cx="422.7" cy="560.6" r="1.45" fill="#F8766D"/><circle cx="423.6" cy="568.2" r="1.45" fill="#F8766D"/><circle cx="423.7" cy="569.4" r="1.45" fill="#F8766D"/><circle cx="424.5" cy="573.0" r="1.45" fill="#F8766D"/><circle cx="424.7" cy="573.9" r="1.45" fill="#F8766D"/><circle cx="425.4" cy="567.7" r="1.45" fill="#F8766D"/><circle cx="426.2" cy="562.0" r="1.45" fill="#F8766D"/><circle cx="426.3" cy="561.5" r="1.45" fill="#F8766D"/><circle cx="427.2" cy="552.7" r="1.45" fill="#F8766D"/><circle cx="427.7" cy="548.7" r="1.45" fill="#F8766D"/><circle cx="428.1" cy="543.2" r="1.45" fill="#F8766D"/><circle cx="429.0" cy="529.0" r="1.45" fill="#F8766D"/><circle cx="429.1" cy="527.3" r="1.45" fill="#F8766D"/><circle cx="429.9" cy="529.6" r="1.45" fill="#F8766D"/><circle cx="430.6" cy="531.0" r="1.45" fill="#F8766D"/><circle cx="430.8" cy="530.0" r="1.45" fill="#F8766D"/><circle cx="431.7" cy="531.5" r="1.45" fill="#F8766D"/><circle cx="432.6" cy="532.1" r="1.45" fill="#F8766D"/><circle cx="432.8" cy="531.8" r="1.45" fill="#F8766D"/><circle cx="433.5" cy="537.4" r="1.45" fill="#F8766D"/><circle cx="434.3" cy="545.8" r="1.45" fill="#F8766D"/><circle cx="434.4" cy="546.1" r="1.45" fill="#F8766D"/><circle cx="435.3" cy="551.2" r="1.45" fill="#F8766D"/><circle cx="436.2" cy="554.6" r="1.45" fill="#F8766D"/><circle cx="436.5" cy="557.6" r="1.45" fill="#F8766D"/><circle cx="437.1" cy="559.4" r="1.45" fill="#F8766D"/><circle cx="438.0" cy="562.0" r="1.45" fill="#F8766D"/><circle cx="438.7" cy="563.5" r="1.45" fill="#F8766D"/><circle cx="438.9" cy="562.8" r="1.45" fill="#F8766D"/><circle cx="439.8" cy="564.4" r="1.45" fill="#F8766D"/><circle cx="440.7" cy="563.5" r="1.45" fill="#F8766D"/><circle cx="441.0" cy="565.0" r="1.45" fill="#F8766D"/><circle cx="441.6" cy="566.0" r="1.45" fill="#F8766D"/><circle cx="442.5" cy="565.9" r="1.45" fill="#F8766D"/><circle cx="443.2" cy="568.7" r="1.45" fill="#F8766D"/><circle cx="443.4" cy="569.4" r="1.45" fill="#F8766D"/><circle cx="444.3" cy="569.9" r="1.45" fill="#F8766D"/><circle cx="445.2" cy="570.4" r="1.45" fill="#F8766D"/><circle cx="445.8" cy="571.0" r="1.45" fill="#F8766D"/><circle cx="337.2" cy="578.9" r="1.45" fill="#F8766D"/><circle cx="340.9" cy="562.0" r="1.45" fill="#F8766D"/><circle cx="346.1" cy="545.0" r="1.45" fill="#F8766D"/><circle cx="348.5" cy="528.8" r="1.45" fill="#F8766D"/><circle cx="349.3" cy="510.3" r="1.45" fill="#F8766D"/><circle cx="349.8" cy="524.4" r="1.45" fill="#F8766D"/><circle cx="351.5" cy="542.8" r="1.45" fill="#F8766D"/><circle cx="353.0" cy="561.2" r="1.45" fill="#F8766D"/><circle cx="358.8" cy="574.8" r="1.45" fill="#F8766D"/><circle cx="366.8" cy="567.6" r="1.45" fill="#F8766D"/><circle cx="369.2" cy="549.2" r="1.45" fill="#F8766D"/><circle cx="371.3" cy="530.8" r="1.45" fill="#F8766D"/><circle cx="375.5" cy="538.8" r="1.45" fill="#F8766D"/><circle cx="377.6" cy="557.1" r="1.45" fill="#F8766D"/><circle cx="383.7" cy="555.5" r="1.45" fill="#F8766D"/><circle cx="387.3" cy="537.3" r="1.45" fill="#F8766D"/><circle cx="390.2" cy="534.0" r="1.45" fill="#F8766D"/><circle cx="392.2" cy="552.5" r="1.45" fill="#F8766D"/><circle cx="397.2" cy="562.4" r="1.45" fill="#F8766D"/><circle cx="398.3" cy="543.9" r="1.45" fill="#F8766D"/><circle cx="399.6" cy="542.6" r="1.45" fill="#F8766D"/><circle cx="401.8" cy="542.4" r="1.45" fill="#F8766D"/><circle cx="404.2" cy="551.3" r="1.45" fill="#F8766D"/><circle cx="408.0" cy="566.6" r="1.45" fill="#F8766D"/><circle cx="413.2" cy="548.9" r="1.45" fill="#F8766D"/><circle cx="419.3" cy="532.6" r="1.45" fill="#F8766D"/><circle cx="421.0" cy="540.5" r="1.45" fill="#F8766D"/><circle cx="422.5" cy="558.9" r="1.45" fill="#F8766D"/><circle cx="425.1" cy="570.5" r="1.45" fill="#F8766D"/><circle cx="427.3" cy="552.1" r="1.45" fill="#F8766D"/><circle cx="428.7" cy="533.7" r="1.45" fill="#F8766D"/><circle cx="433.4" cy="537.6" r="1.45" fill="#F8766D"/><circle cx="436.2" cy="555.9" r="1.45" fill="#F8766D"/><circle cx="445.8" cy="571.0" r="1.45" fill="#F8766D"/><polyline points="460.6,590.3 460.6,591.1 461.7,590.3 462.8,585.4 463.6,589.2 463.9,590.5 465.0,584.2 466.1,585.0 466.5,586.3 467.2,584.9 468.3,579.0 469.4,578.5 469.4,573.2 470.5,569.0 471.6,570.0 472.0,566.8 472.7,574.4 473.3,570.7 473.8,571.3 474.9,566.6 475.3,572.6 476.0,572.9 477.1,566.9 477.2,569.7 478.2,567.3 479.3,567.7 480.1,562.9 480.4,560.0 481.5,567.0 482.1,568.7 482.6,563.3 483.7,564.7 484.8,563.9 485.0,562.9 485.9,557.1 487.0,561.0 487.0,559.3 488.1,563.2 488.9,566.8 489.2,562.4 490.3,555.1 490.8,559.0 491.4,532.8 491.8,520.0 492.4,486.8 492.5,491.0 493.0,514.1 493.6,532.6 493.8,539.5 494.7,558.4 495.8,576.5 495.8,572.1 496.9,581.1 497.7,584.3 498.0,584.3 499.1,583.9 499.2,582.4 500.2,566.2 500.6,559.0 501.3,536.8 501.6,529.7 502.4,518.0 502.6,515.1 503.5,539.5 503.5,540.0 504.6,554.0 505.1,562.9 505.7,563.2 506.5,559.0 506.8,550.9 507.9,569.1 508.4,566.8 509.0,565.6 510.1,551.4 511.2,545.7 511.3,543.4 511.8,545.4 512.3,555.3 512.8,565.0 513.4,572.5 513.8,584.4 514.5,584.6 515.6,586.9 515.7,584.4 516.7,579.4 517.6,578.6 517.8,575.2 518.9,568.1 519.6,563.0 520.0,560.2 520.9,550.3 521.1,555.6 522.1,563.0 522.2,560.2 523.3,569.0 524.1,570.8 524.4,568.4 525.4,558.0 525.5,549.9 526.6,570.2 526.8,574.7 527.7,568.6 528.4,565.0 528.8,564.8 529.9,565.8 530.3,565.0 531.0,551.3 531.3,560.0 532.1,568.5 532.7,574.7 533.2,575.2 534.2,586.4 534.3,578.9 535.4,584.2 536.2,580.5 536.5,581.4 537.6,574.9 538.1,574.7 538.7,579.2 539.7,584.4 539.8,584.0 540.9,589.4 541.6,592.2 542.0,589.5 543.1,592.0 544.0,589.3 544.2,584.7 545.3,587.7 545.9,587.3 546.4,587.8 547.5,582.7 548.6,586.1 548.8,586.4 549.7,585.9 550.8,586.6 551.8,585.4 551.9,586.6 553.0,583.8 554.1,581.0 554.7,583.4 555.2,585.5 556.3,587.0 556.7,586.4 557.4,581.9 558.5,577.5 558.6,576.6 559.6,578.0 560.6,578.6 560.7,578.0 561.5,567.8 561.8,569.7 562.9,576.9 563.1,576.6 564.0,575.0 565.0,580.5 565.1,581.6 566.2,582.1 567.0,582.5 567.3,583.3 568.4,589.4 568.9,590.3" fill="none" stroke="#F8766D" stroke-width="1.35" stroke-linejoin="round"/><circle cx="460.6" cy="590.3" r="1.50" fill="#F8766D"/><circle cx="460.6" cy="591.1" r="1.50" fill="#F8766D"/><circle cx="461.7" cy="590.3" r="1.50" fill="#F8766D"/><circle cx="462.8" cy="585.4" r="1.50" fill="#F8766D"/><circle cx="463.6" cy="589.2" r="1.50" fill="#F8766D"/><circle cx="463.9" cy="590.5" r="1.50" fill="#F8766D"/><circle cx="465.0" cy="584.2" r="1.50" fill="#F8766D"/><circle cx="466.1" cy="585.0" r="1.50" fill="#F8766D"/><circle cx="466.5" cy="586.3" r="1.50" fill="#F8766D"/><circle cx="467.2" cy="584.9" r="1.50" fill="#F8766D"/><circle cx="468.3" cy="579.0" r="1.50" fill="#F8766D"/><circle cx="469.4" cy="578.5" r="1.50" fill="#F8766D"/><circle cx="469.4" cy="573.2" r="1.50" fill="#F8766D"/><circle cx="470.5" cy="569.0" r="1.50" fill="#F8766D"/><circle cx="471.6" cy="570.0" r="1.50" fill="#F8766D"/><circle cx="472.0" cy="566.8" r="1.50" fill="#F8766D"/><circle cx="472.7" cy="574.4" r="1.50" fill="#F8766D"/><circle cx="473.3" cy="570.7" r="1.50" fill="#F8766D"/><circle cx="473.8" cy="571.3" r="1.50" fill="#F8766D"/><circle cx="474.9" cy="566.6" r="1.50" fill="#F8766D"/><circle cx="475.3" cy="572.6" r="1.50" fill="#F8766D"/><circle cx="476.0" cy="572.9" r="1.50" fill="#F8766D"/><circle cx="477.1" cy="566.9" r="1.50" fill="#F8766D"/><circle cx="477.2" cy="569.7" r="1.50" fill="#F8766D"/><circle cx="478.2" cy="567.3" r="1.50" fill="#F8766D"/><circle cx="479.3" cy="567.7" r="1.50" fill="#F8766D"/><circle cx="480.1" cy="562.9" r="1.50" fill="#F8766D"/><circle cx="480.4" cy="560.0" r="1.50" fill="#F8766D"/><circle cx="481.5" cy="567.0" r="1.50" fill="#F8766D"/><circle cx="482.1" cy="568.7" r="1.50" fill="#F8766D"/><circle cx="482.6" cy="563.3" r="1.50" fill="#F8766D"/><circle cx="483.7" cy="564.7" r="1.50" fill="#F8766D"/><circle cx="484.8" cy="563.9" r="1.50" fill="#F8766D"/><circle cx="485.0" cy="562.9" r="1.50" fill="#F8766D"/><circle cx="485.9" cy="557.1" r="1.50" fill="#F8766D"/><circle cx="487.0" cy="561.0" r="1.50" fill="#F8766D"/><circle cx="487.0" cy="559.3" r="1.50" fill="#F8766D"/><circle cx="488.1" cy="563.2" r="1.50" fill="#F8766D"/><circle cx="488.9" cy="566.8" r="1.50" fill="#F8766D"/><circle cx="489.2" cy="562.4" r="1.50" fill="#F8766D"/><circle cx="490.3" cy="555.1" r="1.50" fill="#F8766D"/><circle cx="490.8" cy="559.0" r="1.50" fill="#F8766D"/><circle cx="491.4" cy="532.8" r="1.50" fill="#F8766D"/><circle cx="491.8" cy="520.0" r="1.50" fill="#F8766D"/><circle cx="492.4" cy="486.8" r="1.50" fill="#F8766D"/><circle cx="492.5" cy="491.0" r="1.50" fill="#F8766D"/><circle cx="493.0" cy="514.1" r="1.50" fill="#F8766D"/><circle cx="493.6" cy="532.6" r="1.50" fill="#F8766D"/><circle cx="493.8" cy="539.5" r="1.50" fill="#F8766D"/><circle cx="494.7" cy="558.4" r="1.50" fill="#F8766D"/><circle cx="495.8" cy="576.5" r="1.50" fill="#F8766D"/><circle cx="495.8" cy="572.1" r="1.50" fill="#F8766D"/><circle cx="496.9" cy="581.1" r="1.50" fill="#F8766D"/><circle cx="497.7" cy="584.3" r="1.50" fill="#F8766D"/><circle cx="498.0" cy="584.3" r="1.50" fill="#F8766D"/><circle cx="499.1" cy="583.9" r="1.50" fill="#F8766D"/><circle cx="499.2" cy="582.4" r="1.50" fill="#F8766D"/><circle cx="500.2" cy="566.2" r="1.50" fill="#F8766D"/><circle cx="500.6" cy="559.0" r="1.50" fill="#F8766D"/><circle cx="501.3" cy="536.8" r="1.50" fill="#F8766D"/><circle cx="501.6" cy="529.7" r="1.50" fill="#F8766D"/><circle cx="502.4" cy="518.0" r="1.50" fill="#F8766D"/><circle cx="502.6" cy="515.1" r="1.50" fill="#F8766D"/><circle cx="503.5" cy="539.5" r="1.50" fill="#F8766D"/><circle cx="503.5" cy="540.0" r="1.50" fill="#F8766D"/><circle cx="504.6" cy="554.0" r="1.50" fill="#F8766D"/><circle cx="505.1" cy="562.9" r="1.50" fill="#F8766D"/><circle cx="505.7" cy="563.2" r="1.50" fill="#F8766D"/><circle cx="506.5" cy="559.0" r="1.50" fill="#F8766D"/><circle cx="506.8" cy="550.9" r="1.50" fill="#F8766D"/><circle cx="507.9" cy="569.1" r="1.50" fill="#F8766D"/><circle cx="508.4" cy="566.8" r="1.50" fill="#F8766D"/><circle cx="509.0" cy="565.6" r="1.50" fill="#F8766D"/><circle cx="510.1" cy="551.4" r="1.50" fill="#F8766D"/><circle cx="511.2" cy="545.7" r="1.50" fill="#F8766D"/><circle cx="511.3" cy="543.4" r="1.50" fill="#F8766D"/><circle cx="511.8" cy="545.4" r="1.50" fill="#F8766D"/><circle cx="512.3" cy="555.3" r="1.50" fill="#F8766D"/><circle cx="512.8" cy="565.0" r="1.50" fill="#F8766D"/><circle cx="513.4" cy="572.5" r="1.50" fill="#F8766D"/><circle cx="513.8" cy="584.4" r="1.50" fill="#F8766D"/><circle cx="514.5" cy="584.6" r="1.50" fill="#F8766D"/><circle cx="515.6" cy="586.9" r="1.50" fill="#F8766D"/><circle cx="515.7" cy="584.4" r="1.50" fill="#F8766D"/><circle cx="516.7" cy="579.4" r="1.50" fill="#F8766D"/><circle cx="517.6" cy="578.6" r="1.50" fill="#F8766D"/><circle cx="517.8" cy="575.2" r="1.50" fill="#F8766D"/><circle cx="518.9" cy="568.1" r="1.50" fill="#F8766D"/><circle cx="519.6" cy="563.0" r="1.50" fill="#F8766D"/><circle cx="520.0" cy="560.2" r="1.50" fill="#F8766D"/><circle cx="520.9" cy="550.3" r="1.50" fill="#F8766D"/><circle cx="521.1" cy="555.6" r="1.50" fill="#F8766D"/><circle cx="522.1" cy="563.0" r="1.50" fill="#F8766D"/><circle cx="522.2" cy="560.2" r="1.50" fill="#F8766D"/><circle cx="523.3" cy="569.0" r="1.50" fill="#F8766D"/><circle cx="524.1" cy="570.8" r="1.50" fill="#F8766D"/><circle cx="524.4" cy="568.4" r="1.50" fill="#F8766D"/><circle cx="525.4" cy="558.0" r="1.50" fill="#F8766D"/><circle cx="525.5" cy="549.9" r="1.50" fill="#F8766D"/><circle cx="526.6" cy="570.2" r="1.50" fill="#F8766D"/><circle cx="526.8" cy="574.7" r="1.50" fill="#F8766D"/><circle cx="527.7" cy="568.6" r="1.50" fill="#F8766D"/><circle cx="528.4" cy="565.0" r="1.50" fill="#F8766D"/><circle cx="528.8" cy="564.8" r="1.50" fill="#F8766D"/><circle cx="529.9" cy="565.8" r="1.50" fill="#F8766D"/><circle cx="530.3" cy="565.0" r="1.50" fill="#F8766D"/><circle cx="531.0" cy="551.3" r="1.50" fill="#F8766D"/><circle cx="531.3" cy="560.0" r="1.50" fill="#F8766D"/><circle cx="532.1" cy="568.5" r="1.50" fill="#F8766D"/><circle cx="532.7" cy="574.7" r="1.50" fill="#F8766D"/><circle cx="533.2" cy="575.2" r="1.50" fill="#F8766D"/><circle cx="534.2" cy="586.4" r="1.50" fill="#F8766D"/><circle cx="534.3" cy="578.9" r="1.50" fill="#F8766D"/><circle cx="535.4" cy="584.2" r="1.50" fill="#F8766D"/><circle cx="536.2" cy="580.5" r="1.50" fill="#F8766D"/><circle cx="536.5" cy="581.4" r="1.50" fill="#F8766D"/><circle cx="537.6" cy="574.9" r="1.50" fill="#F8766D"/><circle cx="538.1" cy="574.7" r="1.50" fill="#F8766D"/><circle cx="538.7" cy="579.2" r="1.50" fill="#F8766D"/><circle cx="539.7" cy="584.4" r="1.50" fill="#F8766D"/><circle cx="539.8" cy="584.0" r="1.50" fill="#F8766D"/><circle cx="540.9" cy="589.4" r="1.50" fill="#F8766D"/><circle cx="541.6" cy="592.2" r="1.50" fill="#F8766D"/><circle cx="542.0" cy="589.5" r="1.50" fill="#F8766D"/><circle cx="543.1" cy="592.0" r="1.50" fill="#F8766D"/><circle cx="544.0" cy="589.3" r="1.50" fill="#F8766D"/><circle cx="544.2" cy="584.7" r="1.50" fill="#F8766D"/><circle cx="545.3" cy="587.7" r="1.50" fill="#F8766D"/><circle cx="545.9" cy="587.3" r="1.50" fill="#F8766D"/><circle cx="546.4" cy="587.8" r="1.50" fill="#F8766D"/><circle cx="547.5" cy="582.7" r="1.50" fill="#F8766D"/><circle cx="548.6" cy="586.1" r="1.50" fill="#F8766D"/><circle cx="548.8" cy="586.4" r="1.50" fill="#F8766D"/><circle cx="549.7" cy="585.9" r="1.50" fill="#F8766D"/><circle cx="550.8" cy="586.6" r="1.50" fill="#F8766D"/><circle cx="551.8" cy="585.4" r="1.50" fill="#F8766D"/><circle cx="551.9" cy="586.6" r="1.50" fill="#F8766D"/><circle cx="553.0" cy="583.8" r="1.50" fill="#F8766D"/><circle cx="554.1" cy="581.0" r="1.50" fill="#F8766D"/><circle cx="554.7" cy="583.4" r="1.50" fill="#F8766D"/><circle cx="555.2" cy="585.5" r="1.50" fill="#F8766D"/><circle cx="556.3" cy="587.0" r="1.50" fill="#F8766D"/><circle cx="556.7" cy="586.4" r="1.50" fill="#F8766D"/><circle cx="557.4" cy="581.9" r="1.50" fill="#F8766D"/><circle cx="558.5" cy="577.5" r="1.50" fill="#F8766D"/><circle cx="558.6" cy="576.6" r="1.50" fill="#F8766D"/><circle cx="559.6" cy="578.0" r="1.50" fill="#F8766D"/><circle cx="560.6" cy="578.6" r="1.50" fill="#F8766D"/><circle cx="560.7" cy="578.0" r="1.50" fill="#F8766D"/><circle cx="561.5" cy="567.8" r="1.50" fill="#F8766D"/><circle cx="561.8" cy="569.7" r="1.50" fill="#F8766D"/><circle cx="562.9" cy="576.9" r="1.50" fill="#F8766D"/><circle cx="563.1" cy="576.6" r="1.50" fill="#F8766D"/><circle cx="564.0" cy="575.0" r="1.50" fill="#F8766D"/><circle cx="565.0" cy="580.5" r="1.50" fill="#F8766D"/><circle cx="565.1" cy="581.6" r="1.50" fill="#F8766D"/><circle cx="566.2" cy="582.1" r="1.50" fill="#F8766D"/><circle cx="567.0" cy="582.5" r="1.50" fill="#F8766D"/><circle cx="567.3" cy="583.3" r="1.50" fill="#F8766D"/><circle cx="568.4" cy="589.4" r="1.50" fill="#F8766D"/><circle cx="568.9" cy="590.3" r="1.50" fill="#F8766D"/><circle cx="460.6" cy="591.1" r="1.50" fill="#F8766D"/><circle cx="469.5" cy="578.2" r="1.50" fill="#F8766D"/><circle cx="473.7" cy="571.1" r="1.50" fill="#F8766D"/><circle cx="481.1" cy="565.9" r="1.50" fill="#F8766D"/><circle cx="488.3" cy="564.9" r="1.50" fill="#F8766D"/><circle cx="491.0" cy="552.7" r="1.50" fill="#F8766D"/><circle cx="491.4" cy="536.5" r="1.50" fill="#F8766D"/><circle cx="491.8" cy="520.2" r="1.50" fill="#F8766D"/><circle cx="492.1" cy="503.9" r="1.50" fill="#F8766D"/><circle cx="492.4" cy="487.6" r="1.50" fill="#F8766D"/><circle cx="492.7" cy="502.3" r="1.50" fill="#F8766D"/><circle cx="493.1" cy="518.6" r="1.50" fill="#F8766D"/><circle cx="493.7" cy="534.9" r="1.50" fill="#F8766D"/><circle cx="494.4" cy="551.1" r="1.50" fill="#F8766D"/><circle cx="495.3" cy="567.4" r="1.50" fill="#F8766D"/><circle cx="497.5" cy="583.5" r="1.50" fill="#F8766D"/><circle cx="500.0" cy="569.4" r="1.50" fill="#F8766D"/><circle cx="500.8" cy="553.1" r="1.50" fill="#F8766D"/><circle cx="501.4" cy="536.9" r="1.50" fill="#F8766D"/><circle cx="502.2" cy="520.6" r="1.50" fill="#F8766D"/><circle cx="503.0" cy="525.9" r="1.50" fill="#F8766D"/><circle cx="503.7" cy="542.2" r="1.50" fill="#F8766D"/><circle cx="504.8" cy="558.4" r="1.50" fill="#F8766D"/><circle cx="508.3" cy="566.4" r="1.50" fill="#F8766D"/><circle cx="510.4" cy="551.0" r="1.50" fill="#F8766D"/><circle cx="512.1" cy="551.9" r="1.50" fill="#F8766D"/><circle cx="513.0" cy="568.2" r="1.50" fill="#F8766D"/><circle cx="513.9" cy="584.4" r="1.50" fill="#F8766D"/><circle cx="518.7" cy="570.3" r="1.50" fill="#F8766D"/><circle cx="520.5" cy="554.1" r="1.50" fill="#F8766D"/><circle cx="522.1" cy="562.7" r="1.50" fill="#F8766D"/><circle cx="524.9" cy="562.9" r="1.50" fill="#F8766D"/><circle cx="526.3" cy="569.3" r="1.50" fill="#F8766D"/><circle cx="529.5" cy="565.0" r="1.50" fill="#F8766D"/><circle cx="532.3" cy="570.3" r="1.50" fill="#F8766D"/><circle cx="534.2" cy="586.3" r="1.50" fill="#F8766D"/><circle cx="538.8" cy="578.7" r="1.50" fill="#F8766D"/><circle cx="543.2" cy="590.3" r="1.50" fill="#F8766D"/><circle cx="556.1" cy="585.5" r="1.50" fill="#F8766D"/><circle cx="560.8" cy="576.2" r="1.50" fill="#F8766D"/><circle cx="562.9" cy="575.5" r="1.50" fill="#F8766D"/><circle cx="568.9" cy="590.3" r="1.50" fill="#F8766D"/><polyline points="337.1,576.4 342.3,575.9 347.6,576.9 352.8,577.6 359.8,576.9 366.0,575.9 372.1,576.9 377.3,576.4 384.3,577.3 389.6,577.8 396.6,577.6 403.6,576.6 408.8,576.4 415.8,577.3 422.8,577.8 429.8,577.3 436.8,576.2 443.0,575.9 446.3,575.9" fill="none" stroke="#000" stroke-width="1.7" stroke-dasharray="6 5.4"/><polyline points="460.6,593.0 470.8,589.0 480.8,586.0 490.8,584.5 500.8,585.5 512.8,587.3 526.8,589.6 546.8,591.8 569.3,593.4" fill="none" stroke="#000" stroke-width="1.7" stroke-dasharray="6 5.4"/><polyline points="337.2,572.3 339.4,564.9 341.6,559.0 343.8,556.0 346.7,553.8 349.0,550.9 351.2,548.0 353.4,547.2 355.6,548.7 357.8,550.9 360.0,555.3 361.5,550.9 363.0,545.7 365.2,544.2 367.4,545.0 370.3,546.5 372.6,545.0 374.8,545.7 377.0,547.2 379.2,553.1 380.7,559.0 382.1,556.0 384.4,558.3 387.3,556.8 390.3,555.3 392.2,556.1 394.4,559.0 397.4,559.8 400.3,559.4 403.3,559.0 406.2,559.8 409.2,561.3 410.7,556.1 412.2,550.2 414.4,548.0 416.6,549.5 418.8,551.0 421.0,550.2 423.2,551.0 425.5,551.0 428.4,549.5 431.4,548.7 434.3,549.5 437.3,550.2 440.2,553.2 442.4,556.9 443.9,562.0 445.8,564.3" fill="none" stroke="#00BFC4" stroke-width="2.20" stroke-linejoin="round"/><circle cx="337.2" cy="572.3" r="1.50" fill="#00BFC4"/><circle cx="338.1" cy="569.3" r="1.50" fill="#00BFC4"/><circle cx="339.0" cy="566.2" r="1.50" fill="#00BFC4"/><circle cx="339.9" cy="563.6" r="1.50" fill="#00BFC4"/><circle cx="340.8" cy="561.1" r="1.50" fill="#00BFC4"/><circle cx="341.7" cy="558.9" r="1.50" fill="#00BFC4"/><circle cx="342.6" cy="557.6" r="1.50" fill="#00BFC4"/><circle cx="343.5" cy="556.4" r="1.50" fill="#00BFC4"/><circle cx="344.4" cy="555.5" r="1.50" fill="#00BFC4"/><circle cx="345.3" cy="554.9" r="1.50" fill="#00BFC4"/><circle cx="346.2" cy="554.2" r="1.50" fill="#00BFC4"/><circle cx="347.1" cy="553.3" r="1.50" fill="#00BFC4"/><circle cx="348.0" cy="552.2" r="1.50" fill="#00BFC4"/><circle cx="348.9" cy="551.0" r="1.50" fill="#00BFC4"/><circle cx="349.8" cy="549.8" r="1.50" fill="#00BFC4"/><circle cx="350.7" cy="548.7" r="1.50" fill="#00BFC4"/><circle cx="351.6" cy="547.9" r="1.50" fill="#00BFC4"/><circle cx="352.5" cy="547.5" r="1.50" fill="#00BFC4"/><circle cx="353.4" cy="547.2" r="1.50" fill="#00BFC4"/><circle cx="354.3" cy="547.8" r="1.50" fill="#00BFC4"/><circle cx="355.2" cy="548.4" r="1.50" fill="#00BFC4"/><circle cx="356.1" cy="549.2" r="1.50" fill="#00BFC4"/><circle cx="357.0" cy="550.1" r="1.50" fill="#00BFC4"/><circle cx="357.9" cy="551.1" r="1.50" fill="#00BFC4"/><circle cx="358.8" cy="552.9" r="1.50" fill="#00BFC4"/><circle cx="359.7" cy="554.7" r="1.50" fill="#00BFC4"/><circle cx="360.6" cy="553.5" r="1.50" fill="#00BFC4"/><circle cx="361.5" cy="550.9" r="1.50" fill="#00BFC4"/><circle cx="362.4" cy="547.8" r="1.50" fill="#00BFC4"/><circle cx="363.3" cy="545.5" r="1.50" fill="#00BFC4"/><circle cx="364.2" cy="544.9" r="1.50" fill="#00BFC4"/><circle cx="365.1" cy="544.3" r="1.50" fill="#00BFC4"/><circle cx="366.0" cy="544.5" r="1.50" fill="#00BFC4"/><circle cx="366.9" cy="544.8" r="1.50" fill="#00BFC4"/><circle cx="367.8" cy="545.2" r="1.50" fill="#00BFC4"/><circle cx="368.7" cy="545.7" r="1.50" fill="#00BFC4"/><circle cx="369.6" cy="546.1" r="1.50" fill="#00BFC4"/><circle cx="370.5" cy="546.4" r="1.50" fill="#00BFC4"/><circle cx="371.4" cy="545.8" r="1.50" fill="#00BFC4"/><circle cx="372.3" cy="545.2" r="1.50" fill="#00BFC4"/><circle cx="373.2" cy="545.2" r="1.50" fill="#00BFC4"/><circle cx="374.1" cy="545.5" r="1.50" fill="#00BFC4"/><circle cx="375.0" cy="545.8" r="1.50" fill="#00BFC4"/><circle cx="375.9" cy="546.4" r="1.50" fill="#00BFC4"/><circle cx="376.8" cy="547.1" r="1.50" fill="#00BFC4"/><circle cx="377.7" cy="549.1" r="1.50" fill="#00BFC4"/><circle cx="378.6" cy="551.5" r="1.50" fill="#00BFC4"/><circle cx="379.5" cy="554.3" r="1.50" fill="#00BFC4"/><circle cx="380.4" cy="557.8" r="1.50" fill="#00BFC4"/><circle cx="381.3" cy="557.7" r="1.50" fill="#00BFC4"/><circle cx="382.2" cy="556.1" r="1.50" fill="#00BFC4"/><circle cx="383.1" cy="557.0" r="1.50" fill="#00BFC4"/><circle cx="384.0" cy="557.9" r="1.50" fill="#00BFC4"/><circle cx="384.9" cy="558.0" r="1.50" fill="#00BFC4"/><circle cx="385.8" cy="557.6" r="1.50" fill="#00BFC4"/><circle cx="386.7" cy="557.1" r="1.50" fill="#00BFC4"/><circle cx="387.6" cy="556.7" r="1.50" fill="#00BFC4"/><circle cx="388.5" cy="556.2" r="1.50" fill="#00BFC4"/><circle cx="389.4" cy="555.8" r="1.50" fill="#00BFC4"/><circle cx="390.3" cy="555.3" r="1.50" fill="#00BFC4"/><circle cx="391.2" cy="555.7" r="1.50" fill="#00BFC4"/><circle cx="392.1" cy="556.1" r="1.50" fill="#00BFC4"/><circle cx="393.0" cy="557.2" r="1.50" fill="#00BFC4"/><circle cx="393.9" cy="558.3" r="1.50" fill="#00BFC4"/><circle cx="394.8" cy="559.1" r="1.50" fill="#00BFC4"/><circle cx="395.7" cy="559.3" r="1.50" fill="#00BFC4"/><circle cx="396.6" cy="559.6" r="1.50" fill="#00BFC4"/><circle cx="397.5" cy="559.8" r="1.50" fill="#00BFC4"/><circle cx="398.4" cy="559.7" r="1.50" fill="#00BFC4"/><circle cx="399.3" cy="559.5" r="1.50" fill="#00BFC4"/><circle cx="400.2" cy="559.4" r="1.50" fill="#00BFC4"/><circle cx="401.1" cy="559.3" r="1.50" fill="#00BFC4"/><circle cx="402.0" cy="559.2" r="1.50" fill="#00BFC4"/><circle cx="402.9" cy="559.1" r="1.50" fill="#00BFC4"/><circle cx="403.8" cy="559.1" r="1.50" fill="#00BFC4"/><circle cx="404.7" cy="559.4" r="1.50" fill="#00BFC4"/><circle cx="405.6" cy="559.6" r="1.50" fill="#00BFC4"/><circle cx="406.5" cy="559.9" r="1.50" fill="#00BFC4"/><circle cx="407.4" cy="560.4" r="1.50" fill="#00BFC4"/><circle cx="408.3" cy="560.8" r="1.50" fill="#00BFC4"/><circle cx="409.2" cy="561.3" r="1.50" fill="#00BFC4"/><circle cx="410.1" cy="558.2" r="1.50" fill="#00BFC4"/><circle cx="411.0" cy="554.9" r="1.50" fill="#00BFC4"/><circle cx="411.9" cy="551.4" r="1.50" fill="#00BFC4"/><circle cx="412.8" cy="549.6" r="1.50" fill="#00BFC4"/><circle cx="413.7" cy="548.7" r="1.50" fill="#00BFC4"/><circle cx="414.6" cy="548.1" r="1.50" fill="#00BFC4"/><circle cx="415.5" cy="548.7" r="1.50" fill="#00BFC4"/><circle cx="416.4" cy="549.4" r="1.50" fill="#00BFC4"/><circle cx="417.3" cy="550.0" r="1.50" fill="#00BFC4"/><circle cx="418.2" cy="550.6" r="1.50" fill="#00BFC4"/><circle cx="419.1" cy="550.9" r="1.50" fill="#00BFC4"/><circle cx="420.0" cy="550.6" r="1.50" fill="#00BFC4"/><circle cx="420.9" cy="550.2" r="1.50" fill="#00BFC4"/><circle cx="421.8" cy="550.5" r="1.50" fill="#00BFC4"/><circle cx="422.7" cy="550.8" r="1.50" fill="#00BFC4"/><circle cx="423.6" cy="551.0" r="1.50" fill="#00BFC4"/><circle cx="424.5" cy="551.0" r="1.50" fill="#00BFC4"/><circle cx="425.4" cy="551.0" r="1.50" fill="#00BFC4"/><circle cx="426.3" cy="550.6" r="1.50" fill="#00BFC4"/><circle cx="427.2" cy="550.1" r="1.50" fill="#00BFC4"/><circle cx="428.1" cy="549.7" r="1.50" fill="#00BFC4"/><circle cx="429.0" cy="549.3" r="1.50" fill="#00BFC4"/><circle cx="429.9" cy="549.1" r="1.50" fill="#00BFC4"/><circle cx="430.8" cy="548.9" r="1.50" fill="#00BFC4"/><circle cx="431.7" cy="548.8" r="1.50" fill="#00BFC4"/><circle cx="432.6" cy="549.0" r="1.50" fill="#00BFC4"/><circle cx="433.5" cy="549.3" r="1.50" fill="#00BFC4"/><circle cx="434.4" cy="549.5" r="1.50" fill="#00BFC4"/><circle cx="435.3" cy="549.7" r="1.50" fill="#00BFC4"/><circle cx="436.2" cy="549.9" r="1.50" fill="#00BFC4"/><circle cx="437.1" cy="550.2" r="1.50" fill="#00BFC4"/><circle cx="438.0" cy="550.9" r="1.50" fill="#00BFC4"/><circle cx="438.9" cy="551.9" r="1.50" fill="#00BFC4"/><circle cx="439.8" cy="552.8" r="1.50" fill="#00BFC4"/><circle cx="440.7" cy="554.0" r="1.50" fill="#00BFC4"/><circle cx="441.6" cy="555.6" r="1.50" fill="#00BFC4"/><circle cx="442.5" cy="557.2" r="1.50" fill="#00BFC4"/><circle cx="443.4" cy="560.3" r="1.50" fill="#00BFC4"/><circle cx="444.3" cy="562.5" r="1.50" fill="#00BFC4"/><circle cx="445.2" cy="563.6" r="1.50" fill="#00BFC4"/><circle cx="337.2" cy="572.3" r="1.50" fill="#00BFC4"/><circle cx="337.9" cy="570.1" r="1.50" fill="#00BFC4"/><circle cx="338.5" cy="567.9" r="1.50" fill="#00BFC4"/><circle cx="339.2" cy="565.7" r="1.50" fill="#00BFC4"/><circle cx="339.9" cy="563.5" r="1.50" fill="#00BFC4"/><circle cx="340.7" cy="561.3" r="1.50" fill="#00BFC4"/><circle cx="341.5" cy="559.2" r="1.50" fill="#00BFC4"/><circle cx="342.9" cy="557.3" r="1.50" fill="#00BFC4"/><circle cx="344.4" cy="555.6" r="1.50" fill="#00BFC4"/><circle cx="346.2" cy="554.2" r="1.50" fill="#00BFC4"/><circle cx="347.7" cy="552.5" r="1.50" fill="#00BFC4"/><circle cx="349.2" cy="550.7" r="1.50" fill="#00BFC4"/><circle cx="350.6" cy="548.8" r="1.50" fill="#00BFC4"/><circle cx="352.4" cy="547.6" r="1.50" fill="#00BFC4"/><circle cx="354.4" cy="547.9" r="1.50" fill="#00BFC4"/><circle cx="356.2" cy="549.3" r="1.50" fill="#00BFC4"/><circle cx="357.8" cy="551.0" r="1.50" fill="#00BFC4"/><circle cx="358.9" cy="553.0" r="1.50" fill="#00BFC4"/><circle cx="359.9" cy="555.1" r="1.50" fill="#00BFC4"/><circle cx="360.7" cy="553.3" r="1.50" fill="#00BFC4"/><circle cx="361.4" cy="551.2" r="1.50" fill="#00BFC4"/><circle cx="362.1" cy="549.0" r="1.50" fill="#00BFC4"/><circle cx="362.7" cy="546.7" r="1.50" fill="#00BFC4"/><circle cx="364.0" cy="545.0" r="1.50" fill="#00BFC4"/><circle cx="366.0" cy="544.5" r="1.50" fill="#00BFC4"/><circle cx="368.1" cy="545.4" r="1.50" fill="#00BFC4"/><circle cx="370.2" cy="546.4" r="1.50" fill="#00BFC4"/><circle cx="372.1" cy="545.3" r="1.50" fill="#00BFC4"/><circle cx="374.3" cy="545.5" r="1.50" fill="#00BFC4"/><circle cx="376.2" cy="546.7" r="1.50" fill="#00BFC4"/><circle cx="377.5" cy="548.5" r="1.50" fill="#00BFC4"/><circle cx="378.3" cy="550.7" r="1.50" fill="#00BFC4"/><circle cx="379.1" cy="552.8" r="1.50" fill="#00BFC4"/><circle cx="379.7" cy="555.0" r="1.50" fill="#00BFC4"/><circle cx="380.3" cy="557.3" r="1.50" fill="#00BFC4"/><circle cx="380.9" cy="558.5" r="1.50" fill="#00BFC4"/><circle cx="381.9" cy="556.4" r="1.50" fill="#00BFC4"/><circle cx="383.4" cy="557.3" r="1.50" fill="#00BFC4"/><circle cx="385.2" cy="557.9" r="1.50" fill="#00BFC4"/><circle cx="387.2" cy="556.8" r="1.50" fill="#00BFC4"/><circle cx="389.3" cy="555.8" r="1.50" fill="#00BFC4"/><circle cx="391.4" cy="555.8" r="1.50" fill="#00BFC4"/><circle cx="393.1" cy="557.2" r="1.50" fill="#00BFC4"/><circle cx="394.5" cy="559.0" r="1.50" fill="#00BFC4"/><circle cx="396.7" cy="559.6" r="1.50" fill="#00BFC4"/><circle cx="399.0" cy="559.6" r="1.50" fill="#00BFC4"/><circle cx="401.3" cy="559.3" r="1.50" fill="#00BFC4"/><circle cx="403.5" cy="559.1" r="1.50" fill="#00BFC4"/><circle cx="405.8" cy="559.7" r="1.50" fill="#00BFC4"/><circle cx="407.9" cy="560.6" r="1.50" fill="#00BFC4"/><circle cx="409.4" cy="560.5" r="1.50" fill="#00BFC4"/><circle cx="410.1" cy="558.3" r="1.50" fill="#00BFC4"/><circle cx="410.7" cy="556.1" r="1.50" fill="#00BFC4"/><circle cx="411.3" cy="553.9" r="1.50" fill="#00BFC4"/><circle cx="411.8" cy="551.6" r="1.50" fill="#00BFC4"/><circle cx="412.8" cy="549.6" r="1.50" fill="#00BFC4"/><circle cx="414.4" cy="548.0" r="1.50" fill="#00BFC4"/><circle cx="416.3" cy="549.3" r="1.50" fill="#00BFC4"/><circle cx="418.2" cy="550.6" r="1.50" fill="#00BFC4"/><circle cx="420.3" cy="550.4" r="1.50" fill="#00BFC4"/><circle cx="422.5" cy="550.7" r="1.50" fill="#00BFC4"/><circle cx="424.8" cy="551.0" r="1.50" fill="#00BFC4"/><circle cx="426.9" cy="550.3" r="1.50" fill="#00BFC4"/><circle cx="429.0" cy="549.3" r="1.50" fill="#00BFC4"/><circle cx="431.2" cy="548.8" r="1.50" fill="#00BFC4"/><circle cx="433.4" cy="549.3" r="1.50" fill="#00BFC4"/><circle cx="435.7" cy="549.8" r="1.50" fill="#00BFC4"/><circle cx="437.7" cy="550.7" r="1.50" fill="#00BFC4"/><circle cx="439.3" cy="552.3" r="1.50" fill="#00BFC4"/><circle cx="440.7" cy="554.1" r="1.50" fill="#00BFC4"/><circle cx="441.9" cy="556.1" r="1.50" fill="#00BFC4"/><circle cx="442.8" cy="558.2" r="1.50" fill="#00BFC4"/><circle cx="443.4" cy="560.4" r="1.50" fill="#00BFC4"/><circle cx="444.3" cy="562.5" r="1.50" fill="#00BFC4"/><circle cx="445.8" cy="564.3" r="1.50" fill="#00BFC4"/><polyline points="460.7,592.6 463.2,588.5 466.5,585.2 469.8,583.6 473.0,582.8 476.3,583.6 479.6,584.4 482.9,582.8 485.3,580.3 487.8,573.8 490.2,568.9 492.7,563.9 495.2,563.1 497.3,561.5 499.3,564.8 501.7,568.9 504.2,573.8 506.6,577.9 508.3,577.0 510.0,575.9 511.7,572.5 514.6,571.9 518.0,574.2 521.5,578.2 524.9,582.8 527.8,585.1 530.7,583.0 533.5,584.0 536.4,586.3 539.9,588.6 544.4,589.1 549.0,590.8 553.6,591.4 558.2,590.3 561.7,587.4 565.1,588.6 567.4,589.7 569.7,591.4" fill="none" stroke="#00BFC4" stroke-width="2.20" stroke-linejoin="round"/><circle cx="460.7" cy="592.6" r="1.50" fill="#00BFC4"/><circle cx="461.6" cy="591.1" r="1.50" fill="#00BFC4"/><circle cx="462.5" cy="589.6" r="1.50" fill="#00BFC4"/><circle cx="463.4" cy="588.3" r="1.50" fill="#00BFC4"/><circle cx="464.3" cy="587.4" r="1.50" fill="#00BFC4"/><circle cx="465.2" cy="586.5" r="1.50" fill="#00BFC4"/><circle cx="466.1" cy="585.6" r="1.50" fill="#00BFC4"/><circle cx="467.0" cy="585.0" r="1.50" fill="#00BFC4"/><circle cx="467.9" cy="584.5" r="1.50" fill="#00BFC4"/><circle cx="468.8" cy="584.1" r="1.50" fill="#00BFC4"/><circle cx="469.7" cy="583.6" r="1.50" fill="#00BFC4"/><circle cx="470.6" cy="583.4" r="1.50" fill="#00BFC4"/><circle cx="471.5" cy="583.2" r="1.50" fill="#00BFC4"/><circle cx="472.4" cy="583.0" r="1.50" fill="#00BFC4"/><circle cx="473.3" cy="582.9" r="1.50" fill="#00BFC4"/><circle cx="474.2" cy="583.1" r="1.50" fill="#00BFC4"/><circle cx="475.1" cy="583.3" r="1.50" fill="#00BFC4"/><circle cx="476.0" cy="583.5" r="1.50" fill="#00BFC4"/><circle cx="476.9" cy="583.7" r="1.50" fill="#00BFC4"/><circle cx="477.8" cy="584.0" r="1.50" fill="#00BFC4"/><circle cx="478.7" cy="584.2" r="1.50" fill="#00BFC4"/><circle cx="479.6" cy="584.4" r="1.50" fill="#00BFC4"/><circle cx="480.5" cy="584.0" r="1.50" fill="#00BFC4"/><circle cx="481.4" cy="583.5" r="1.50" fill="#00BFC4"/><circle cx="482.3" cy="583.1" r="1.50" fill="#00BFC4"/><circle cx="483.2" cy="582.5" r="1.50" fill="#00BFC4"/><circle cx="484.1" cy="581.6" r="1.50" fill="#00BFC4"/><circle cx="485.0" cy="580.6" r="1.50" fill="#00BFC4"/><circle cx="485.9" cy="578.7" r="1.50" fill="#00BFC4"/><circle cx="486.8" cy="576.4" r="1.50" fill="#00BFC4"/><circle cx="487.7" cy="574.1" r="1.50" fill="#00BFC4"/><circle cx="488.6" cy="572.2" r="1.50" fill="#00BFC4"/><circle cx="489.5" cy="570.3" r="1.50" fill="#00BFC4"/><circle cx="490.4" cy="568.5" r="1.50" fill="#00BFC4"/><circle cx="491.3" cy="566.7" r="1.50" fill="#00BFC4"/><circle cx="492.2" cy="564.9" r="1.50" fill="#00BFC4"/><circle cx="493.1" cy="563.8" r="1.50" fill="#00BFC4"/><circle cx="494.0" cy="563.5" r="1.50" fill="#00BFC4"/><circle cx="494.9" cy="563.2" r="1.50" fill="#00BFC4"/><circle cx="495.8" cy="562.6" r="1.50" fill="#00BFC4"/><circle cx="496.7" cy="562.0" r="1.50" fill="#00BFC4"/><circle cx="497.6" cy="562.0" r="1.50" fill="#00BFC4"/><circle cx="498.5" cy="563.5" r="1.50" fill="#00BFC4"/><circle cx="499.4" cy="565.0" r="1.50" fill="#00BFC4"/><circle cx="500.3" cy="566.5" r="1.50" fill="#00BFC4"/><circle cx="501.2" cy="568.0" r="1.50" fill="#00BFC4"/><circle cx="502.1" cy="569.7" r="1.50" fill="#00BFC4"/><circle cx="503.0" cy="571.4" r="1.50" fill="#00BFC4"/><circle cx="503.9" cy="573.2" r="1.50" fill="#00BFC4"/><circle cx="504.8" cy="574.8" r="1.50" fill="#00BFC4"/><circle cx="505.7" cy="576.4" r="1.50" fill="#00BFC4"/><circle cx="506.6" cy="577.9" r="1.50" fill="#00BFC4"/><circle cx="507.5" cy="577.4" r="1.50" fill="#00BFC4"/><circle cx="508.4" cy="576.9" r="1.50" fill="#00BFC4"/><circle cx="509.3" cy="576.4" r="1.50" fill="#00BFC4"/><circle cx="510.2" cy="575.5" r="1.50" fill="#00BFC4"/><circle cx="511.1" cy="573.7" r="1.50" fill="#00BFC4"/><circle cx="512.0" cy="572.4" r="1.50" fill="#00BFC4"/><circle cx="512.9" cy="572.3" r="1.50" fill="#00BFC4"/><circle cx="513.8" cy="572.1" r="1.50" fill="#00BFC4"/><circle cx="514.7" cy="572.0" r="1.50" fill="#00BFC4"/><circle cx="515.6" cy="572.6" r="1.50" fill="#00BFC4"/><circle cx="516.5" cy="573.2" r="1.50" fill="#00BFC4"/><circle cx="517.4" cy="573.8" r="1.50" fill="#00BFC4"/><circle cx="518.3" cy="574.5" r="1.50" fill="#00BFC4"/><circle cx="519.2" cy="575.6" r="1.50" fill="#00BFC4"/><circle cx="520.1" cy="576.6" r="1.50" fill="#00BFC4"/><circle cx="521.0" cy="577.6" r="1.50" fill="#00BFC4"/><circle cx="521.9" cy="578.7" r="1.50" fill="#00BFC4"/><circle cx="522.8" cy="580.0" r="1.50" fill="#00BFC4"/><circle cx="523.7" cy="581.2" r="1.50" fill="#00BFC4"/><circle cx="524.6" cy="582.4" r="1.50" fill="#00BFC4"/><circle cx="525.5" cy="583.3" r="1.50" fill="#00BFC4"/><circle cx="526.4" cy="584.0" r="1.50" fill="#00BFC4"/><circle cx="527.3" cy="584.7" r="1.50" fill="#00BFC4"/><circle cx="528.2" cy="584.8" r="1.50" fill="#00BFC4"/><circle cx="529.1" cy="584.2" r="1.50" fill="#00BFC4"/><circle cx="530.0" cy="583.5" r="1.50" fill="#00BFC4"/><circle cx="530.9" cy="583.1" r="1.50" fill="#00BFC4"/><circle cx="531.8" cy="583.4" r="1.50" fill="#00BFC4"/><circle cx="532.7" cy="583.7" r="1.50" fill="#00BFC4"/><circle cx="533.6" cy="584.1" r="1.50" fill="#00BFC4"/><circle cx="534.5" cy="584.8" r="1.50" fill="#00BFC4"/><circle cx="535.4" cy="585.5" r="1.50" fill="#00BFC4"/><circle cx="536.3" cy="586.2" r="1.50" fill="#00BFC4"/><circle cx="537.2" cy="586.8" r="1.50" fill="#00BFC4"/><circle cx="538.1" cy="587.4" r="1.50" fill="#00BFC4"/><circle cx="539.0" cy="588.0" r="1.50" fill="#00BFC4"/><circle cx="539.9" cy="588.6" r="1.50" fill="#00BFC4"/><circle cx="540.8" cy="588.7" r="1.50" fill="#00BFC4"/><circle cx="541.7" cy="588.8" r="1.50" fill="#00BFC4"/><circle cx="542.6" cy="588.9" r="1.50" fill="#00BFC4"/><circle cx="543.5" cy="589.0" r="1.50" fill="#00BFC4"/><circle cx="544.4" cy="589.1" r="1.50" fill="#00BFC4"/><circle cx="545.3" cy="589.4" r="1.50" fill="#00BFC4"/><circle cx="546.2" cy="589.8" r="1.50" fill="#00BFC4"/><circle cx="547.1" cy="590.1" r="1.50" fill="#00BFC4"/><circle cx="548.0" cy="590.4" r="1.50" fill="#00BFC4"/><circle cx="548.9" cy="590.8" r="1.50" fill="#00BFC4"/><circle cx="549.8" cy="590.9" r="1.50" fill="#00BFC4"/><circle cx="550.7" cy="591.0" r="1.50" fill="#00BFC4"/><circle cx="551.6" cy="591.1" r="1.50" fill="#00BFC4"/><circle cx="552.5" cy="591.3" r="1.50" fill="#00BFC4"/><circle cx="553.4" cy="591.4" r="1.50" fill="#00BFC4"/><circle cx="554.3" cy="591.2" r="1.50" fill="#00BFC4"/><circle cx="555.2" cy="591.0" r="1.50" fill="#00BFC4"/><circle cx="556.1" cy="590.8" r="1.50" fill="#00BFC4"/><circle cx="557.0" cy="590.6" r="1.50" fill="#00BFC4"/><circle cx="557.9" cy="590.4" r="1.50" fill="#00BFC4"/><circle cx="558.8" cy="589.8" r="1.50" fill="#00BFC4"/><circle cx="559.7" cy="589.1" r="1.50" fill="#00BFC4"/><circle cx="560.6" cy="588.3" r="1.50" fill="#00BFC4"/><circle cx="561.5" cy="587.6" r="1.50" fill="#00BFC4"/><circle cx="562.4" cy="587.6" r="1.50" fill="#00BFC4"/><circle cx="563.3" cy="588.0" r="1.50" fill="#00BFC4"/><circle cx="564.2" cy="588.3" r="1.50" fill="#00BFC4"/><circle cx="565.1" cy="588.6" r="1.50" fill="#00BFC4"/><circle cx="566.0" cy="589.0" r="1.50" fill="#00BFC4"/><circle cx="566.9" cy="589.5" r="1.50" fill="#00BFC4"/><circle cx="567.8" cy="590.0" r="1.50" fill="#00BFC4"/><circle cx="568.7" cy="590.7" r="1.50" fill="#00BFC4"/><circle cx="569.6" cy="591.3" r="1.50" fill="#00BFC4"/><circle cx="460.7" cy="592.6" r="1.50" fill="#00BFC4"/><circle cx="461.9" cy="590.6" r="1.50" fill="#00BFC4"/><circle cx="463.1" cy="588.6" r="1.50" fill="#00BFC4"/><circle cx="464.7" cy="587.0" r="1.50" fill="#00BFC4"/><circle cx="466.4" cy="585.3" r="1.50" fill="#00BFC4"/><circle cx="468.4" cy="584.3" r="1.50" fill="#00BFC4"/><circle cx="470.6" cy="583.4" r="1.50" fill="#00BFC4"/><circle cx="472.9" cy="582.8" r="1.50" fill="#00BFC4"/><circle cx="475.1" cy="583.3" r="1.50" fill="#00BFC4"/><circle cx="477.4" cy="583.9" r="1.50" fill="#00BFC4"/><circle cx="479.6" cy="584.4" r="1.50" fill="#00BFC4"/><circle cx="481.7" cy="583.4" r="1.50" fill="#00BFC4"/><circle cx="483.6" cy="582.1" r="1.50" fill="#00BFC4"/><circle cx="485.2" cy="580.4" r="1.50" fill="#00BFC4"/><circle cx="486.1" cy="578.2" r="1.50" fill="#00BFC4"/><circle cx="486.9" cy="576.1" r="1.50" fill="#00BFC4"/><circle cx="487.8" cy="573.9" r="1.50" fill="#00BFC4"/><circle cx="488.8" cy="571.8" r="1.50" fill="#00BFC4"/><circle cx="489.8" cy="569.7" r="1.50" fill="#00BFC4"/><circle cx="490.8" cy="567.6" r="1.50" fill="#00BFC4"/><circle cx="491.9" cy="565.6" r="1.50" fill="#00BFC4"/><circle cx="493.2" cy="563.8" r="1.50" fill="#00BFC4"/><circle cx="495.3" cy="563.0" r="1.50" fill="#00BFC4"/><circle cx="497.2" cy="561.6" r="1.50" fill="#00BFC4"/><circle cx="498.4" cy="563.4" r="1.50" fill="#00BFC4"/><circle cx="499.6" cy="565.4" r="1.50" fill="#00BFC4"/><circle cx="500.8" cy="567.4" r="1.50" fill="#00BFC4"/><circle cx="502.0" cy="569.4" r="1.50" fill="#00BFC4"/><circle cx="503.0" cy="571.5" r="1.50" fill="#00BFC4"/><circle cx="504.1" cy="573.5" r="1.50" fill="#00BFC4"/><circle cx="505.2" cy="575.6" r="1.50" fill="#00BFC4"/><circle cx="506.4" cy="577.6" r="1.50" fill="#00BFC4"/><circle cx="508.3" cy="577.0" r="1.50" fill="#00BFC4"/><circle cx="510.1" cy="575.6" r="1.50" fill="#00BFC4"/><circle cx="511.2" cy="573.5" r="1.50" fill="#00BFC4"/><circle cx="512.8" cy="572.3" r="1.50" fill="#00BFC4"/><circle cx="515.0" cy="572.2" r="1.50" fill="#00BFC4"/><circle cx="517.0" cy="573.5" r="1.50" fill="#00BFC4"/><circle cx="518.7" cy="575.0" r="1.50" fill="#00BFC4"/><circle cx="520.2" cy="576.8" r="1.50" fill="#00BFC4"/><circle cx="521.7" cy="578.5" r="1.50" fill="#00BFC4"/><circle cx="523.1" cy="580.4" r="1.50" fill="#00BFC4"/><circle cx="524.5" cy="582.3" r="1.50" fill="#00BFC4"/><circle cx="526.2" cy="583.8" r="1.50" fill="#00BFC4"/><circle cx="528.0" cy="584.9" r="1.50" fill="#00BFC4"/><circle cx="529.9" cy="583.6" r="1.50" fill="#00BFC4"/><circle cx="532.0" cy="583.5" r="1.50" fill="#00BFC4"/><circle cx="534.1" cy="584.4" r="1.50" fill="#00BFC4"/><circle cx="535.9" cy="585.9" r="1.50" fill="#00BFC4"/><circle cx="537.8" cy="587.2" r="1.50" fill="#00BFC4"/><circle cx="539.7" cy="588.5" r="1.50" fill="#00BFC4"/><circle cx="542.0" cy="588.8" r="1.50" fill="#00BFC4"/><circle cx="544.3" cy="589.1" r="1.50" fill="#00BFC4"/><circle cx="546.5" cy="589.9" r="1.50" fill="#00BFC4"/><circle cx="548.7" cy="590.7" r="1.50" fill="#00BFC4"/><circle cx="551.0" cy="591.1" r="1.50" fill="#00BFC4"/><circle cx="553.3" cy="591.4" r="1.50" fill="#00BFC4"/><circle cx="555.6" cy="590.9" r="1.50" fill="#00BFC4"/><circle cx="557.8" cy="590.4" r="1.50" fill="#00BFC4"/><circle cx="559.7" cy="589.1" r="1.50" fill="#00BFC4"/><circle cx="561.5" cy="587.6" r="1.50" fill="#00BFC4"/><circle cx="563.6" cy="588.1" r="1.50" fill="#00BFC4"/><circle cx="565.8" cy="588.9" r="1.50" fill="#00BFC4"/><circle cx="567.8" cy="590.0" r="1.50" fill="#00BFC4"/><circle cx="569.7" cy="591.4" r="1.50" fill="#00BFC4"/></g><rect x="332.3" y="466.3" width="118.5" height="15.2" fill="#d9d9d9" stroke="#333" stroke-width="1"/><text x="391.6" y="477.2" text-anchor="middle" font-size="8" fill="#1a1a1a">Flight 1</text><rect x="332.3" y="481.5" width="118.5" height="116.7" fill="none" stroke="#333" stroke-width="1"/><rect x="455.3" y="466.3" width="119.0" height="15.2" fill="#d9d9d9" stroke="#333" stroke-width="1"/><text x="514.8" y="477.2" text-anchor="middle" font-size="8" fill="#1a1a1a">Flight 2</text><rect x="455.3" y="481.5" width="119.0" height="116.7" fill="none" stroke="#333" stroke-width="1"/><line x1="329.6" x2="332.3" y1="511.2" y2="511.2" stroke="#333" stroke-width="1"/><text x="328.0" y="514.5" text-anchor="end" font-size="9.6" fill="#4d4d4d" stroke="#4d4d4d" stroke-width="0.12">2300</text><line x1="329.6" x2="332.3" y1="543.4" y2="543.4" stroke="#333" stroke-width="1"/><text x="328.0" y="546.7" text-anchor="end" font-size="9.6" fill="#4d4d4d" stroke="#4d4d4d" stroke-width="0.12">2200</text><line x1="329.6" x2="332.3" y1="575.6" y2="575.6" stroke="#333" stroke-width="1"/><text x="328.0" y="578.9" text-anchor="end" font-size="9.6" fill="#4d4d4d" stroke="#4d4d4d" stroke-width="0.12">2100</text><line x1="370.4" x2="370.4" y1="598.2" y2="600.9" stroke="#333" stroke-width="1"/><text x="370.4" y="609.6" text-anchor="middle" font-size="9.6" fill="#4d4d4d" stroke="#4d4d4d" stroke-width="0.12">09:45</text><line x1="489.4" x2="489.4" y1="598.2" y2="600.9" stroke="#333" stroke-width="1"/><text x="489.4" y="609.6" text-anchor="middle" font-size="9.6" fill="#4d4d4d" stroke="#4d4d4d" stroke-width="0.12">14:15</text><line x1="533.8" x2="533.8" y1="598.2" y2="600.9" stroke="#333" stroke-width="1"/><text x="533.8" y="609.6" text-anchor="middle" font-size="9.6" fill="#4d4d4d" stroke="#4d4d4d" stroke-width="0.12">15:00</text><text transform="translate(299.6,540) rotate(-90)" text-anchor="middle" font-size="9.6" fill="#000" stroke="#000" stroke-width="0.12">CH<tspan font-size="6.5" dy="2">4</tspan><tspan dy="-2"> [ppb]</tspan></text>
<text x="589.5" y="509.7" font-size="9.6" fill="#000" textLength="95" lengthAdjust="spacingAndGlyphs" stroke="#000" stroke-width="0.12">Atmospheric CH<tspan font-size="6.5" dy="2">4</tspan><tspan dy="-2"> [ppb]</tspan></text>
<line x1="591.1" x2="609.8" y1="529.3" y2="529.3" stroke="#F8766D" stroke-width="1.3"/><circle cx="600.5" cy="529.3" r="1.7" fill="#F8766D"/>
<text x="617.4" y="532.6" font-size="9.6" fill="#000" stroke="#000" stroke-width="0.12">Observations</text>
<line x1="591.1" x2="609.8" y1="552.8" y2="552.8" stroke="#00BFC4" stroke-width="2"/><circle cx="600.5" cy="552.8" r="1.6" fill="#00BFC4"/>
<text x="617.4" y="556.1" font-size="9.6" fill="#000" stroke="#000" stroke-width="0.12">Model</text>
<line x1="591.1" x2="609.8" y1="579" y2="579" stroke="#000" stroke-width="1.8" stroke-dasharray="5.3 6.6"/>
<text x="617.4" y="582.3" font-size="9.6" fill="#000" stroke="#000" stroke-width="0.12">Background</text>
</svg></body></html>
